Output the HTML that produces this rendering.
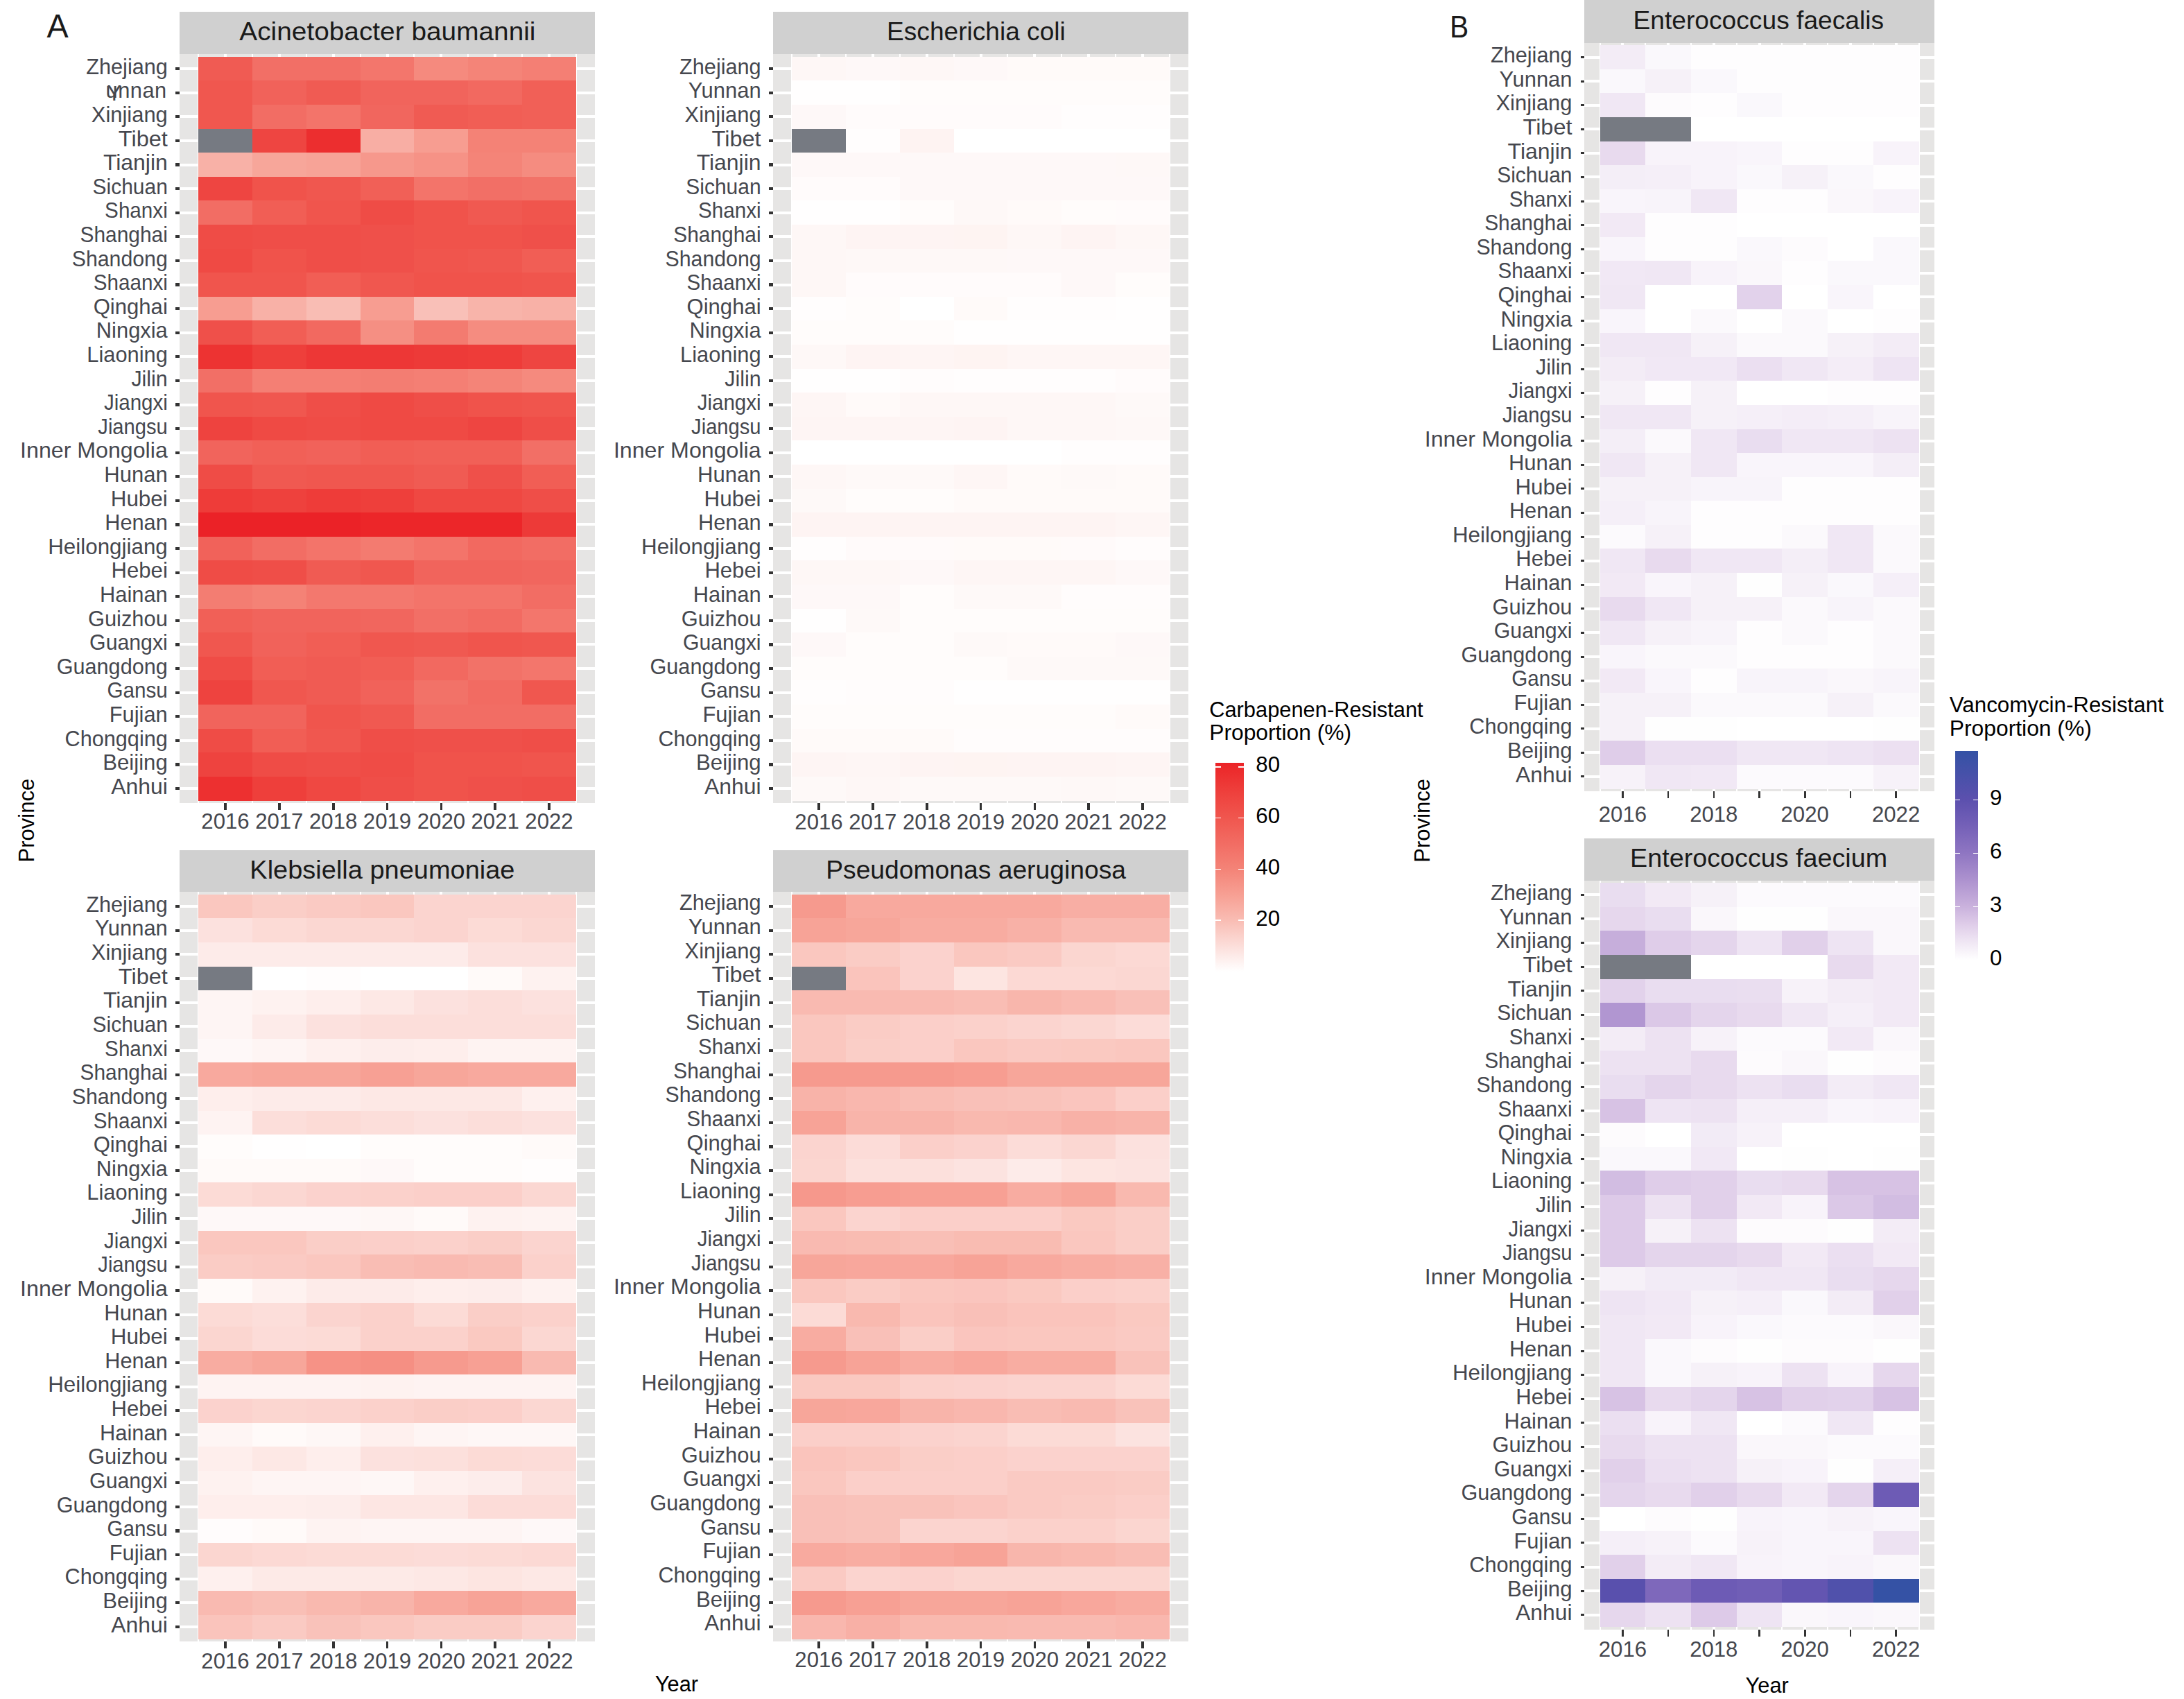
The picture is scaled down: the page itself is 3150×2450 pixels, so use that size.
<!DOCTYPE html>
<html><head><meta charset="utf-8"><title>Heatmaps</title>
<style>html,body{margin:0;padding:0;background:#fff}svg{display:block}text{font-family:'Liberation Sans', Arial, sans-serif}</style></head>
<body><svg width="3150" height="2450" viewBox="0 0 3150 2450" shape-rendering="crispEdges">
<rect width="3150" height="2450" fill="#fff"/>
<rect x="259" y="17" width="599" height="61" fill="#D0D0D0"/>
<text x="558.9" y="58.1" font-size="37.44" text-anchor="middle" fill="#1a1a1a" textLength="427.2" lengthAdjust="spacingAndGlyphs">Acinetobacter baumannii</text>
<rect x="259" y="78" width="599" height="1079.5" fill="#E6E5E4"/>
<rect x="259" y="97.1" width="599" height="4" fill="#fff"/>
<rect x="259" y="131.7" width="599" height="4" fill="#fff"/>
<rect x="259" y="166.3" width="599" height="4" fill="#fff"/>
<rect x="259" y="200.9" width="599" height="4" fill="#fff"/>
<rect x="259" y="235.5" width="599" height="4" fill="#fff"/>
<rect x="259" y="270.1" width="599" height="4" fill="#fff"/>
<rect x="259" y="304.7" width="599" height="4" fill="#fff"/>
<rect x="259" y="339.3" width="599" height="4" fill="#fff"/>
<rect x="259" y="373.9" width="599" height="4" fill="#fff"/>
<rect x="259" y="408.5" width="599" height="4" fill="#fff"/>
<rect x="259" y="443.1" width="599" height="4" fill="#fff"/>
<rect x="259" y="477.7" width="599" height="4" fill="#fff"/>
<rect x="259" y="512.3" width="599" height="4" fill="#fff"/>
<rect x="259" y="546.9" width="599" height="4" fill="#fff"/>
<rect x="259" y="581.5" width="599" height="4" fill="#fff"/>
<rect x="259" y="616.0" width="599" height="4" fill="#fff"/>
<rect x="259" y="650.6" width="599" height="4" fill="#fff"/>
<rect x="259" y="685.2" width="599" height="4" fill="#fff"/>
<rect x="259" y="719.8" width="599" height="4" fill="#fff"/>
<rect x="259" y="754.4" width="599" height="4" fill="#fff"/>
<rect x="259" y="789.0" width="599" height="4" fill="#fff"/>
<rect x="259" y="823.6" width="599" height="4" fill="#fff"/>
<rect x="259" y="858.2" width="599" height="4" fill="#fff"/>
<rect x="259" y="892.8" width="599" height="4" fill="#fff"/>
<rect x="259" y="927.4" width="599" height="4" fill="#fff"/>
<rect x="259" y="962.0" width="599" height="4" fill="#fff"/>
<rect x="259" y="996.6" width="599" height="4" fill="#fff"/>
<rect x="259" y="1031.2" width="599" height="4" fill="#fff"/>
<rect x="259" y="1065.8" width="599" height="4" fill="#fff"/>
<rect x="259" y="1100.4" width="599" height="4" fill="#fff"/>
<rect x="259" y="1135.0" width="599" height="4" fill="#fff"/>
<rect x="323.0" y="78" width="4" height="1079.5" fill="#fff"/>
<rect x="400.8" y="78" width="4" height="1079.5" fill="#fff"/>
<rect x="478.7" y="78" width="4" height="1079.5" fill="#fff"/>
<rect x="556.5" y="78" width="4" height="1079.5" fill="#fff"/>
<rect x="634.4" y="78" width="4" height="1079.5" fill="#fff"/>
<rect x="712.2" y="78" width="4" height="1079.5" fill="#fff"/>
<rect x="790.0" y="78" width="4" height="1079.5" fill="#fff"/>
<rect x="285.0" y="78" width="2" height="1079.5" fill="#fff"/>
<rect x="362.9" y="78" width="2" height="1079.5" fill="#fff"/>
<rect x="440.7" y="78" width="2" height="1079.5" fill="#fff"/>
<rect x="518.6" y="78" width="2" height="1079.5" fill="#fff"/>
<rect x="596.4" y="78" width="2" height="1079.5" fill="#fff"/>
<rect x="674.3" y="78" width="2" height="1079.5" fill="#fff"/>
<rect x="752.1" y="78" width="2" height="1079.5" fill="#fff"/>
<rect x="830.0" y="78" width="2" height="1079.5" fill="#fff"/>
<rect x="286.0" y="81.8" width="78.2" height="34.9" fill="#f05b53"/>
<rect x="363.9" y="81.8" width="78.1" height="34.9" fill="#f26f66"/>
<rect x="441.7" y="81.8" width="78.2" height="34.9" fill="#f26f66"/>
<rect x="519.6" y="81.8" width="78.1" height="34.9" fill="#f3766c"/>
<rect x="597.4" y="81.8" width="78.2" height="34.9" fill="#f58a7e"/>
<rect x="675.3" y="81.8" width="78.1" height="34.9" fill="#f48478"/>
<rect x="753.1" y="81.8" width="78.2" height="34.9" fill="#f47f74"/>
<rect x="286.0" y="116.4" width="78.2" height="34.9" fill="#f0574f"/>
<rect x="363.9" y="116.4" width="78.1" height="34.9" fill="#f1625a"/>
<rect x="441.7" y="116.4" width="78.2" height="34.9" fill="#f05b53"/>
<rect x="519.6" y="116.4" width="78.1" height="34.9" fill="#f1645c"/>
<rect x="597.4" y="116.4" width="78.2" height="34.9" fill="#f1645c"/>
<rect x="675.3" y="116.4" width="78.1" height="34.9" fill="#f26960"/>
<rect x="753.1" y="116.4" width="78.2" height="34.9" fill="#f16057"/>
<rect x="286.0" y="151.0" width="78.2" height="34.9" fill="#f0574f"/>
<rect x="363.9" y="151.0" width="78.1" height="34.9" fill="#f26d64"/>
<rect x="441.7" y="151.0" width="78.2" height="34.9" fill="#f3746a"/>
<rect x="519.6" y="151.0" width="78.1" height="34.9" fill="#f1665e"/>
<rect x="597.4" y="151.0" width="78.2" height="34.9" fill="#f05b53"/>
<rect x="675.3" y="151.0" width="78.1" height="34.9" fill="#f15e55"/>
<rect x="753.1" y="151.0" width="78.2" height="34.9" fill="#f16057"/>
<rect x="286.0" y="185.6" width="78.2" height="34.9" fill="#767A82"/>
<rect x="363.9" y="185.6" width="78.1" height="34.9" fill="#ee4541"/>
<rect x="441.7" y="185.6" width="78.2" height="34.9" fill="#ec2e2f"/>
<rect x="519.6" y="185.6" width="78.1" height="34.9" fill="#f8aea4"/>
<rect x="597.4" y="185.6" width="78.2" height="34.9" fill="#f79d91"/>
<rect x="675.3" y="185.6" width="78.1" height="34.9" fill="#f48276"/>
<rect x="753.1" y="185.6" width="78.2" height="34.9" fill="#f48276"/>
<rect x="286.0" y="220.2" width="78.2" height="34.9" fill="#f8b1a7"/>
<rect x="363.9" y="220.2" width="78.1" height="34.9" fill="#f7a69a"/>
<rect x="441.7" y="220.2" width="78.2" height="34.9" fill="#f7a397"/>
<rect x="519.6" y="220.2" width="78.1" height="34.9" fill="#f6988c"/>
<rect x="597.4" y="220.2" width="78.2" height="34.9" fill="#f69286"/>
<rect x="675.3" y="220.2" width="78.1" height="34.9" fill="#f48478"/>
<rect x="753.1" y="220.2" width="78.2" height="34.9" fill="#f58c80"/>
<rect x="286.0" y="254.8" width="78.2" height="34.9" fill="#ee4541"/>
<rect x="363.9" y="254.8" width="78.1" height="34.9" fill="#f0534b"/>
<rect x="441.7" y="254.8" width="78.2" height="34.9" fill="#f0574f"/>
<rect x="519.6" y="254.8" width="78.1" height="34.9" fill="#f16057"/>
<rect x="597.4" y="254.8" width="78.2" height="34.9" fill="#f3746a"/>
<rect x="675.3" y="254.8" width="78.1" height="34.9" fill="#f26f66"/>
<rect x="753.1" y="254.8" width="78.2" height="34.9" fill="#f27268"/>
<rect x="286.0" y="289.4" width="78.2" height="34.9" fill="#f26d64"/>
<rect x="363.9" y="289.4" width="78.1" height="34.9" fill="#f15e55"/>
<rect x="441.7" y="289.4" width="78.2" height="34.9" fill="#f0554d"/>
<rect x="519.6" y="289.4" width="78.1" height="34.9" fill="#ef4c46"/>
<rect x="597.4" y="289.4" width="78.2" height="34.9" fill="#f0534b"/>
<rect x="675.3" y="289.4" width="78.1" height="34.9" fill="#f05951"/>
<rect x="753.1" y="289.4" width="78.2" height="34.9" fill="#f0554d"/>
<rect x="286.0" y="324.0" width="78.2" height="34.9" fill="#ef4c46"/>
<rect x="363.9" y="324.0" width="78.1" height="34.9" fill="#ef4e48"/>
<rect x="441.7" y="324.0" width="78.2" height="34.9" fill="#ef4e48"/>
<rect x="519.6" y="324.0" width="78.1" height="34.9" fill="#ef504a"/>
<rect x="597.4" y="324.0" width="78.2" height="34.9" fill="#f0534b"/>
<rect x="675.3" y="324.0" width="78.1" height="34.9" fill="#f0534b"/>
<rect x="753.1" y="324.0" width="78.2" height="34.9" fill="#ef504a"/>
<rect x="286.0" y="358.6" width="78.2" height="34.9" fill="#ef4a44"/>
<rect x="363.9" y="358.6" width="78.1" height="34.9" fill="#f0534b"/>
<rect x="441.7" y="358.6" width="78.2" height="34.9" fill="#ef4e48"/>
<rect x="519.6" y="358.6" width="78.1" height="34.9" fill="#ef504a"/>
<rect x="597.4" y="358.6" width="78.2" height="34.9" fill="#f0554d"/>
<rect x="675.3" y="358.6" width="78.1" height="34.9" fill="#f0574f"/>
<rect x="753.1" y="358.6" width="78.2" height="34.9" fill="#f15e55"/>
<rect x="286.0" y="393.2" width="78.2" height="34.9" fill="#f0554d"/>
<rect x="363.9" y="393.2" width="78.1" height="34.9" fill="#f0554d"/>
<rect x="441.7" y="393.2" width="78.2" height="34.9" fill="#f15e55"/>
<rect x="519.6" y="393.2" width="78.1" height="34.9" fill="#f0574f"/>
<rect x="597.4" y="393.2" width="78.2" height="34.9" fill="#f0534b"/>
<rect x="675.3" y="393.2" width="78.1" height="34.9" fill="#f0534b"/>
<rect x="753.1" y="393.2" width="78.2" height="34.9" fill="#f0554d"/>
<rect x="286.0" y="427.8" width="78.2" height="34.9" fill="#f79d91"/>
<rect x="363.9" y="427.8" width="78.1" height="34.9" fill="#f8b1a7"/>
<rect x="441.7" y="427.8" width="78.2" height="34.9" fill="#f9bdb4"/>
<rect x="519.6" y="427.8" width="78.1" height="34.9" fill="#f79d91"/>
<rect x="597.4" y="427.8" width="78.2" height="34.9" fill="#f9c0b8"/>
<rect x="675.3" y="427.8" width="78.1" height="34.9" fill="#f8b4aa"/>
<rect x="753.1" y="427.8" width="78.2" height="34.9" fill="#f8b1a7"/>
<rect x="286.0" y="462.4" width="78.2" height="34.9" fill="#ef504a"/>
<rect x="363.9" y="462.4" width="78.1" height="34.9" fill="#f15e55"/>
<rect x="441.7" y="462.4" width="78.2" height="34.9" fill="#f26960"/>
<rect x="519.6" y="462.4" width="78.1" height="34.9" fill="#f58f83"/>
<rect x="597.4" y="462.4" width="78.2" height="34.9" fill="#f37b70"/>
<rect x="675.3" y="462.4" width="78.1" height="34.9" fill="#f58c80"/>
<rect x="753.1" y="462.4" width="78.2" height="34.9" fill="#f58c80"/>
<rect x="286.0" y="497.0" width="78.2" height="34.9" fill="#ed3332"/>
<rect x="363.9" y="497.0" width="78.1" height="34.9" fill="#ee3f3b"/>
<rect x="441.7" y="497.0" width="78.2" height="34.9" fill="#ed3736"/>
<rect x="519.6" y="497.0" width="78.1" height="34.9" fill="#ed3736"/>
<rect x="597.4" y="497.0" width="78.2" height="34.9" fill="#ed3a38"/>
<rect x="675.3" y="497.0" width="78.1" height="34.9" fill="#ee3c39"/>
<rect x="753.1" y="497.0" width="78.2" height="34.9" fill="#ee4541"/>
<rect x="286.0" y="531.6" width="78.2" height="34.9" fill="#f26f66"/>
<rect x="363.9" y="531.6" width="78.1" height="34.9" fill="#f47f74"/>
<rect x="441.7" y="531.6" width="78.2" height="34.9" fill="#f47f74"/>
<rect x="519.6" y="531.6" width="78.1" height="34.9" fill="#f37d72"/>
<rect x="597.4" y="531.6" width="78.2" height="34.9" fill="#f47f74"/>
<rect x="675.3" y="531.6" width="78.1" height="34.9" fill="#f48478"/>
<rect x="753.1" y="531.6" width="78.2" height="34.9" fill="#f58a7e"/>
<rect x="286.0" y="566.2" width="78.2" height="34.9" fill="#f0554d"/>
<rect x="363.9" y="566.2" width="78.1" height="34.9" fill="#f0574f"/>
<rect x="441.7" y="566.2" width="78.2" height="34.9" fill="#ef4e48"/>
<rect x="519.6" y="566.2" width="78.1" height="34.9" fill="#ef4a44"/>
<rect x="597.4" y="566.2" width="78.2" height="34.9" fill="#ef4e48"/>
<rect x="675.3" y="566.2" width="78.1" height="34.9" fill="#f0534b"/>
<rect x="753.1" y="566.2" width="78.2" height="34.9" fill="#f0554d"/>
<rect x="286.0" y="600.8" width="78.2" height="34.8" fill="#ee433f"/>
<rect x="363.9" y="600.8" width="78.1" height="34.8" fill="#ef4a44"/>
<rect x="441.7" y="600.8" width="78.2" height="34.8" fill="#ef4c46"/>
<rect x="519.6" y="600.8" width="78.1" height="34.8" fill="#ef4a44"/>
<rect x="597.4" y="600.8" width="78.2" height="34.8" fill="#ef4a44"/>
<rect x="675.3" y="600.8" width="78.1" height="34.8" fill="#ee4541"/>
<rect x="753.1" y="600.8" width="78.2" height="34.8" fill="#ef4e48"/>
<rect x="286.0" y="635.3" width="78.2" height="34.9" fill="#f1645c"/>
<rect x="363.9" y="635.3" width="78.1" height="34.9" fill="#f16057"/>
<rect x="441.7" y="635.3" width="78.2" height="34.9" fill="#f1625a"/>
<rect x="519.6" y="635.3" width="78.1" height="34.9" fill="#f15e55"/>
<rect x="597.4" y="635.3" width="78.2" height="34.9" fill="#f16057"/>
<rect x="675.3" y="635.3" width="78.1" height="34.9" fill="#f16057"/>
<rect x="753.1" y="635.3" width="78.2" height="34.9" fill="#f26f66"/>
<rect x="286.0" y="669.9" width="78.2" height="34.9" fill="#ef4c46"/>
<rect x="363.9" y="669.9" width="78.1" height="34.9" fill="#f05951"/>
<rect x="441.7" y="669.9" width="78.2" height="34.9" fill="#f0574f"/>
<rect x="519.6" y="669.9" width="78.1" height="34.9" fill="#f0574f"/>
<rect x="597.4" y="669.9" width="78.2" height="34.9" fill="#f05b53"/>
<rect x="675.3" y="669.9" width="78.1" height="34.9" fill="#ef504a"/>
<rect x="753.1" y="669.9" width="78.2" height="34.9" fill="#f15e55"/>
<rect x="286.0" y="704.5" width="78.2" height="34.9" fill="#ee3c39"/>
<rect x="363.9" y="704.5" width="78.1" height="34.9" fill="#ee413d"/>
<rect x="441.7" y="704.5" width="78.2" height="34.9" fill="#ee3c39"/>
<rect x="519.6" y="704.5" width="78.1" height="34.9" fill="#ee3f3b"/>
<rect x="597.4" y="704.5" width="78.2" height="34.9" fill="#ef4842"/>
<rect x="675.3" y="704.5" width="78.1" height="34.9" fill="#ef4842"/>
<rect x="753.1" y="704.5" width="78.2" height="34.9" fill="#ef4e48"/>
<rect x="286.0" y="739.1" width="78.2" height="34.9" fill="#eb2227"/>
<rect x="363.9" y="739.1" width="78.1" height="34.9" fill="#eb2227"/>
<rect x="441.7" y="739.1" width="78.2" height="34.9" fill="#eb2227"/>
<rect x="519.6" y="739.1" width="78.1" height="34.9" fill="#ec2629"/>
<rect x="597.4" y="739.1" width="78.2" height="34.9" fill="#ec2629"/>
<rect x="675.3" y="739.1" width="78.1" height="34.9" fill="#ec2629"/>
<rect x="753.1" y="739.1" width="78.2" height="34.9" fill="#ed3a38"/>
<rect x="286.0" y="773.7" width="78.2" height="34.9" fill="#f1625a"/>
<rect x="363.9" y="773.7" width="78.1" height="34.9" fill="#f26d64"/>
<rect x="441.7" y="773.7" width="78.2" height="34.9" fill="#f3746a"/>
<rect x="519.6" y="773.7" width="78.1" height="34.9" fill="#f37b70"/>
<rect x="597.4" y="773.7" width="78.2" height="34.9" fill="#f3746a"/>
<rect x="675.3" y="773.7" width="78.1" height="34.9" fill="#f26960"/>
<rect x="753.1" y="773.7" width="78.2" height="34.9" fill="#f26d64"/>
<rect x="286.0" y="808.3" width="78.2" height="34.9" fill="#ef4c46"/>
<rect x="363.9" y="808.3" width="78.1" height="34.9" fill="#ef4e48"/>
<rect x="441.7" y="808.3" width="78.2" height="34.9" fill="#f05b53"/>
<rect x="519.6" y="808.3" width="78.1" height="34.9" fill="#f0574f"/>
<rect x="597.4" y="808.3" width="78.2" height="34.9" fill="#f1645c"/>
<rect x="675.3" y="808.3" width="78.1" height="34.9" fill="#f1645c"/>
<rect x="753.1" y="808.3" width="78.2" height="34.9" fill="#f1665e"/>
<rect x="286.0" y="842.9" width="78.2" height="34.9" fill="#f37d72"/>
<rect x="363.9" y="842.9" width="78.1" height="34.9" fill="#f48276"/>
<rect x="441.7" y="842.9" width="78.2" height="34.9" fill="#f3786e"/>
<rect x="519.6" y="842.9" width="78.1" height="34.9" fill="#f3786e"/>
<rect x="597.4" y="842.9" width="78.2" height="34.9" fill="#f3746a"/>
<rect x="675.3" y="842.9" width="78.1" height="34.9" fill="#f3746a"/>
<rect x="753.1" y="842.9" width="78.2" height="34.9" fill="#f26d64"/>
<rect x="286.0" y="877.5" width="78.2" height="34.9" fill="#f16057"/>
<rect x="363.9" y="877.5" width="78.1" height="34.9" fill="#f1645c"/>
<rect x="441.7" y="877.5" width="78.2" height="34.9" fill="#f1645c"/>
<rect x="519.6" y="877.5" width="78.1" height="34.9" fill="#f1665e"/>
<rect x="597.4" y="877.5" width="78.2" height="34.9" fill="#f26f66"/>
<rect x="675.3" y="877.5" width="78.1" height="34.9" fill="#f26b62"/>
<rect x="753.1" y="877.5" width="78.2" height="34.9" fill="#f3766c"/>
<rect x="286.0" y="912.1" width="78.2" height="34.9" fill="#f0574f"/>
<rect x="363.9" y="912.1" width="78.1" height="34.9" fill="#f1625a"/>
<rect x="441.7" y="912.1" width="78.2" height="34.9" fill="#f15e55"/>
<rect x="519.6" y="912.1" width="78.1" height="34.9" fill="#f0574f"/>
<rect x="597.4" y="912.1" width="78.2" height="34.9" fill="#f05951"/>
<rect x="675.3" y="912.1" width="78.1" height="34.9" fill="#f0554d"/>
<rect x="753.1" y="912.1" width="78.2" height="34.9" fill="#f0574f"/>
<rect x="286.0" y="946.7" width="78.2" height="34.9" fill="#ef4c46"/>
<rect x="363.9" y="946.7" width="78.1" height="34.9" fill="#f15e55"/>
<rect x="441.7" y="946.7" width="78.2" height="34.9" fill="#f05b53"/>
<rect x="519.6" y="946.7" width="78.1" height="34.9" fill="#f15e55"/>
<rect x="597.4" y="946.7" width="78.2" height="34.9" fill="#f26960"/>
<rect x="675.3" y="946.7" width="78.1" height="34.9" fill="#f27268"/>
<rect x="753.1" y="946.7" width="78.2" height="34.9" fill="#f3766c"/>
<rect x="286.0" y="981.3" width="78.2" height="34.9" fill="#ee433f"/>
<rect x="363.9" y="981.3" width="78.1" height="34.9" fill="#f0574f"/>
<rect x="441.7" y="981.3" width="78.2" height="34.9" fill="#f05b53"/>
<rect x="519.6" y="981.3" width="78.1" height="34.9" fill="#f1625a"/>
<rect x="597.4" y="981.3" width="78.2" height="34.9" fill="#f27268"/>
<rect x="675.3" y="981.3" width="78.1" height="34.9" fill="#f26b62"/>
<rect x="753.1" y="981.3" width="78.2" height="34.9" fill="#f0574f"/>
<rect x="286.0" y="1015.9" width="78.2" height="34.9" fill="#f1645c"/>
<rect x="363.9" y="1015.9" width="78.1" height="34.9" fill="#f1645c"/>
<rect x="441.7" y="1015.9" width="78.2" height="34.9" fill="#f0554d"/>
<rect x="519.6" y="1015.9" width="78.1" height="34.9" fill="#f05951"/>
<rect x="597.4" y="1015.9" width="78.2" height="34.9" fill="#f26d64"/>
<rect x="675.3" y="1015.9" width="78.1" height="34.9" fill="#f26d64"/>
<rect x="753.1" y="1015.9" width="78.2" height="34.9" fill="#f26d64"/>
<rect x="286.0" y="1050.5" width="78.2" height="34.9" fill="#ef4c46"/>
<rect x="363.9" y="1050.5" width="78.1" height="34.9" fill="#f15e55"/>
<rect x="441.7" y="1050.5" width="78.2" height="34.9" fill="#f0574f"/>
<rect x="519.6" y="1050.5" width="78.1" height="34.9" fill="#ef4e48"/>
<rect x="597.4" y="1050.5" width="78.2" height="34.9" fill="#ef504a"/>
<rect x="675.3" y="1050.5" width="78.1" height="34.9" fill="#ef504a"/>
<rect x="753.1" y="1050.5" width="78.2" height="34.9" fill="#ef4e48"/>
<rect x="286.0" y="1085.1" width="78.2" height="34.9" fill="#ee433f"/>
<rect x="363.9" y="1085.1" width="78.1" height="34.9" fill="#ef4c46"/>
<rect x="441.7" y="1085.1" width="78.2" height="34.9" fill="#ef4e48"/>
<rect x="519.6" y="1085.1" width="78.1" height="34.9" fill="#ef4c46"/>
<rect x="597.4" y="1085.1" width="78.2" height="34.9" fill="#f0534b"/>
<rect x="675.3" y="1085.1" width="78.1" height="34.9" fill="#f0534b"/>
<rect x="753.1" y="1085.1" width="78.2" height="34.9" fill="#f0554d"/>
<rect x="286.0" y="1119.7" width="78.2" height="34.9" fill="#ed3030"/>
<rect x="363.9" y="1119.7" width="78.1" height="34.9" fill="#ee3f3b"/>
<rect x="441.7" y="1119.7" width="78.2" height="34.9" fill="#ef4842"/>
<rect x="519.6" y="1119.7" width="78.1" height="34.9" fill="#ef4e48"/>
<rect x="597.4" y="1119.7" width="78.2" height="34.9" fill="#f0534b"/>
<rect x="675.3" y="1119.7" width="78.1" height="34.9" fill="#ef504a"/>
<rect x="753.1" y="1119.7" width="78.2" height="34.9" fill="#ef4e48"/>
<rect x="252.7" y="97.0" width="6.3" height="4.1" fill="#333333"/>
<text x="241.8" y="106.8" font-size="30.78" text-anchor="end" fill="#45474e" textLength="117.5" lengthAdjust="spacingAndGlyphs">Zhejiang</text>
<rect x="252.7" y="131.6" width="6.3" height="4.1" fill="#333333"/>
<text x="152.6" y="145.1" font-size="30.78" fill="#45474e" letter-spacing="0.5"><tspan>Y</tspan><tspan dx="-21.2" dy="-3.7">unnan</tspan></text>
<rect x="252.7" y="166.2" width="6.3" height="4.1" fill="#333333"/>
<text x="241.8" y="176.0" font-size="30.78" text-anchor="end" fill="#45474e" textLength="110.0" lengthAdjust="spacingAndGlyphs">Xinjiang</text>
<rect x="252.7" y="200.8" width="6.3" height="4.1" fill="#333333"/>
<text x="241.8" y="210.6" font-size="30.78" text-anchor="end" fill="#45474e" textLength="71.0" lengthAdjust="spacingAndGlyphs">Tibet</text>
<rect x="252.7" y="235.4" width="6.3" height="4.1" fill="#333333"/>
<text x="241.8" y="245.2" font-size="30.78" text-anchor="end" fill="#45474e" textLength="92.9" lengthAdjust="spacingAndGlyphs">Tianjin</text>
<rect x="252.7" y="270.0" width="6.3" height="4.1" fill="#333333"/>
<text x="241.8" y="279.8" font-size="30.78" text-anchor="end" fill="#45474e" textLength="108.3" lengthAdjust="spacingAndGlyphs">Sichuan</text>
<rect x="252.7" y="304.6" width="6.3" height="4.1" fill="#333333"/>
<text x="241.8" y="314.4" font-size="30.78" text-anchor="end" fill="#45474e" textLength="90.7" lengthAdjust="spacingAndGlyphs">Shanxi</text>
<rect x="252.7" y="339.2" width="6.3" height="4.1" fill="#333333"/>
<text x="241.8" y="349.0" font-size="30.78" text-anchor="end" fill="#45474e" textLength="126.3" lengthAdjust="spacingAndGlyphs">Shanghai</text>
<rect x="252.7" y="373.8" width="6.3" height="4.1" fill="#333333"/>
<text x="241.8" y="383.6" font-size="30.78" text-anchor="end" fill="#45474e" textLength="138.1" lengthAdjust="spacingAndGlyphs">Shandong</text>
<rect x="252.7" y="408.4" width="6.3" height="4.1" fill="#333333"/>
<text x="241.8" y="418.2" font-size="30.78" text-anchor="end" fill="#45474e" textLength="107.1" lengthAdjust="spacingAndGlyphs">Shaanxi</text>
<rect x="252.7" y="443.0" width="6.3" height="4.1" fill="#333333"/>
<text x="241.8" y="452.8" font-size="30.78" text-anchor="end" fill="#45474e" textLength="107.1" lengthAdjust="spacingAndGlyphs">Qinghai</text>
<rect x="252.7" y="477.6" width="6.3" height="4.1" fill="#333333"/>
<text x="241.8" y="487.4" font-size="30.78" text-anchor="end" fill="#45474e" textLength="103.0" lengthAdjust="spacingAndGlyphs">Ningxia</text>
<rect x="252.7" y="512.2" width="6.3" height="4.1" fill="#333333"/>
<text x="241.8" y="522.0" font-size="30.78" text-anchor="end" fill="#45474e" textLength="116.5" lengthAdjust="spacingAndGlyphs">Liaoning</text>
<rect x="252.7" y="546.8" width="6.3" height="4.1" fill="#333333"/>
<text x="241.8" y="556.6" font-size="30.78" text-anchor="end" fill="#45474e" textLength="52.4" lengthAdjust="spacingAndGlyphs">Jilin</text>
<rect x="252.7" y="581.4" width="6.3" height="4.1" fill="#333333"/>
<text x="241.8" y="591.2" font-size="30.78" text-anchor="end" fill="#45474e" textLength="91.9" lengthAdjust="spacingAndGlyphs">Jiangxi</text>
<rect x="252.7" y="616.0" width="6.3" height="4.1" fill="#333333"/>
<text x="241.8" y="625.8" font-size="30.78" text-anchor="end" fill="#45474e" textLength="100.5" lengthAdjust="spacingAndGlyphs">Jiangsu</text>
<rect x="252.7" y="650.6" width="6.3" height="4.1" fill="#333333"/>
<text x="241.8" y="660.3" font-size="30.78" text-anchor="end" fill="#45474e" textLength="212.7" lengthAdjust="spacingAndGlyphs">Inner Mongolia</text>
<rect x="252.7" y="685.2" width="6.3" height="4.1" fill="#333333"/>
<text x="241.8" y="694.9" font-size="30.78" text-anchor="end" fill="#45474e" textLength="91.6" lengthAdjust="spacingAndGlyphs">Hunan</text>
<rect x="252.7" y="719.8" width="6.3" height="4.1" fill="#333333"/>
<text x="241.8" y="729.5" font-size="30.78" text-anchor="end" fill="#45474e" textLength="82.1" lengthAdjust="spacingAndGlyphs">Hubei</text>
<rect x="252.7" y="754.4" width="6.3" height="4.1" fill="#333333"/>
<text x="241.8" y="764.1" font-size="30.78" text-anchor="end" fill="#45474e" textLength="90.6" lengthAdjust="spacingAndGlyphs">Henan</text>
<rect x="252.7" y="789.0" width="6.3" height="4.1" fill="#333333"/>
<text x="241.8" y="798.7" font-size="30.78" text-anchor="end" fill="#45474e" textLength="172.6" lengthAdjust="spacingAndGlyphs">Heilongjiang</text>
<rect x="252.7" y="823.6" width="6.3" height="4.1" fill="#333333"/>
<text x="241.8" y="833.3" font-size="30.78" text-anchor="end" fill="#45474e" textLength="81.2" lengthAdjust="spacingAndGlyphs">Hebei</text>
<rect x="252.7" y="858.2" width="6.3" height="4.1" fill="#333333"/>
<text x="241.8" y="867.9" font-size="30.78" text-anchor="end" fill="#45474e" textLength="97.9" lengthAdjust="spacingAndGlyphs">Hainan</text>
<rect x="252.7" y="892.8" width="6.3" height="4.1" fill="#333333"/>
<text x="241.8" y="902.5" font-size="30.78" text-anchor="end" fill="#45474e" textLength="114.9" lengthAdjust="spacingAndGlyphs">Guizhou</text>
<rect x="252.7" y="927.4" width="6.3" height="4.1" fill="#333333"/>
<text x="241.8" y="937.1" font-size="30.78" text-anchor="end" fill="#45474e" textLength="112.7" lengthAdjust="spacingAndGlyphs">Guangxi</text>
<rect x="252.7" y="962.0" width="6.3" height="4.1" fill="#333333"/>
<text x="241.8" y="971.7" font-size="30.78" text-anchor="end" fill="#45474e" textLength="160.1" lengthAdjust="spacingAndGlyphs">Guangdong</text>
<rect x="252.7" y="996.6" width="6.3" height="4.1" fill="#333333"/>
<text x="241.8" y="1006.3" font-size="30.78" text-anchor="end" fill="#45474e" textLength="87.3" lengthAdjust="spacingAndGlyphs">Gansu</text>
<rect x="252.7" y="1031.2" width="6.3" height="4.1" fill="#333333"/>
<text x="241.8" y="1040.9" font-size="30.78" text-anchor="end" fill="#45474e" textLength="84.1" lengthAdjust="spacingAndGlyphs">Fujian</text>
<rect x="252.7" y="1065.8" width="6.3" height="4.1" fill="#333333"/>
<text x="241.8" y="1075.5" font-size="30.78" text-anchor="end" fill="#45474e" textLength="148.2" lengthAdjust="spacingAndGlyphs">Chongqing</text>
<rect x="252.7" y="1100.4" width="6.3" height="4.1" fill="#333333"/>
<text x="241.8" y="1110.1" font-size="30.78" text-anchor="end" fill="#45474e" textLength="93.6" lengthAdjust="spacingAndGlyphs">Beijing</text>
<rect x="252.7" y="1135.0" width="6.3" height="4.1" fill="#333333"/>
<text x="241.8" y="1144.7" font-size="30.78" text-anchor="end" fill="#45474e" textLength="81.5" lengthAdjust="spacingAndGlyphs">Anhui</text>
<rect x="323.1" y="1157.5" width="3.7" height="10" fill="#333333"/>
<text x="325.0" y="1195.2" font-size="30.78" text-anchor="middle" fill="#45474e" textLength="69.3" lengthAdjust="spacingAndGlyphs">2016</text>
<rect x="400.9" y="1157.5" width="3.7" height="10" fill="#333333"/>
<text x="402.8" y="1195.2" font-size="30.78" text-anchor="middle" fill="#45474e" textLength="69.3" lengthAdjust="spacingAndGlyphs">2017</text>
<rect x="478.8" y="1157.5" width="3.7" height="10" fill="#333333"/>
<text x="480.7" y="1195.2" font-size="30.78" text-anchor="middle" fill="#45474e" textLength="69.3" lengthAdjust="spacingAndGlyphs">2018</text>
<rect x="556.6" y="1157.5" width="3.7" height="10" fill="#333333"/>
<text x="558.5" y="1195.2" font-size="30.78" text-anchor="middle" fill="#45474e" textLength="69.3" lengthAdjust="spacingAndGlyphs">2019</text>
<rect x="634.5" y="1157.5" width="3.7" height="10" fill="#333333"/>
<text x="636.4" y="1195.2" font-size="30.78" text-anchor="middle" fill="#45474e" textLength="69.3" lengthAdjust="spacingAndGlyphs">2020</text>
<rect x="712.4" y="1157.5" width="3.7" height="10" fill="#333333"/>
<text x="714.2" y="1195.2" font-size="30.78" text-anchor="middle" fill="#45474e" textLength="69.3" lengthAdjust="spacingAndGlyphs">2021</text>
<rect x="790.2" y="1157.5" width="3.7" height="10" fill="#333333"/>
<text x="792.0" y="1195.2" font-size="30.78" text-anchor="middle" fill="#45474e" textLength="69.3" lengthAdjust="spacingAndGlyphs">2022</text>
<rect x="1115" y="17" width="599" height="61" fill="#D0D0D0"/>
<text x="1407.9" y="58.1" font-size="37.44" text-anchor="middle" fill="#1a1a1a" textLength="257.7" lengthAdjust="spacingAndGlyphs">Escherichia coli</text>
<rect x="1115" y="78" width="599" height="1079.5" fill="#E6E5E4"/>
<rect x="1115" y="97.1" width="599" height="4" fill="#fff"/>
<rect x="1115" y="131.7" width="599" height="4" fill="#fff"/>
<rect x="1115" y="166.3" width="599" height="4" fill="#fff"/>
<rect x="1115" y="200.9" width="599" height="4" fill="#fff"/>
<rect x="1115" y="235.5" width="599" height="4" fill="#fff"/>
<rect x="1115" y="270.1" width="599" height="4" fill="#fff"/>
<rect x="1115" y="304.7" width="599" height="4" fill="#fff"/>
<rect x="1115" y="339.3" width="599" height="4" fill="#fff"/>
<rect x="1115" y="373.9" width="599" height="4" fill="#fff"/>
<rect x="1115" y="408.5" width="599" height="4" fill="#fff"/>
<rect x="1115" y="443.1" width="599" height="4" fill="#fff"/>
<rect x="1115" y="477.7" width="599" height="4" fill="#fff"/>
<rect x="1115" y="512.3" width="599" height="4" fill="#fff"/>
<rect x="1115" y="546.9" width="599" height="4" fill="#fff"/>
<rect x="1115" y="581.5" width="599" height="4" fill="#fff"/>
<rect x="1115" y="616.0" width="599" height="4" fill="#fff"/>
<rect x="1115" y="650.6" width="599" height="4" fill="#fff"/>
<rect x="1115" y="685.2" width="599" height="4" fill="#fff"/>
<rect x="1115" y="719.8" width="599" height="4" fill="#fff"/>
<rect x="1115" y="754.4" width="599" height="4" fill="#fff"/>
<rect x="1115" y="789.0" width="599" height="4" fill="#fff"/>
<rect x="1115" y="823.6" width="599" height="4" fill="#fff"/>
<rect x="1115" y="858.2" width="599" height="4" fill="#fff"/>
<rect x="1115" y="892.8" width="599" height="4" fill="#fff"/>
<rect x="1115" y="927.4" width="599" height="4" fill="#fff"/>
<rect x="1115" y="962.0" width="599" height="4" fill="#fff"/>
<rect x="1115" y="996.6" width="599" height="4" fill="#fff"/>
<rect x="1115" y="1031.2" width="599" height="4" fill="#fff"/>
<rect x="1115" y="1065.8" width="599" height="4" fill="#fff"/>
<rect x="1115" y="1100.4" width="599" height="4" fill="#fff"/>
<rect x="1115" y="1135.0" width="599" height="4" fill="#fff"/>
<rect x="1179.0" y="78" width="4" height="1079.5" fill="#fff"/>
<rect x="1256.8" y="78" width="4" height="1079.5" fill="#fff"/>
<rect x="1334.7" y="78" width="4" height="1079.5" fill="#fff"/>
<rect x="1412.5" y="78" width="4" height="1079.5" fill="#fff"/>
<rect x="1490.4" y="78" width="4" height="1079.5" fill="#fff"/>
<rect x="1568.2" y="78" width="4" height="1079.5" fill="#fff"/>
<rect x="1646.1" y="78" width="4" height="1079.5" fill="#fff"/>
<rect x="1141.0" y="78" width="2" height="1079.5" fill="#fff"/>
<rect x="1218.9" y="78" width="2" height="1079.5" fill="#fff"/>
<rect x="1296.7" y="78" width="2" height="1079.5" fill="#fff"/>
<rect x="1374.6" y="78" width="2" height="1079.5" fill="#fff"/>
<rect x="1452.4" y="78" width="2" height="1079.5" fill="#fff"/>
<rect x="1530.3" y="78" width="2" height="1079.5" fill="#fff"/>
<rect x="1608.1" y="78" width="2" height="1079.5" fill="#fff"/>
<rect x="1686.0" y="78" width="2" height="1079.5" fill="#fff"/>
<rect x="1142.0" y="81.8" width="78.2" height="34.9" fill="#fef7f6"/>
<rect x="1219.9" y="81.8" width="78.1" height="34.9" fill="#fef8f8"/>
<rect x="1297.7" y="81.8" width="78.2" height="34.9" fill="#fef7f6"/>
<rect x="1375.6" y="81.8" width="78.1" height="34.9" fill="#fef8f8"/>
<rect x="1453.4" y="81.8" width="78.2" height="34.9" fill="#fffaf9"/>
<rect x="1531.3" y="81.8" width="78.1" height="34.9" fill="#fffaf9"/>
<rect x="1609.1" y="81.8" width="78.2" height="34.9" fill="#fffaf9"/>
<rect x="1142.0" y="116.4" width="78.2" height="34.9" fill="#fffefe"/>
<rect x="1219.9" y="116.4" width="78.1" height="34.9" fill="#fffefe"/>
<rect x="1297.7" y="116.4" width="78.2" height="34.9" fill="#fffcfb"/>
<rect x="1375.6" y="116.4" width="78.1" height="34.9" fill="#fffcfb"/>
<rect x="1453.4" y="116.4" width="78.2" height="34.9" fill="#fffcfb"/>
<rect x="1531.3" y="116.4" width="78.1" height="34.9" fill="#fffcfb"/>
<rect x="1609.1" y="116.4" width="78.2" height="34.9" fill="#fffcfb"/>
<rect x="1142.0" y="151.0" width="78.2" height="34.9" fill="#fef8f8"/>
<rect x="1219.9" y="151.0" width="78.1" height="34.9" fill="#fffbfb"/>
<rect x="1297.7" y="151.0" width="78.2" height="34.9" fill="#fffbfb"/>
<rect x="1375.6" y="151.0" width="78.1" height="34.9" fill="#fffbfb"/>
<rect x="1453.4" y="151.0" width="78.2" height="34.9" fill="#fffbfb"/>
<rect x="1531.3" y="151.0" width="78.1" height="34.9" fill="#fffdfd"/>
<rect x="1609.1" y="151.0" width="78.2" height="34.9" fill="#fffdfd"/>
<rect x="1142.0" y="185.6" width="78.2" height="34.9" fill="#767A82"/>
<rect x="1219.9" y="185.6" width="78.1" height="34.9" fill="#fffdfd"/>
<rect x="1297.7" y="185.6" width="78.2" height="34.9" fill="#fef3f2"/>
<rect x="1375.6" y="185.6" width="78.1" height="34.9" fill="#FFFFFF"/>
<rect x="1453.4" y="185.6" width="78.2" height="34.9" fill="#FFFFFF"/>
<rect x="1531.3" y="185.6" width="78.1" height="34.9" fill="#FFFFFF"/>
<rect x="1609.1" y="185.6" width="78.2" height="34.9" fill="#FFFFFF"/>
<rect x="1142.0" y="220.2" width="78.2" height="34.9" fill="#fef8f8"/>
<rect x="1219.9" y="220.2" width="78.1" height="34.9" fill="#fef8f8"/>
<rect x="1297.7" y="220.2" width="78.2" height="34.9" fill="#fef8f8"/>
<rect x="1375.6" y="220.2" width="78.1" height="34.9" fill="#fef8f8"/>
<rect x="1453.4" y="220.2" width="78.2" height="34.9" fill="#fef8f8"/>
<rect x="1531.3" y="220.2" width="78.1" height="34.9" fill="#fef8f8"/>
<rect x="1609.1" y="220.2" width="78.2" height="34.9" fill="#fef8f7"/>
<rect x="1142.0" y="254.8" width="78.2" height="34.9" fill="#fffbfb"/>
<rect x="1219.9" y="254.8" width="78.1" height="34.9" fill="#fffbfb"/>
<rect x="1297.7" y="254.8" width="78.2" height="34.9" fill="#fef8f8"/>
<rect x="1375.6" y="254.8" width="78.1" height="34.9" fill="#fef8f8"/>
<rect x="1453.4" y="254.8" width="78.2" height="34.9" fill="#fef8f8"/>
<rect x="1531.3" y="254.8" width="78.1" height="34.9" fill="#fef8f8"/>
<rect x="1609.1" y="254.8" width="78.2" height="34.9" fill="#fef8f8"/>
<rect x="1142.0" y="289.4" width="78.2" height="34.9" fill="#fffefe"/>
<rect x="1219.9" y="289.4" width="78.1" height="34.9" fill="#fffefe"/>
<rect x="1297.7" y="289.4" width="78.2" height="34.9" fill="#fffcfb"/>
<rect x="1375.6" y="289.4" width="78.1" height="34.9" fill="#fef8f7"/>
<rect x="1453.4" y="289.4" width="78.2" height="34.9" fill="#fffaf9"/>
<rect x="1531.3" y="289.4" width="78.1" height="34.9" fill="#fffcfb"/>
<rect x="1609.1" y="289.4" width="78.2" height="34.9" fill="#fffbfb"/>
<rect x="1142.0" y="324.0" width="78.2" height="34.9" fill="#fef7f6"/>
<rect x="1219.9" y="324.0" width="78.1" height="34.9" fill="#fef4f3"/>
<rect x="1297.7" y="324.0" width="78.2" height="34.9" fill="#fef4f3"/>
<rect x="1375.6" y="324.0" width="78.1" height="34.9" fill="#fef4f2"/>
<rect x="1453.4" y="324.0" width="78.2" height="34.9" fill="#fef7f6"/>
<rect x="1531.3" y="324.0" width="78.1" height="34.9" fill="#fef4f3"/>
<rect x="1609.1" y="324.0" width="78.2" height="34.9" fill="#fef7f6"/>
<rect x="1142.0" y="358.6" width="78.2" height="34.9" fill="#fef7f6"/>
<rect x="1219.9" y="358.6" width="78.1" height="34.9" fill="#fef8f7"/>
<rect x="1297.7" y="358.6" width="78.2" height="34.9" fill="#fef8f7"/>
<rect x="1375.6" y="358.6" width="78.1" height="34.9" fill="#fef8f7"/>
<rect x="1453.4" y="358.6" width="78.2" height="34.9" fill="#fef8f8"/>
<rect x="1531.3" y="358.6" width="78.1" height="34.9" fill="#fef8f8"/>
<rect x="1609.1" y="358.6" width="78.2" height="34.9" fill="#fef8f8"/>
<rect x="1142.0" y="393.2" width="78.2" height="34.9" fill="#fef7f6"/>
<rect x="1219.9" y="393.2" width="78.1" height="34.9" fill="#fffbfb"/>
<rect x="1297.7" y="393.2" width="78.2" height="34.9" fill="#fffbfb"/>
<rect x="1375.6" y="393.2" width="78.1" height="34.9" fill="#fffbfb"/>
<rect x="1453.4" y="393.2" width="78.2" height="34.9" fill="#fffbfb"/>
<rect x="1531.3" y="393.2" width="78.1" height="34.9" fill="#fef8f8"/>
<rect x="1609.1" y="393.2" width="78.2" height="34.9" fill="#fffcfb"/>
<rect x="1142.0" y="427.8" width="78.2" height="34.9" fill="#fffdfd"/>
<rect x="1219.9" y="427.8" width="78.1" height="34.9" fill="#fffcfb"/>
<rect x="1297.7" y="427.8" width="78.2" height="34.9" fill="#FFFFFF"/>
<rect x="1375.6" y="427.8" width="78.1" height="34.9" fill="#fffaf9"/>
<rect x="1453.4" y="427.8" width="78.2" height="34.9" fill="#fffdfd"/>
<rect x="1531.3" y="427.8" width="78.1" height="34.9" fill="#fffdfd"/>
<rect x="1609.1" y="427.8" width="78.2" height="34.9" fill="#fffefe"/>
<rect x="1142.0" y="462.4" width="78.2" height="34.9" fill="#fffcfb"/>
<rect x="1219.9" y="462.4" width="78.1" height="34.9" fill="#fffcfb"/>
<rect x="1297.7" y="462.4" width="78.2" height="34.9" fill="#fffcfb"/>
<rect x="1375.6" y="462.4" width="78.1" height="34.9" fill="#fffefe"/>
<rect x="1453.4" y="462.4" width="78.2" height="34.9" fill="#fffefe"/>
<rect x="1531.3" y="462.4" width="78.1" height="34.9" fill="#fffefe"/>
<rect x="1609.1" y="462.4" width="78.2" height="34.9" fill="#fffefe"/>
<rect x="1142.0" y="497.0" width="78.2" height="34.9" fill="#fef8f7"/>
<rect x="1219.9" y="497.0" width="78.1" height="34.9" fill="#fef4f3"/>
<rect x="1297.7" y="497.0" width="78.2" height="34.9" fill="#fef5f4"/>
<rect x="1375.6" y="497.0" width="78.1" height="34.9" fill="#fef4f2"/>
<rect x="1453.4" y="497.0" width="78.2" height="34.9" fill="#fef6f5"/>
<rect x="1531.3" y="497.0" width="78.1" height="34.9" fill="#fef6f5"/>
<rect x="1609.1" y="497.0" width="78.2" height="34.9" fill="#fef6f5"/>
<rect x="1142.0" y="531.6" width="78.2" height="34.9" fill="#fffefe"/>
<rect x="1219.9" y="531.6" width="78.1" height="34.9" fill="#fffefe"/>
<rect x="1297.7" y="531.6" width="78.2" height="34.9" fill="#fffcfc"/>
<rect x="1375.6" y="531.6" width="78.1" height="34.9" fill="#fffdfd"/>
<rect x="1453.4" y="531.6" width="78.2" height="34.9" fill="#fffdfd"/>
<rect x="1531.3" y="531.6" width="78.1" height="34.9" fill="#fffdfd"/>
<rect x="1609.1" y="531.6" width="78.2" height="34.9" fill="#fffbfb"/>
<rect x="1142.0" y="566.2" width="78.2" height="34.9" fill="#fef6f5"/>
<rect x="1219.9" y="566.2" width="78.1" height="34.9" fill="#fffaf9"/>
<rect x="1297.7" y="566.2" width="78.2" height="34.9" fill="#fef7f6"/>
<rect x="1375.6" y="566.2" width="78.1" height="34.9" fill="#fef7f6"/>
<rect x="1453.4" y="566.2" width="78.2" height="34.9" fill="#fef7f6"/>
<rect x="1531.3" y="566.2" width="78.1" height="34.9" fill="#fef7f6"/>
<rect x="1609.1" y="566.2" width="78.2" height="34.9" fill="#fef9f8"/>
<rect x="1142.0" y="600.8" width="78.2" height="34.8" fill="#fef5f4"/>
<rect x="1219.9" y="600.8" width="78.1" height="34.8" fill="#fef5f4"/>
<rect x="1297.7" y="600.8" width="78.2" height="34.8" fill="#fef5f4"/>
<rect x="1375.6" y="600.8" width="78.1" height="34.8" fill="#fef4f3"/>
<rect x="1453.4" y="600.8" width="78.2" height="34.8" fill="#fef7f6"/>
<rect x="1531.3" y="600.8" width="78.1" height="34.8" fill="#fef7f6"/>
<rect x="1609.1" y="600.8" width="78.2" height="34.8" fill="#fef8f7"/>
<rect x="1142.0" y="635.3" width="78.2" height="34.9" fill="#FFFFFF"/>
<rect x="1219.9" y="635.3" width="78.1" height="34.9" fill="#FFFFFF"/>
<rect x="1297.7" y="635.3" width="78.2" height="34.9" fill="#FFFFFF"/>
<rect x="1375.6" y="635.3" width="78.1" height="34.9" fill="#FFFFFF"/>
<rect x="1453.4" y="635.3" width="78.2" height="34.9" fill="#FFFFFF"/>
<rect x="1531.3" y="635.3" width="78.1" height="34.9" fill="#fffdfd"/>
<rect x="1609.1" y="635.3" width="78.2" height="34.9" fill="#fffdfd"/>
<rect x="1142.0" y="669.9" width="78.2" height="34.9" fill="#fef7f6"/>
<rect x="1219.9" y="669.9" width="78.1" height="34.9" fill="#fef9f8"/>
<rect x="1297.7" y="669.9" width="78.2" height="34.9" fill="#fef9f8"/>
<rect x="1375.6" y="669.9" width="78.1" height="34.9" fill="#fef6f5"/>
<rect x="1453.4" y="669.9" width="78.2" height="34.9" fill="#fffaf9"/>
<rect x="1531.3" y="669.9" width="78.1" height="34.9" fill="#fef9f8"/>
<rect x="1609.1" y="669.9" width="78.2" height="34.9" fill="#fffaf9"/>
<rect x="1142.0" y="704.5" width="78.2" height="34.9" fill="#fef9f8"/>
<rect x="1219.9" y="704.5" width="78.1" height="34.9" fill="#fffcfb"/>
<rect x="1297.7" y="704.5" width="78.2" height="34.9" fill="#fffcfb"/>
<rect x="1375.6" y="704.5" width="78.1" height="34.9" fill="#fffaf9"/>
<rect x="1453.4" y="704.5" width="78.2" height="34.9" fill="#fffaf9"/>
<rect x="1531.3" y="704.5" width="78.1" height="34.9" fill="#fffaf9"/>
<rect x="1609.1" y="704.5" width="78.2" height="34.9" fill="#fffaf9"/>
<rect x="1142.0" y="739.1" width="78.2" height="34.9" fill="#fef4f3"/>
<rect x="1219.9" y="739.1" width="78.1" height="34.9" fill="#fef4f3"/>
<rect x="1297.7" y="739.1" width="78.2" height="34.9" fill="#fef4f3"/>
<rect x="1375.6" y="739.1" width="78.1" height="34.9" fill="#fef4f3"/>
<rect x="1453.4" y="739.1" width="78.2" height="34.9" fill="#fef4f3"/>
<rect x="1531.3" y="739.1" width="78.1" height="34.9" fill="#fef4f3"/>
<rect x="1609.1" y="739.1" width="78.2" height="34.9" fill="#fef6f5"/>
<rect x="1142.0" y="773.7" width="78.2" height="34.9" fill="#fffdfd"/>
<rect x="1219.9" y="773.7" width="78.1" height="34.9" fill="#fffafa"/>
<rect x="1297.7" y="773.7" width="78.2" height="34.9" fill="#fffafa"/>
<rect x="1375.6" y="773.7" width="78.1" height="34.9" fill="#fffaf9"/>
<rect x="1453.4" y="773.7" width="78.2" height="34.9" fill="#fffaf9"/>
<rect x="1531.3" y="773.7" width="78.1" height="34.9" fill="#fffafa"/>
<rect x="1609.1" y="773.7" width="78.2" height="34.9" fill="#fffcfc"/>
<rect x="1142.0" y="808.3" width="78.2" height="34.9" fill="#fef7f6"/>
<rect x="1219.9" y="808.3" width="78.1" height="34.9" fill="#fef7f6"/>
<rect x="1297.7" y="808.3" width="78.2" height="34.9" fill="#fef8f8"/>
<rect x="1375.6" y="808.3" width="78.1" height="34.9" fill="#fef6f5"/>
<rect x="1453.4" y="808.3" width="78.2" height="34.9" fill="#fef6f5"/>
<rect x="1531.3" y="808.3" width="78.1" height="34.9" fill="#fef6f5"/>
<rect x="1609.1" y="808.3" width="78.2" height="34.9" fill="#fef8f8"/>
<rect x="1142.0" y="842.9" width="78.2" height="34.9" fill="#fef8f8"/>
<rect x="1219.9" y="842.9" width="78.1" height="34.9" fill="#fef8f8"/>
<rect x="1297.7" y="842.9" width="78.2" height="34.9" fill="#fffcfb"/>
<rect x="1375.6" y="842.9" width="78.1" height="34.9" fill="#fef9f8"/>
<rect x="1453.4" y="842.9" width="78.2" height="34.9" fill="#fef9f8"/>
<rect x="1531.3" y="842.9" width="78.1" height="34.9" fill="#fffcfc"/>
<rect x="1609.1" y="842.9" width="78.2" height="34.9" fill="#fffcfc"/>
<rect x="1142.0" y="877.5" width="78.2" height="34.9" fill="#fffefe"/>
<rect x="1219.9" y="877.5" width="78.1" height="34.9" fill="#fef9f8"/>
<rect x="1297.7" y="877.5" width="78.2" height="34.9" fill="#fffcfb"/>
<rect x="1375.6" y="877.5" width="78.1" height="34.9" fill="#fffcfb"/>
<rect x="1453.4" y="877.5" width="78.2" height="34.9" fill="#fffcfb"/>
<rect x="1531.3" y="877.5" width="78.1" height="34.9" fill="#fffcfb"/>
<rect x="1609.1" y="877.5" width="78.2" height="34.9" fill="#fffcfb"/>
<rect x="1142.0" y="912.1" width="78.2" height="34.9" fill="#fef8f8"/>
<rect x="1219.9" y="912.1" width="78.1" height="34.9" fill="#fffcfb"/>
<rect x="1297.7" y="912.1" width="78.2" height="34.9" fill="#fffcfb"/>
<rect x="1375.6" y="912.1" width="78.1" height="34.9" fill="#fef9f8"/>
<rect x="1453.4" y="912.1" width="78.2" height="34.9" fill="#fffaf9"/>
<rect x="1531.3" y="912.1" width="78.1" height="34.9" fill="#fffaf9"/>
<rect x="1609.1" y="912.1" width="78.2" height="34.9" fill="#fef8f8"/>
<rect x="1142.0" y="946.7" width="78.2" height="34.9" fill="#fffcfb"/>
<rect x="1219.9" y="946.7" width="78.1" height="34.9" fill="#fffcfb"/>
<rect x="1297.7" y="946.7" width="78.2" height="34.9" fill="#fffcfb"/>
<rect x="1375.6" y="946.7" width="78.1" height="34.9" fill="#fffcfb"/>
<rect x="1453.4" y="946.7" width="78.2" height="34.9" fill="#fef9f8"/>
<rect x="1531.3" y="946.7" width="78.1" height="34.9" fill="#fef9f8"/>
<rect x="1609.1" y="946.7" width="78.2" height="34.9" fill="#fef9f8"/>
<rect x="1142.0" y="981.3" width="78.2" height="34.9" fill="#fffdfd"/>
<rect x="1219.9" y="981.3" width="78.1" height="34.9" fill="#fffcfc"/>
<rect x="1297.7" y="981.3" width="78.2" height="34.9" fill="#fffcfc"/>
<rect x="1375.6" y="981.3" width="78.1" height="34.9" fill="#fffefe"/>
<rect x="1453.4" y="981.3" width="78.2" height="34.9" fill="#fffefe"/>
<rect x="1531.3" y="981.3" width="78.1" height="34.9" fill="#fffefe"/>
<rect x="1609.1" y="981.3" width="78.2" height="34.9" fill="#fffefe"/>
<rect x="1142.0" y="1015.9" width="78.2" height="34.9" fill="#fffcfb"/>
<rect x="1219.9" y="1015.9" width="78.1" height="34.9" fill="#fffcfb"/>
<rect x="1297.7" y="1015.9" width="78.2" height="34.9" fill="#fffcfb"/>
<rect x="1375.6" y="1015.9" width="78.1" height="34.9" fill="#fffcfb"/>
<rect x="1453.4" y="1015.9" width="78.2" height="34.9" fill="#fffcfb"/>
<rect x="1531.3" y="1015.9" width="78.1" height="34.9" fill="#fffcfb"/>
<rect x="1609.1" y="1015.9" width="78.2" height="34.9" fill="#fffaf9"/>
<rect x="1142.0" y="1050.5" width="78.2" height="34.9" fill="#fffaf9"/>
<rect x="1219.9" y="1050.5" width="78.1" height="34.9" fill="#fffaf9"/>
<rect x="1297.7" y="1050.5" width="78.2" height="34.9" fill="#fffaf9"/>
<rect x="1375.6" y="1050.5" width="78.1" height="34.9" fill="#fffcfc"/>
<rect x="1453.4" y="1050.5" width="78.2" height="34.9" fill="#fffcfc"/>
<rect x="1531.3" y="1050.5" width="78.1" height="34.9" fill="#fffcfc"/>
<rect x="1609.1" y="1050.5" width="78.2" height="34.9" fill="#fffcfc"/>
<rect x="1142.0" y="1085.1" width="78.2" height="34.9" fill="#fef5f4"/>
<rect x="1219.9" y="1085.1" width="78.1" height="34.9" fill="#fef6f5"/>
<rect x="1297.7" y="1085.1" width="78.2" height="34.9" fill="#fef4f3"/>
<rect x="1375.6" y="1085.1" width="78.1" height="34.9" fill="#fef4f2"/>
<rect x="1453.4" y="1085.1" width="78.2" height="34.9" fill="#fef4f3"/>
<rect x="1531.3" y="1085.1" width="78.1" height="34.9" fill="#fef4f3"/>
<rect x="1609.1" y="1085.1" width="78.2" height="34.9" fill="#fef5f4"/>
<rect x="1142.0" y="1119.7" width="78.2" height="34.9" fill="#fef9f8"/>
<rect x="1219.9" y="1119.7" width="78.1" height="34.9" fill="#fef7f6"/>
<rect x="1297.7" y="1119.7" width="78.2" height="34.9" fill="#fef9f8"/>
<rect x="1375.6" y="1119.7" width="78.1" height="34.9" fill="#fef9f8"/>
<rect x="1453.4" y="1119.7" width="78.2" height="34.9" fill="#fef9f8"/>
<rect x="1531.3" y="1119.7" width="78.1" height="34.9" fill="#fef8f7"/>
<rect x="1609.1" y="1119.7" width="78.2" height="34.9" fill="#fef9f8"/>
<rect x="1108.7" y="97.0" width="6.3" height="4.1" fill="#333333"/>
<text x="1097.6" y="106.8" font-size="30.78" text-anchor="end" fill="#45474e" textLength="117.5" lengthAdjust="spacingAndGlyphs">Zhejiang</text>
<rect x="1108.7" y="131.6" width="6.3" height="4.1" fill="#333333"/>
<text x="1097.6" y="141.4" font-size="30.78" text-anchor="end" fill="#45474e" textLength="104.9" lengthAdjust="spacingAndGlyphs">Yunnan</text>
<rect x="1108.7" y="166.2" width="6.3" height="4.1" fill="#333333"/>
<text x="1097.6" y="176.0" font-size="30.78" text-anchor="end" fill="#45474e" textLength="110.0" lengthAdjust="spacingAndGlyphs">Xinjiang</text>
<rect x="1108.7" y="200.8" width="6.3" height="4.1" fill="#333333"/>
<text x="1097.6" y="210.6" font-size="30.78" text-anchor="end" fill="#45474e" textLength="71.0" lengthAdjust="spacingAndGlyphs">Tibet</text>
<rect x="1108.7" y="235.4" width="6.3" height="4.1" fill="#333333"/>
<text x="1097.6" y="245.2" font-size="30.78" text-anchor="end" fill="#45474e" textLength="92.9" lengthAdjust="spacingAndGlyphs">Tianjin</text>
<rect x="1108.7" y="270.0" width="6.3" height="4.1" fill="#333333"/>
<text x="1097.6" y="279.8" font-size="30.78" text-anchor="end" fill="#45474e" textLength="108.3" lengthAdjust="spacingAndGlyphs">Sichuan</text>
<rect x="1108.7" y="304.6" width="6.3" height="4.1" fill="#333333"/>
<text x="1097.6" y="314.4" font-size="30.78" text-anchor="end" fill="#45474e" textLength="90.7" lengthAdjust="spacingAndGlyphs">Shanxi</text>
<rect x="1108.7" y="339.2" width="6.3" height="4.1" fill="#333333"/>
<text x="1097.6" y="349.0" font-size="30.78" text-anchor="end" fill="#45474e" textLength="126.3" lengthAdjust="spacingAndGlyphs">Shanghai</text>
<rect x="1108.7" y="373.8" width="6.3" height="4.1" fill="#333333"/>
<text x="1097.6" y="383.6" font-size="30.78" text-anchor="end" fill="#45474e" textLength="138.1" lengthAdjust="spacingAndGlyphs">Shandong</text>
<rect x="1108.7" y="408.4" width="6.3" height="4.1" fill="#333333"/>
<text x="1097.6" y="418.2" font-size="30.78" text-anchor="end" fill="#45474e" textLength="107.1" lengthAdjust="spacingAndGlyphs">Shaanxi</text>
<rect x="1108.7" y="443.0" width="6.3" height="4.1" fill="#333333"/>
<text x="1097.6" y="452.8" font-size="30.78" text-anchor="end" fill="#45474e" textLength="107.1" lengthAdjust="spacingAndGlyphs">Qinghai</text>
<rect x="1108.7" y="477.6" width="6.3" height="4.1" fill="#333333"/>
<text x="1097.6" y="487.4" font-size="30.78" text-anchor="end" fill="#45474e" textLength="103.0" lengthAdjust="spacingAndGlyphs">Ningxia</text>
<rect x="1108.7" y="512.2" width="6.3" height="4.1" fill="#333333"/>
<text x="1097.6" y="522.0" font-size="30.78" text-anchor="end" fill="#45474e" textLength="116.5" lengthAdjust="spacingAndGlyphs">Liaoning</text>
<rect x="1108.7" y="546.8" width="6.3" height="4.1" fill="#333333"/>
<text x="1097.6" y="556.6" font-size="30.78" text-anchor="end" fill="#45474e" textLength="52.4" lengthAdjust="spacingAndGlyphs">Jilin</text>
<rect x="1108.7" y="581.4" width="6.3" height="4.1" fill="#333333"/>
<text x="1097.6" y="591.2" font-size="30.78" text-anchor="end" fill="#45474e" textLength="91.9" lengthAdjust="spacingAndGlyphs">Jiangxi</text>
<rect x="1108.7" y="616.0" width="6.3" height="4.1" fill="#333333"/>
<text x="1097.6" y="625.8" font-size="30.78" text-anchor="end" fill="#45474e" textLength="100.5" lengthAdjust="spacingAndGlyphs">Jiangsu</text>
<rect x="1108.7" y="650.6" width="6.3" height="4.1" fill="#333333"/>
<text x="1097.6" y="660.3" font-size="30.78" text-anchor="end" fill="#45474e" textLength="212.7" lengthAdjust="spacingAndGlyphs">Inner Mongolia</text>
<rect x="1108.7" y="685.2" width="6.3" height="4.1" fill="#333333"/>
<text x="1097.6" y="694.9" font-size="30.78" text-anchor="end" fill="#45474e" textLength="91.6" lengthAdjust="spacingAndGlyphs">Hunan</text>
<rect x="1108.7" y="719.8" width="6.3" height="4.1" fill="#333333"/>
<text x="1097.6" y="729.5" font-size="30.78" text-anchor="end" fill="#45474e" textLength="82.1" lengthAdjust="spacingAndGlyphs">Hubei</text>
<rect x="1108.7" y="754.4" width="6.3" height="4.1" fill="#333333"/>
<text x="1097.6" y="764.1" font-size="30.78" text-anchor="end" fill="#45474e" textLength="90.6" lengthAdjust="spacingAndGlyphs">Henan</text>
<rect x="1108.7" y="789.0" width="6.3" height="4.1" fill="#333333"/>
<text x="1097.6" y="798.7" font-size="30.78" text-anchor="end" fill="#45474e" textLength="172.6" lengthAdjust="spacingAndGlyphs">Heilongjiang</text>
<rect x="1108.7" y="823.6" width="6.3" height="4.1" fill="#333333"/>
<text x="1097.6" y="833.3" font-size="30.78" text-anchor="end" fill="#45474e" textLength="81.2" lengthAdjust="spacingAndGlyphs">Hebei</text>
<rect x="1108.7" y="858.2" width="6.3" height="4.1" fill="#333333"/>
<text x="1097.6" y="867.9" font-size="30.78" text-anchor="end" fill="#45474e" textLength="97.9" lengthAdjust="spacingAndGlyphs">Hainan</text>
<rect x="1108.7" y="892.8" width="6.3" height="4.1" fill="#333333"/>
<text x="1097.6" y="902.5" font-size="30.78" text-anchor="end" fill="#45474e" textLength="114.9" lengthAdjust="spacingAndGlyphs">Guizhou</text>
<rect x="1108.7" y="927.4" width="6.3" height="4.1" fill="#333333"/>
<text x="1097.6" y="937.1" font-size="30.78" text-anchor="end" fill="#45474e" textLength="112.7" lengthAdjust="spacingAndGlyphs">Guangxi</text>
<rect x="1108.7" y="962.0" width="6.3" height="4.1" fill="#333333"/>
<text x="1097.6" y="971.7" font-size="30.78" text-anchor="end" fill="#45474e" textLength="160.1" lengthAdjust="spacingAndGlyphs">Guangdong</text>
<rect x="1108.7" y="996.6" width="6.3" height="4.1" fill="#333333"/>
<text x="1097.6" y="1006.3" font-size="30.78" text-anchor="end" fill="#45474e" textLength="87.3" lengthAdjust="spacingAndGlyphs">Gansu</text>
<rect x="1108.7" y="1031.2" width="6.3" height="4.1" fill="#333333"/>
<text x="1097.6" y="1040.9" font-size="30.78" text-anchor="end" fill="#45474e" textLength="84.1" lengthAdjust="spacingAndGlyphs">Fujian</text>
<rect x="1108.7" y="1065.8" width="6.3" height="4.1" fill="#333333"/>
<text x="1097.6" y="1075.5" font-size="30.78" text-anchor="end" fill="#45474e" textLength="148.2" lengthAdjust="spacingAndGlyphs">Chongqing</text>
<rect x="1108.7" y="1100.4" width="6.3" height="4.1" fill="#333333"/>
<text x="1097.6" y="1110.1" font-size="30.78" text-anchor="end" fill="#45474e" textLength="93.6" lengthAdjust="spacingAndGlyphs">Beijing</text>
<rect x="1108.7" y="1135.0" width="6.3" height="4.1" fill="#333333"/>
<text x="1097.6" y="1144.7" font-size="30.78" text-anchor="end" fill="#45474e" textLength="81.5" lengthAdjust="spacingAndGlyphs">Anhui</text>
<rect x="1179.1" y="1157.5" width="3.7" height="10" fill="#333333"/>
<text x="1181.0" y="1195.8" font-size="30.78" text-anchor="middle" fill="#45474e" textLength="69.3" lengthAdjust="spacingAndGlyphs">2016</text>
<rect x="1257.0" y="1157.5" width="3.7" height="10" fill="#333333"/>
<text x="1258.8" y="1195.8" font-size="30.78" text-anchor="middle" fill="#45474e" textLength="69.3" lengthAdjust="spacingAndGlyphs">2017</text>
<rect x="1334.8" y="1157.5" width="3.7" height="10" fill="#333333"/>
<text x="1336.7" y="1195.8" font-size="30.78" text-anchor="middle" fill="#45474e" textLength="69.3" lengthAdjust="spacingAndGlyphs">2018</text>
<rect x="1412.7" y="1157.5" width="3.7" height="10" fill="#333333"/>
<text x="1414.5" y="1195.8" font-size="30.78" text-anchor="middle" fill="#45474e" textLength="69.3" lengthAdjust="spacingAndGlyphs">2019</text>
<rect x="1490.5" y="1157.5" width="3.7" height="10" fill="#333333"/>
<text x="1492.4" y="1195.8" font-size="30.78" text-anchor="middle" fill="#45474e" textLength="69.3" lengthAdjust="spacingAndGlyphs">2020</text>
<rect x="1568.4" y="1157.5" width="3.7" height="10" fill="#333333"/>
<text x="1570.2" y="1195.8" font-size="30.78" text-anchor="middle" fill="#45474e" textLength="69.3" lengthAdjust="spacingAndGlyphs">2021</text>
<rect x="1646.2" y="1157.5" width="3.7" height="10" fill="#333333"/>
<text x="1648.1" y="1195.8" font-size="30.78" text-anchor="middle" fill="#45474e" textLength="69.3" lengthAdjust="spacingAndGlyphs">2022</text>
<rect x="259" y="1226" width="599" height="60" fill="#D0D0D0"/>
<text x="551.4" y="1266.6" font-size="37.44" text-anchor="middle" fill="#1a1a1a" textLength="382.1" lengthAdjust="spacingAndGlyphs">Klebsiella pneumoniae</text>
<rect x="259" y="1286" width="599" height="1080.5" fill="#E6E5E4"/>
<rect x="259" y="1305.1" width="599" height="4" fill="#fff"/>
<rect x="259" y="1339.7" width="599" height="4" fill="#fff"/>
<rect x="259" y="1374.4" width="599" height="4" fill="#fff"/>
<rect x="259" y="1409.0" width="599" height="4" fill="#fff"/>
<rect x="259" y="1443.6" width="599" height="4" fill="#fff"/>
<rect x="259" y="1478.3" width="599" height="4" fill="#fff"/>
<rect x="259" y="1512.9" width="599" height="4" fill="#fff"/>
<rect x="259" y="1547.5" width="599" height="4" fill="#fff"/>
<rect x="259" y="1582.1" width="599" height="4" fill="#fff"/>
<rect x="259" y="1616.8" width="599" height="4" fill="#fff"/>
<rect x="259" y="1651.4" width="599" height="4" fill="#fff"/>
<rect x="259" y="1686.0" width="599" height="4" fill="#fff"/>
<rect x="259" y="1720.7" width="599" height="4" fill="#fff"/>
<rect x="259" y="1755.3" width="599" height="4" fill="#fff"/>
<rect x="259" y="1789.9" width="599" height="4" fill="#fff"/>
<rect x="259" y="1824.5" width="599" height="4" fill="#fff"/>
<rect x="259" y="1859.2" width="599" height="4" fill="#fff"/>
<rect x="259" y="1893.8" width="599" height="4" fill="#fff"/>
<rect x="259" y="1928.4" width="599" height="4" fill="#fff"/>
<rect x="259" y="1963.1" width="599" height="4" fill="#fff"/>
<rect x="259" y="1997.7" width="599" height="4" fill="#fff"/>
<rect x="259" y="2032.3" width="599" height="4" fill="#fff"/>
<rect x="259" y="2067.0" width="599" height="4" fill="#fff"/>
<rect x="259" y="2101.6" width="599" height="4" fill="#fff"/>
<rect x="259" y="2136.2" width="599" height="4" fill="#fff"/>
<rect x="259" y="2170.8" width="599" height="4" fill="#fff"/>
<rect x="259" y="2205.5" width="599" height="4" fill="#fff"/>
<rect x="259" y="2240.1" width="599" height="4" fill="#fff"/>
<rect x="259" y="2274.7" width="599" height="4" fill="#fff"/>
<rect x="259" y="2309.4" width="599" height="4" fill="#fff"/>
<rect x="259" y="2344.0" width="599" height="4" fill="#fff"/>
<rect x="323.0" y="1286" width="4" height="1080.5" fill="#fff"/>
<rect x="400.8" y="1286" width="4" height="1080.5" fill="#fff"/>
<rect x="478.7" y="1286" width="4" height="1080.5" fill="#fff"/>
<rect x="556.5" y="1286" width="4" height="1080.5" fill="#fff"/>
<rect x="634.4" y="1286" width="4" height="1080.5" fill="#fff"/>
<rect x="712.2" y="1286" width="4" height="1080.5" fill="#fff"/>
<rect x="790.0" y="1286" width="4" height="1080.5" fill="#fff"/>
<rect x="285.0" y="1286" width="2" height="1080.5" fill="#fff"/>
<rect x="362.9" y="1286" width="2" height="1080.5" fill="#fff"/>
<rect x="440.7" y="1286" width="2" height="1080.5" fill="#fff"/>
<rect x="518.6" y="1286" width="2" height="1080.5" fill="#fff"/>
<rect x="596.4" y="1286" width="2" height="1080.5" fill="#fff"/>
<rect x="674.3" y="1286" width="2" height="1080.5" fill="#fff"/>
<rect x="752.1" y="1286" width="2" height="1080.5" fill="#fff"/>
<rect x="830.0" y="1286" width="2" height="1080.5" fill="#fff"/>
<rect x="286.0" y="1289.8" width="78.2" height="34.9" fill="#fac7bf"/>
<rect x="363.9" y="1289.8" width="78.1" height="34.9" fill="#facec7"/>
<rect x="441.7" y="1289.8" width="78.2" height="34.9" fill="#facac3"/>
<rect x="519.6" y="1289.8" width="78.1" height="34.9" fill="#fac7bf"/>
<rect x="597.4" y="1289.8" width="78.2" height="34.9" fill="#fbd4cf"/>
<rect x="675.3" y="1289.8" width="78.1" height="34.9" fill="#fbd4cf"/>
<rect x="753.1" y="1289.8" width="78.2" height="34.9" fill="#fbd4cf"/>
<rect x="286.0" y="1324.4" width="78.2" height="35.0" fill="#fce1de"/>
<rect x="363.9" y="1324.4" width="78.1" height="35.0" fill="#fcdbd6"/>
<rect x="441.7" y="1324.4" width="78.2" height="35.0" fill="#fbd7d2"/>
<rect x="519.6" y="1324.4" width="78.1" height="35.0" fill="#fbd7d2"/>
<rect x="597.4" y="1324.4" width="78.2" height="35.0" fill="#fbd4cf"/>
<rect x="675.3" y="1324.4" width="78.1" height="35.0" fill="#fcdbd6"/>
<rect x="753.1" y="1324.4" width="78.2" height="35.0" fill="#fbd7d2"/>
<rect x="286.0" y="1359.1" width="78.2" height="34.9" fill="#fdebe9"/>
<rect x="363.9" y="1359.1" width="78.1" height="34.9" fill="#fdebe9"/>
<rect x="441.7" y="1359.1" width="78.2" height="34.9" fill="#fdebe9"/>
<rect x="519.6" y="1359.1" width="78.1" height="34.9" fill="#fdebe9"/>
<rect x="597.4" y="1359.1" width="78.2" height="34.9" fill="#fdebe9"/>
<rect x="675.3" y="1359.1" width="78.1" height="34.9" fill="#fce1de"/>
<rect x="753.1" y="1359.1" width="78.2" height="34.9" fill="#fce1de"/>
<rect x="286.0" y="1393.7" width="78.2" height="34.9" fill="#767A82"/>
<rect x="363.9" y="1393.7" width="78.1" height="34.9" fill="#FFFFFF"/>
<rect x="441.7" y="1393.7" width="78.2" height="34.9" fill="#fffdfd"/>
<rect x="519.6" y="1393.7" width="78.1" height="34.9" fill="#FFFFFF"/>
<rect x="597.4" y="1393.7" width="78.2" height="34.9" fill="#FFFFFF"/>
<rect x="675.3" y="1393.7" width="78.1" height="34.9" fill="#fffaf9"/>
<rect x="753.1" y="1393.7" width="78.2" height="34.9" fill="#fef2f0"/>
<rect x="286.0" y="1428.3" width="78.2" height="34.9" fill="#fef5f4"/>
<rect x="363.9" y="1428.3" width="78.1" height="34.9" fill="#fef2f0"/>
<rect x="441.7" y="1428.3" width="78.2" height="34.9" fill="#feeeec"/>
<rect x="519.6" y="1428.3" width="78.1" height="34.9" fill="#fde8e5"/>
<rect x="597.4" y="1428.3" width="78.2" height="34.9" fill="#fce1de"/>
<rect x="675.3" y="1428.3" width="78.1" height="34.9" fill="#fcdeda"/>
<rect x="753.1" y="1428.3" width="78.2" height="34.9" fill="#fce1de"/>
<rect x="286.0" y="1462.9" width="78.2" height="35.0" fill="#fef5f4"/>
<rect x="363.9" y="1462.9" width="78.1" height="35.0" fill="#fdebe9"/>
<rect x="441.7" y="1462.9" width="78.2" height="35.0" fill="#fce1de"/>
<rect x="519.6" y="1462.9" width="78.1" height="35.0" fill="#fcdeda"/>
<rect x="597.4" y="1462.9" width="78.2" height="35.0" fill="#fcdeda"/>
<rect x="675.3" y="1462.9" width="78.1" height="35.0" fill="#fcdeda"/>
<rect x="753.1" y="1462.9" width="78.2" height="35.0" fill="#fcdeda"/>
<rect x="286.0" y="1497.6" width="78.2" height="34.9" fill="#fef8f8"/>
<rect x="363.9" y="1497.6" width="78.1" height="34.9" fill="#fef5f4"/>
<rect x="441.7" y="1497.6" width="78.2" height="34.9" fill="#fef0ee"/>
<rect x="519.6" y="1497.6" width="78.1" height="34.9" fill="#fdedeb"/>
<rect x="597.4" y="1497.6" width="78.2" height="34.9" fill="#feeeec"/>
<rect x="675.3" y="1497.6" width="78.1" height="34.9" fill="#fef3f2"/>
<rect x="753.1" y="1497.6" width="78.2" height="34.9" fill="#fef3f2"/>
<rect x="286.0" y="1532.2" width="78.2" height="34.9" fill="#f8a99e"/>
<rect x="363.9" y="1532.2" width="78.1" height="34.9" fill="#f7a69a"/>
<rect x="441.7" y="1532.2" width="78.2" height="34.9" fill="#f7a69a"/>
<rect x="519.6" y="1532.2" width="78.1" height="34.9" fill="#f7a094"/>
<rect x="597.4" y="1532.2" width="78.2" height="34.9" fill="#f7a69a"/>
<rect x="675.3" y="1532.2" width="78.1" height="34.9" fill="#f8a99e"/>
<rect x="753.1" y="1532.2" width="78.2" height="34.9" fill="#f8a99e"/>
<rect x="286.0" y="1566.8" width="78.2" height="35.0" fill="#feeeec"/>
<rect x="363.9" y="1566.8" width="78.1" height="35.0" fill="#fdebe9"/>
<rect x="441.7" y="1566.8" width="78.2" height="35.0" fill="#fdebe9"/>
<rect x="519.6" y="1566.8" width="78.1" height="35.0" fill="#fde8e5"/>
<rect x="597.4" y="1566.8" width="78.2" height="35.0" fill="#fde8e5"/>
<rect x="675.3" y="1566.8" width="78.1" height="35.0" fill="#fde8e5"/>
<rect x="753.1" y="1566.8" width="78.2" height="35.0" fill="#fef0ee"/>
<rect x="286.0" y="1601.5" width="78.2" height="34.9" fill="#fef3f2"/>
<rect x="363.9" y="1601.5" width="78.1" height="34.9" fill="#fcdeda"/>
<rect x="441.7" y="1601.5" width="78.2" height="34.9" fill="#fcdbd6"/>
<rect x="519.6" y="1601.5" width="78.1" height="34.9" fill="#fcdeda"/>
<rect x="597.4" y="1601.5" width="78.2" height="34.9" fill="#fce1de"/>
<rect x="675.3" y="1601.5" width="78.1" height="34.9" fill="#fcdeda"/>
<rect x="753.1" y="1601.5" width="78.2" height="34.9" fill="#fce1de"/>
<rect x="286.0" y="1636.1" width="78.2" height="34.9" fill="#fffcfb"/>
<rect x="363.9" y="1636.1" width="78.1" height="34.9" fill="#fffefe"/>
<rect x="441.7" y="1636.1" width="78.2" height="34.9" fill="#FFFFFF"/>
<rect x="519.6" y="1636.1" width="78.1" height="34.9" fill="#fffcfb"/>
<rect x="597.4" y="1636.1" width="78.2" height="34.9" fill="#fffcfb"/>
<rect x="675.3" y="1636.1" width="78.1" height="34.9" fill="#fffcfb"/>
<rect x="753.1" y="1636.1" width="78.2" height="34.9" fill="#fffaf9"/>
<rect x="286.0" y="1670.7" width="78.2" height="34.9" fill="#fffaf9"/>
<rect x="363.9" y="1670.7" width="78.1" height="34.9" fill="#fffaf9"/>
<rect x="441.7" y="1670.7" width="78.2" height="34.9" fill="#fffaf9"/>
<rect x="519.6" y="1670.7" width="78.1" height="34.9" fill="#fef8f8"/>
<rect x="597.4" y="1670.7" width="78.2" height="34.9" fill="#fffcfb"/>
<rect x="675.3" y="1670.7" width="78.1" height="34.9" fill="#fffcfb"/>
<rect x="753.1" y="1670.7" width="78.2" height="34.9" fill="#fffdfd"/>
<rect x="286.0" y="1705.3" width="78.2" height="35.0" fill="#fcdbd6"/>
<rect x="363.9" y="1705.3" width="78.1" height="35.0" fill="#fbd7d2"/>
<rect x="441.7" y="1705.3" width="78.2" height="35.0" fill="#fbd2cd"/>
<rect x="519.6" y="1705.3" width="78.1" height="35.0" fill="#fbd1cb"/>
<rect x="597.4" y="1705.3" width="78.2" height="35.0" fill="#fbcfc9"/>
<rect x="675.3" y="1705.3" width="78.1" height="35.0" fill="#fbcfc9"/>
<rect x="753.1" y="1705.3" width="78.2" height="35.0" fill="#fbd7d2"/>
<rect x="286.0" y="1740.0" width="78.2" height="34.9" fill="#fef8f8"/>
<rect x="363.9" y="1740.0" width="78.1" height="34.9" fill="#fef8f8"/>
<rect x="441.7" y="1740.0" width="78.2" height="34.9" fill="#fef8f8"/>
<rect x="519.6" y="1740.0" width="78.1" height="34.9" fill="#fef7f6"/>
<rect x="597.4" y="1740.0" width="78.2" height="34.9" fill="#fffaf9"/>
<rect x="675.3" y="1740.0" width="78.1" height="34.9" fill="#fef2f0"/>
<rect x="753.1" y="1740.0" width="78.2" height="34.9" fill="#fef3f2"/>
<rect x="286.0" y="1774.6" width="78.2" height="34.9" fill="#fac7bf"/>
<rect x="363.9" y="1774.6" width="78.1" height="34.9" fill="#fac7bf"/>
<rect x="441.7" y="1774.6" width="78.2" height="34.9" fill="#facec7"/>
<rect x="519.6" y="1774.6" width="78.1" height="34.9" fill="#fbcfc9"/>
<rect x="597.4" y="1774.6" width="78.2" height="34.9" fill="#fbd1cb"/>
<rect x="675.3" y="1774.6" width="78.1" height="34.9" fill="#facec7"/>
<rect x="753.1" y="1774.6" width="78.2" height="34.9" fill="#fbd4cf"/>
<rect x="286.0" y="1809.2" width="78.2" height="35.0" fill="#faccc5"/>
<rect x="363.9" y="1809.2" width="78.1" height="35.0" fill="#facac3"/>
<rect x="441.7" y="1809.2" width="78.2" height="35.0" fill="#fac7bf"/>
<rect x="519.6" y="1809.2" width="78.1" height="35.0" fill="#f9bdb4"/>
<rect x="597.4" y="1809.2" width="78.2" height="35.0" fill="#f9bab1"/>
<rect x="675.3" y="1809.2" width="78.1" height="35.0" fill="#f9bdb4"/>
<rect x="753.1" y="1809.2" width="78.2" height="35.0" fill="#fbd1cb"/>
<rect x="286.0" y="1843.9" width="78.2" height="34.9" fill="#fffaf9"/>
<rect x="363.9" y="1843.9" width="78.1" height="34.9" fill="#fef2f0"/>
<rect x="441.7" y="1843.9" width="78.2" height="34.9" fill="#fdebe9"/>
<rect x="519.6" y="1843.9" width="78.1" height="34.9" fill="#fdebe9"/>
<rect x="597.4" y="1843.9" width="78.2" height="34.9" fill="#feeeec"/>
<rect x="675.3" y="1843.9" width="78.1" height="34.9" fill="#fdedeb"/>
<rect x="753.1" y="1843.9" width="78.2" height="34.9" fill="#fef2f0"/>
<rect x="286.0" y="1878.5" width="78.2" height="34.9" fill="#fcdbd6"/>
<rect x="363.9" y="1878.5" width="78.1" height="34.9" fill="#fcdeda"/>
<rect x="441.7" y="1878.5" width="78.2" height="34.9" fill="#fbd4cf"/>
<rect x="519.6" y="1878.5" width="78.1" height="34.9" fill="#fbd1cb"/>
<rect x="597.4" y="1878.5" width="78.2" height="34.9" fill="#fcdbd6"/>
<rect x="675.3" y="1878.5" width="78.1" height="34.9" fill="#facec7"/>
<rect x="753.1" y="1878.5" width="78.2" height="34.9" fill="#fbd1cb"/>
<rect x="286.0" y="1913.1" width="78.2" height="35.0" fill="#fbd6d0"/>
<rect x="363.9" y="1913.1" width="78.1" height="35.0" fill="#fcdcd8"/>
<rect x="441.7" y="1913.1" width="78.2" height="35.0" fill="#fcdbd6"/>
<rect x="519.6" y="1913.1" width="78.1" height="35.0" fill="#fbd1cb"/>
<rect x="597.4" y="1913.1" width="78.2" height="35.0" fill="#fbd1cb"/>
<rect x="675.3" y="1913.1" width="78.1" height="35.0" fill="#fac9c1"/>
<rect x="753.1" y="1913.1" width="78.2" height="35.0" fill="#fbd7d2"/>
<rect x="286.0" y="1947.8" width="78.2" height="34.9" fill="#f8aca1"/>
<rect x="363.9" y="1947.8" width="78.1" height="34.9" fill="#f7a69a"/>
<rect x="441.7" y="1947.8" width="78.2" height="34.9" fill="#f69286"/>
<rect x="519.6" y="1947.8" width="78.1" height="34.9" fill="#f58f83"/>
<rect x="597.4" y="1947.8" width="78.2" height="34.9" fill="#f69a8e"/>
<rect x="675.3" y="1947.8" width="78.1" height="34.9" fill="#f7a094"/>
<rect x="753.1" y="1947.8" width="78.2" height="34.9" fill="#f9bab1"/>
<rect x="286.0" y="1982.4" width="78.2" height="34.9" fill="#fef3f2"/>
<rect x="363.9" y="1982.4" width="78.1" height="34.9" fill="#fef3f2"/>
<rect x="441.7" y="1982.4" width="78.2" height="34.9" fill="#fef3f2"/>
<rect x="519.6" y="1982.4" width="78.1" height="34.9" fill="#fef2f0"/>
<rect x="597.4" y="1982.4" width="78.2" height="34.9" fill="#fef3f2"/>
<rect x="675.3" y="1982.4" width="78.1" height="34.9" fill="#fef3f2"/>
<rect x="753.1" y="1982.4" width="78.2" height="34.9" fill="#fef3f2"/>
<rect x="286.0" y="2017.0" width="78.2" height="34.9" fill="#fbd2cd"/>
<rect x="363.9" y="2017.0" width="78.1" height="34.9" fill="#fbd6d0"/>
<rect x="441.7" y="2017.0" width="78.2" height="34.9" fill="#fbd4cf"/>
<rect x="519.6" y="2017.0" width="78.1" height="34.9" fill="#fbd1cb"/>
<rect x="597.4" y="2017.0" width="78.2" height="34.9" fill="#facec7"/>
<rect x="675.3" y="2017.0" width="78.1" height="34.9" fill="#fbcfc9"/>
<rect x="753.1" y="2017.0" width="78.2" height="34.9" fill="#fbd7d2"/>
<rect x="286.0" y="2051.6" width="78.2" height="35.0" fill="#fef5f4"/>
<rect x="363.9" y="2051.6" width="78.1" height="35.0" fill="#fffaf9"/>
<rect x="441.7" y="2051.6" width="78.2" height="35.0" fill="#fef7f6"/>
<rect x="519.6" y="2051.6" width="78.1" height="35.0" fill="#fef0ee"/>
<rect x="597.4" y="2051.6" width="78.2" height="35.0" fill="#fef5f4"/>
<rect x="675.3" y="2051.6" width="78.1" height="35.0" fill="#fef7f6"/>
<rect x="753.1" y="2051.6" width="78.2" height="35.0" fill="#fef7f6"/>
<rect x="286.0" y="2086.3" width="78.2" height="34.9" fill="#feeeec"/>
<rect x="363.9" y="2086.3" width="78.1" height="34.9" fill="#fde8e5"/>
<rect x="441.7" y="2086.3" width="78.2" height="34.9" fill="#feeeec"/>
<rect x="519.6" y="2086.3" width="78.1" height="34.9" fill="#fce1de"/>
<rect x="597.4" y="2086.3" width="78.2" height="34.9" fill="#fce0dc"/>
<rect x="675.3" y="2086.3" width="78.1" height="34.9" fill="#fcdbd6"/>
<rect x="753.1" y="2086.3" width="78.2" height="34.9" fill="#fcdcd8"/>
<rect x="286.0" y="2120.9" width="78.2" height="34.9" fill="#fef2f0"/>
<rect x="363.9" y="2120.9" width="78.1" height="34.9" fill="#fef5f4"/>
<rect x="441.7" y="2120.9" width="78.2" height="34.9" fill="#fef5f4"/>
<rect x="519.6" y="2120.9" width="78.1" height="34.9" fill="#fef7f6"/>
<rect x="597.4" y="2120.9" width="78.2" height="34.9" fill="#fef0ee"/>
<rect x="675.3" y="2120.9" width="78.1" height="34.9" fill="#fdedeb"/>
<rect x="753.1" y="2120.9" width="78.2" height="34.9" fill="#fce3e0"/>
<rect x="286.0" y="2155.5" width="78.2" height="35.0" fill="#feeeec"/>
<rect x="363.9" y="2155.5" width="78.1" height="35.0" fill="#feeeec"/>
<rect x="441.7" y="2155.5" width="78.2" height="35.0" fill="#fdedeb"/>
<rect x="519.6" y="2155.5" width="78.1" height="35.0" fill="#fde6e3"/>
<rect x="597.4" y="2155.5" width="78.2" height="35.0" fill="#fde6e3"/>
<rect x="675.3" y="2155.5" width="78.1" height="35.0" fill="#fcdcd8"/>
<rect x="753.1" y="2155.5" width="78.2" height="35.0" fill="#fcdcd8"/>
<rect x="286.0" y="2190.2" width="78.2" height="34.9" fill="#fffcfc"/>
<rect x="363.9" y="2190.2" width="78.1" height="34.9" fill="#fffaf9"/>
<rect x="441.7" y="2190.2" width="78.2" height="34.9" fill="#fef3f2"/>
<rect x="519.6" y="2190.2" width="78.1" height="34.9" fill="#fef5f4"/>
<rect x="597.4" y="2190.2" width="78.2" height="34.9" fill="#fef5f4"/>
<rect x="675.3" y="2190.2" width="78.1" height="34.9" fill="#fef5f4"/>
<rect x="753.1" y="2190.2" width="78.2" height="34.9" fill="#fef8f8"/>
<rect x="286.0" y="2224.8" width="78.2" height="34.9" fill="#fbd6d0"/>
<rect x="363.9" y="2224.8" width="78.1" height="34.9" fill="#fcd9d4"/>
<rect x="441.7" y="2224.8" width="78.2" height="34.9" fill="#fcdbd6"/>
<rect x="519.6" y="2224.8" width="78.1" height="34.9" fill="#fcdbd6"/>
<rect x="597.4" y="2224.8" width="78.2" height="34.9" fill="#fcdcd8"/>
<rect x="675.3" y="2224.8" width="78.1" height="34.9" fill="#fcdbd6"/>
<rect x="753.1" y="2224.8" width="78.2" height="34.9" fill="#fcd9d4"/>
<rect x="286.0" y="2259.4" width="78.2" height="34.9" fill="#fef0ee"/>
<rect x="363.9" y="2259.4" width="78.1" height="34.9" fill="#fdeae7"/>
<rect x="441.7" y="2259.4" width="78.2" height="34.9" fill="#fdeae7"/>
<rect x="519.6" y="2259.4" width="78.1" height="34.9" fill="#fdeae7"/>
<rect x="597.4" y="2259.4" width="78.2" height="34.9" fill="#fde8e5"/>
<rect x="675.3" y="2259.4" width="78.1" height="34.9" fill="#fde5e1"/>
<rect x="753.1" y="2259.4" width="78.2" height="34.9" fill="#fde8e5"/>
<rect x="286.0" y="2294.0" width="78.2" height="35.0" fill="#f9bab1"/>
<rect x="363.9" y="2294.0" width="78.1" height="35.0" fill="#f9bfb6"/>
<rect x="441.7" y="2294.0" width="78.2" height="35.0" fill="#f9b9af"/>
<rect x="519.6" y="2294.0" width="78.1" height="35.0" fill="#f8b4aa"/>
<rect x="597.4" y="2294.0" width="78.2" height="35.0" fill="#f8a99e"/>
<rect x="675.3" y="2294.0" width="78.1" height="35.0" fill="#f7a397"/>
<rect x="753.1" y="2294.0" width="78.2" height="35.0" fill="#f8a99e"/>
<rect x="286.0" y="2328.7" width="78.2" height="34.9" fill="#fac4bc"/>
<rect x="363.9" y="2328.7" width="78.1" height="34.9" fill="#facac3"/>
<rect x="441.7" y="2328.7" width="78.2" height="34.9" fill="#f9c2ba"/>
<rect x="519.6" y="2328.7" width="78.1" height="34.9" fill="#fac7bf"/>
<rect x="597.4" y="2328.7" width="78.2" height="34.9" fill="#faccc5"/>
<rect x="675.3" y="2328.7" width="78.1" height="34.9" fill="#faccc5"/>
<rect x="753.1" y="2328.7" width="78.2" height="34.9" fill="#fbd4cf"/>
<rect x="252.7" y="1305.1" width="6.3" height="4.1" fill="#333333"/>
<text x="241.8" y="1314.8" font-size="30.78" text-anchor="end" fill="#45474e" textLength="117.5" lengthAdjust="spacingAndGlyphs">Zhejiang</text>
<rect x="252.7" y="1339.7" width="6.3" height="4.1" fill="#333333"/>
<text x="241.8" y="1349.4" font-size="30.78" text-anchor="end" fill="#45474e" textLength="104.9" lengthAdjust="spacingAndGlyphs">Yunnan</text>
<rect x="252.7" y="1374.3" width="6.3" height="4.1" fill="#333333"/>
<text x="241.8" y="1384.1" font-size="30.78" text-anchor="end" fill="#45474e" textLength="110.0" lengthAdjust="spacingAndGlyphs">Xinjiang</text>
<rect x="252.7" y="1409.0" width="6.3" height="4.1" fill="#333333"/>
<text x="241.8" y="1418.7" font-size="30.78" text-anchor="end" fill="#45474e" textLength="71.0" lengthAdjust="spacingAndGlyphs">Tibet</text>
<rect x="252.7" y="1443.6" width="6.3" height="4.1" fill="#333333"/>
<text x="241.8" y="1453.3" font-size="30.78" text-anchor="end" fill="#45474e" textLength="92.9" lengthAdjust="spacingAndGlyphs">Tianjin</text>
<rect x="252.7" y="1478.2" width="6.3" height="4.1" fill="#333333"/>
<text x="241.8" y="1488.0" font-size="30.78" text-anchor="end" fill="#45474e" textLength="108.3" lengthAdjust="spacingAndGlyphs">Sichuan</text>
<rect x="252.7" y="1512.8" width="6.3" height="4.1" fill="#333333"/>
<text x="241.8" y="1522.6" font-size="30.78" text-anchor="end" fill="#45474e" textLength="90.7" lengthAdjust="spacingAndGlyphs">Shanxi</text>
<rect x="252.7" y="1547.5" width="6.3" height="4.1" fill="#333333"/>
<text x="241.8" y="1557.2" font-size="30.78" text-anchor="end" fill="#45474e" textLength="126.3" lengthAdjust="spacingAndGlyphs">Shanghai</text>
<rect x="252.7" y="1582.1" width="6.3" height="4.1" fill="#333333"/>
<text x="241.8" y="1591.8" font-size="30.78" text-anchor="end" fill="#45474e" textLength="138.1" lengthAdjust="spacingAndGlyphs">Shandong</text>
<rect x="252.7" y="1616.7" width="6.3" height="4.1" fill="#333333"/>
<text x="241.8" y="1626.5" font-size="30.78" text-anchor="end" fill="#45474e" textLength="107.1" lengthAdjust="spacingAndGlyphs">Shaanxi</text>
<rect x="252.7" y="1651.4" width="6.3" height="4.1" fill="#333333"/>
<text x="241.8" y="1661.1" font-size="30.78" text-anchor="end" fill="#45474e" textLength="107.1" lengthAdjust="spacingAndGlyphs">Qinghai</text>
<rect x="252.7" y="1686.0" width="6.3" height="4.1" fill="#333333"/>
<text x="241.8" y="1695.7" font-size="30.78" text-anchor="end" fill="#45474e" textLength="103.0" lengthAdjust="spacingAndGlyphs">Ningxia</text>
<rect x="252.7" y="1720.6" width="6.3" height="4.1" fill="#333333"/>
<text x="241.8" y="1730.4" font-size="30.78" text-anchor="end" fill="#45474e" textLength="116.5" lengthAdjust="spacingAndGlyphs">Liaoning</text>
<rect x="252.7" y="1755.2" width="6.3" height="4.1" fill="#333333"/>
<text x="241.8" y="1765.0" font-size="30.78" text-anchor="end" fill="#45474e" textLength="52.4" lengthAdjust="spacingAndGlyphs">Jilin</text>
<rect x="252.7" y="1789.9" width="6.3" height="4.1" fill="#333333"/>
<text x="241.8" y="1799.6" font-size="30.78" text-anchor="end" fill="#45474e" textLength="91.9" lengthAdjust="spacingAndGlyphs">Jiangxi</text>
<rect x="252.7" y="1824.5" width="6.3" height="4.1" fill="#333333"/>
<text x="241.8" y="1834.2" font-size="30.78" text-anchor="end" fill="#45474e" textLength="100.5" lengthAdjust="spacingAndGlyphs">Jiangsu</text>
<rect x="252.7" y="1859.1" width="6.3" height="4.1" fill="#333333"/>
<text x="241.8" y="1868.9" font-size="30.78" text-anchor="end" fill="#45474e" textLength="212.7" lengthAdjust="spacingAndGlyphs">Inner Mongolia</text>
<rect x="252.7" y="1893.8" width="6.3" height="4.1" fill="#333333"/>
<text x="241.8" y="1903.5" font-size="30.78" text-anchor="end" fill="#45474e" textLength="91.6" lengthAdjust="spacingAndGlyphs">Hunan</text>
<rect x="252.7" y="1928.4" width="6.3" height="4.1" fill="#333333"/>
<text x="241.8" y="1938.1" font-size="30.78" text-anchor="end" fill="#45474e" textLength="82.1" lengthAdjust="spacingAndGlyphs">Hubei</text>
<rect x="252.7" y="1963.0" width="6.3" height="4.1" fill="#333333"/>
<text x="241.8" y="1972.8" font-size="30.78" text-anchor="end" fill="#45474e" textLength="90.6" lengthAdjust="spacingAndGlyphs">Henan</text>
<rect x="252.7" y="1997.6" width="6.3" height="4.1" fill="#333333"/>
<text x="241.8" y="2007.4" font-size="30.78" text-anchor="end" fill="#45474e" textLength="172.6" lengthAdjust="spacingAndGlyphs">Heilongjiang</text>
<rect x="252.7" y="2032.3" width="6.3" height="4.1" fill="#333333"/>
<text x="241.8" y="2042.0" font-size="30.78" text-anchor="end" fill="#45474e" textLength="81.2" lengthAdjust="spacingAndGlyphs">Hebei</text>
<rect x="252.7" y="2066.9" width="6.3" height="4.1" fill="#333333"/>
<text x="241.8" y="2076.7" font-size="30.78" text-anchor="end" fill="#45474e" textLength="97.9" lengthAdjust="spacingAndGlyphs">Hainan</text>
<rect x="252.7" y="2101.5" width="6.3" height="4.1" fill="#333333"/>
<text x="241.8" y="2111.3" font-size="30.78" text-anchor="end" fill="#45474e" textLength="114.9" lengthAdjust="spacingAndGlyphs">Guizhou</text>
<rect x="252.7" y="2136.2" width="6.3" height="4.1" fill="#333333"/>
<text x="241.8" y="2145.9" font-size="30.78" text-anchor="end" fill="#45474e" textLength="112.7" lengthAdjust="spacingAndGlyphs">Guangxi</text>
<rect x="252.7" y="2170.8" width="6.3" height="4.1" fill="#333333"/>
<text x="241.8" y="2180.5" font-size="30.78" text-anchor="end" fill="#45474e" textLength="160.1" lengthAdjust="spacingAndGlyphs">Guangdong</text>
<rect x="252.7" y="2205.4" width="6.3" height="4.1" fill="#333333"/>
<text x="241.8" y="2215.2" font-size="30.78" text-anchor="end" fill="#45474e" textLength="87.3" lengthAdjust="spacingAndGlyphs">Gansu</text>
<rect x="252.7" y="2240.0" width="6.3" height="4.1" fill="#333333"/>
<text x="241.8" y="2249.8" font-size="30.78" text-anchor="end" fill="#45474e" textLength="84.1" lengthAdjust="spacingAndGlyphs">Fujian</text>
<rect x="252.7" y="2274.7" width="6.3" height="4.1" fill="#333333"/>
<text x="241.8" y="2284.4" font-size="30.78" text-anchor="end" fill="#45474e" textLength="148.2" lengthAdjust="spacingAndGlyphs">Chongqing</text>
<rect x="252.7" y="2309.3" width="6.3" height="4.1" fill="#333333"/>
<text x="241.8" y="2319.1" font-size="30.78" text-anchor="end" fill="#45474e" textLength="93.6" lengthAdjust="spacingAndGlyphs">Beijing</text>
<rect x="252.7" y="2343.9" width="6.3" height="4.1" fill="#333333"/>
<text x="241.8" y="2353.7" font-size="30.78" text-anchor="end" fill="#45474e" textLength="81.5" lengthAdjust="spacingAndGlyphs">Anhui</text>
<rect x="323.1" y="2366.5" width="3.7" height="10" fill="#333333"/>
<text x="325.0" y="2405.5" font-size="30.78" text-anchor="middle" fill="#45474e" textLength="69.3" lengthAdjust="spacingAndGlyphs">2016</text>
<rect x="400.9" y="2366.5" width="3.7" height="10" fill="#333333"/>
<text x="402.8" y="2405.5" font-size="30.78" text-anchor="middle" fill="#45474e" textLength="69.3" lengthAdjust="spacingAndGlyphs">2017</text>
<rect x="478.8" y="2366.5" width="3.7" height="10" fill="#333333"/>
<text x="480.7" y="2405.5" font-size="30.78" text-anchor="middle" fill="#45474e" textLength="69.3" lengthAdjust="spacingAndGlyphs">2018</text>
<rect x="556.6" y="2366.5" width="3.7" height="10" fill="#333333"/>
<text x="558.5" y="2405.5" font-size="30.78" text-anchor="middle" fill="#45474e" textLength="69.3" lengthAdjust="spacingAndGlyphs">2019</text>
<rect x="634.5" y="2366.5" width="3.7" height="10" fill="#333333"/>
<text x="636.4" y="2405.5" font-size="30.78" text-anchor="middle" fill="#45474e" textLength="69.3" lengthAdjust="spacingAndGlyphs">2020</text>
<rect x="712.4" y="2366.5" width="3.7" height="10" fill="#333333"/>
<text x="714.2" y="2405.5" font-size="30.78" text-anchor="middle" fill="#45474e" textLength="69.3" lengthAdjust="spacingAndGlyphs">2021</text>
<rect x="790.2" y="2366.5" width="3.7" height="10" fill="#333333"/>
<text x="792.0" y="2405.5" font-size="30.78" text-anchor="middle" fill="#45474e" textLength="69.3" lengthAdjust="spacingAndGlyphs">2022</text>
<rect x="1115" y="1226" width="599" height="60" fill="#D0D0D0"/>
<text x="1407.6" y="1266.6" font-size="37.44" text-anchor="middle" fill="#1a1a1a" textLength="432.8" lengthAdjust="spacingAndGlyphs">Pseudomonas aeruginosa</text>
<rect x="1115" y="1286" width="599" height="1080.5" fill="#E6E5E4"/>
<rect x="1115" y="1305.1" width="599" height="4" fill="#fff"/>
<rect x="1115" y="1339.7" width="599" height="4" fill="#fff"/>
<rect x="1115" y="1374.4" width="599" height="4" fill="#fff"/>
<rect x="1115" y="1409.0" width="599" height="4" fill="#fff"/>
<rect x="1115" y="1443.6" width="599" height="4" fill="#fff"/>
<rect x="1115" y="1478.3" width="599" height="4" fill="#fff"/>
<rect x="1115" y="1512.9" width="599" height="4" fill="#fff"/>
<rect x="1115" y="1547.5" width="599" height="4" fill="#fff"/>
<rect x="1115" y="1582.1" width="599" height="4" fill="#fff"/>
<rect x="1115" y="1616.8" width="599" height="4" fill="#fff"/>
<rect x="1115" y="1651.4" width="599" height="4" fill="#fff"/>
<rect x="1115" y="1686.0" width="599" height="4" fill="#fff"/>
<rect x="1115" y="1720.7" width="599" height="4" fill="#fff"/>
<rect x="1115" y="1755.3" width="599" height="4" fill="#fff"/>
<rect x="1115" y="1789.9" width="599" height="4" fill="#fff"/>
<rect x="1115" y="1824.5" width="599" height="4" fill="#fff"/>
<rect x="1115" y="1859.2" width="599" height="4" fill="#fff"/>
<rect x="1115" y="1893.8" width="599" height="4" fill="#fff"/>
<rect x="1115" y="1928.4" width="599" height="4" fill="#fff"/>
<rect x="1115" y="1963.1" width="599" height="4" fill="#fff"/>
<rect x="1115" y="1997.7" width="599" height="4" fill="#fff"/>
<rect x="1115" y="2032.3" width="599" height="4" fill="#fff"/>
<rect x="1115" y="2067.0" width="599" height="4" fill="#fff"/>
<rect x="1115" y="2101.6" width="599" height="4" fill="#fff"/>
<rect x="1115" y="2136.2" width="599" height="4" fill="#fff"/>
<rect x="1115" y="2170.8" width="599" height="4" fill="#fff"/>
<rect x="1115" y="2205.5" width="599" height="4" fill="#fff"/>
<rect x="1115" y="2240.1" width="599" height="4" fill="#fff"/>
<rect x="1115" y="2274.7" width="599" height="4" fill="#fff"/>
<rect x="1115" y="2309.4" width="599" height="4" fill="#fff"/>
<rect x="1115" y="2344.0" width="599" height="4" fill="#fff"/>
<rect x="1179.0" y="1286" width="4" height="1080.5" fill="#fff"/>
<rect x="1256.8" y="1286" width="4" height="1080.5" fill="#fff"/>
<rect x="1334.7" y="1286" width="4" height="1080.5" fill="#fff"/>
<rect x="1412.5" y="1286" width="4" height="1080.5" fill="#fff"/>
<rect x="1490.4" y="1286" width="4" height="1080.5" fill="#fff"/>
<rect x="1568.2" y="1286" width="4" height="1080.5" fill="#fff"/>
<rect x="1646.1" y="1286" width="4" height="1080.5" fill="#fff"/>
<rect x="1141.0" y="1286" width="2" height="1080.5" fill="#fff"/>
<rect x="1218.9" y="1286" width="2" height="1080.5" fill="#fff"/>
<rect x="1296.7" y="1286" width="2" height="1080.5" fill="#fff"/>
<rect x="1374.6" y="1286" width="2" height="1080.5" fill="#fff"/>
<rect x="1452.4" y="1286" width="2" height="1080.5" fill="#fff"/>
<rect x="1530.3" y="1286" width="2" height="1080.5" fill="#fff"/>
<rect x="1608.1" y="1286" width="2" height="1080.5" fill="#fff"/>
<rect x="1686.0" y="1286" width="2" height="1080.5" fill="#fff"/>
<rect x="1142.0" y="1289.8" width="78.2" height="34.9" fill="#f69a8e"/>
<rect x="1219.9" y="1289.8" width="78.1" height="34.9" fill="#f8a99e"/>
<rect x="1297.7" y="1289.8" width="78.2" height="34.9" fill="#f8a99e"/>
<rect x="1375.6" y="1289.8" width="78.1" height="34.9" fill="#f8a99e"/>
<rect x="1453.4" y="1289.8" width="78.2" height="34.9" fill="#f8a99e"/>
<rect x="1531.3" y="1289.8" width="78.1" height="34.9" fill="#f8aea4"/>
<rect x="1609.1" y="1289.8" width="78.2" height="34.9" fill="#f8aea4"/>
<rect x="1142.0" y="1324.4" width="78.2" height="35.0" fill="#f7a397"/>
<rect x="1219.9" y="1324.4" width="78.1" height="35.0" fill="#f7a69a"/>
<rect x="1297.7" y="1324.4" width="78.2" height="35.0" fill="#f8aca1"/>
<rect x="1375.6" y="1324.4" width="78.1" height="35.0" fill="#f8aca1"/>
<rect x="1453.4" y="1324.4" width="78.2" height="35.0" fill="#f8b1a7"/>
<rect x="1531.3" y="1324.4" width="78.1" height="35.0" fill="#f9bab1"/>
<rect x="1609.1" y="1324.4" width="78.2" height="35.0" fill="#f9bab1"/>
<rect x="1142.0" y="1359.1" width="78.2" height="34.9" fill="#fac7bf"/>
<rect x="1219.9" y="1359.1" width="78.1" height="34.9" fill="#faccc5"/>
<rect x="1297.7" y="1359.1" width="78.2" height="34.9" fill="#fbd2cd"/>
<rect x="1375.6" y="1359.1" width="78.1" height="34.9" fill="#fac7bf"/>
<rect x="1453.4" y="1359.1" width="78.2" height="34.9" fill="#facac3"/>
<rect x="1531.3" y="1359.1" width="78.1" height="34.9" fill="#fbd6d0"/>
<rect x="1609.1" y="1359.1" width="78.2" height="34.9" fill="#fcd9d4"/>
<rect x="1142.0" y="1393.7" width="78.2" height="34.9" fill="#767A82"/>
<rect x="1219.9" y="1393.7" width="78.1" height="34.9" fill="#fac4bc"/>
<rect x="1297.7" y="1393.7" width="78.2" height="34.9" fill="#fbd2cd"/>
<rect x="1375.6" y="1393.7" width="78.1" height="34.9" fill="#fde5e1"/>
<rect x="1453.4" y="1393.7" width="78.2" height="34.9" fill="#fcd9d4"/>
<rect x="1531.3" y="1393.7" width="78.1" height="34.9" fill="#fcd9d4"/>
<rect x="1609.1" y="1393.7" width="78.2" height="34.9" fill="#fbd7d2"/>
<rect x="1142.0" y="1428.3" width="78.2" height="34.9" fill="#f9bab1"/>
<rect x="1219.9" y="1428.3" width="78.1" height="34.9" fill="#f9bab1"/>
<rect x="1297.7" y="1428.3" width="78.2" height="34.9" fill="#f9bab1"/>
<rect x="1375.6" y="1428.3" width="78.1" height="34.9" fill="#f9bdb4"/>
<rect x="1453.4" y="1428.3" width="78.2" height="34.9" fill="#f8b6ac"/>
<rect x="1531.3" y="1428.3" width="78.1" height="34.9" fill="#f9bab1"/>
<rect x="1609.1" y="1428.3" width="78.2" height="34.9" fill="#f9c0b8"/>
<rect x="1142.0" y="1462.9" width="78.2" height="35.0" fill="#fac7bf"/>
<rect x="1219.9" y="1462.9" width="78.1" height="35.0" fill="#faccc5"/>
<rect x="1297.7" y="1462.9" width="78.2" height="35.0" fill="#fbcfc9"/>
<rect x="1375.6" y="1462.9" width="78.1" height="35.0" fill="#fbd1cb"/>
<rect x="1453.4" y="1462.9" width="78.2" height="35.0" fill="#fbd4cf"/>
<rect x="1531.3" y="1462.9" width="78.1" height="35.0" fill="#fbd7d2"/>
<rect x="1609.1" y="1462.9" width="78.2" height="35.0" fill="#fcdcd8"/>
<rect x="1142.0" y="1497.6" width="78.2" height="34.9" fill="#fac7bf"/>
<rect x="1219.9" y="1497.6" width="78.1" height="34.9" fill="#facec7"/>
<rect x="1297.7" y="1497.6" width="78.2" height="34.9" fill="#fbcfc9"/>
<rect x="1375.6" y="1497.6" width="78.1" height="34.9" fill="#fac7bf"/>
<rect x="1453.4" y="1497.6" width="78.2" height="34.9" fill="#facac3"/>
<rect x="1531.3" y="1497.6" width="78.1" height="34.9" fill="#fac9c1"/>
<rect x="1609.1" y="1497.6" width="78.2" height="34.9" fill="#fac7bf"/>
<rect x="1142.0" y="1532.2" width="78.2" height="34.9" fill="#f69a8e"/>
<rect x="1219.9" y="1532.2" width="78.1" height="34.9" fill="#f69a8e"/>
<rect x="1297.7" y="1532.2" width="78.2" height="34.9" fill="#f69a8e"/>
<rect x="1375.6" y="1532.2" width="78.1" height="34.9" fill="#f79d91"/>
<rect x="1453.4" y="1532.2" width="78.2" height="34.9" fill="#f7a69a"/>
<rect x="1531.3" y="1532.2" width="78.1" height="34.9" fill="#f7a69a"/>
<rect x="1609.1" y="1532.2" width="78.2" height="34.9" fill="#f7a69a"/>
<rect x="1142.0" y="1566.8" width="78.2" height="35.0" fill="#f8b3a9"/>
<rect x="1219.9" y="1566.8" width="78.1" height="35.0" fill="#f9b7ae"/>
<rect x="1297.7" y="1566.8" width="78.2" height="35.0" fill="#f9bdb4"/>
<rect x="1375.6" y="1566.8" width="78.1" height="35.0" fill="#f9c0b8"/>
<rect x="1453.4" y="1566.8" width="78.2" height="35.0" fill="#f9c2ba"/>
<rect x="1531.3" y="1566.8" width="78.1" height="35.0" fill="#fac5be"/>
<rect x="1609.1" y="1566.8" width="78.2" height="35.0" fill="#fbcfc9"/>
<rect x="1142.0" y="1601.5" width="78.2" height="34.9" fill="#f7a397"/>
<rect x="1219.9" y="1601.5" width="78.1" height="34.9" fill="#f8b4aa"/>
<rect x="1297.7" y="1601.5" width="78.2" height="34.9" fill="#f8b4aa"/>
<rect x="1375.6" y="1601.5" width="78.1" height="34.9" fill="#f9b9af"/>
<rect x="1453.4" y="1601.5" width="78.2" height="34.9" fill="#f9b7ae"/>
<rect x="1531.3" y="1601.5" width="78.1" height="34.9" fill="#f8b1a7"/>
<rect x="1609.1" y="1601.5" width="78.2" height="34.9" fill="#f8b4aa"/>
<rect x="1142.0" y="1636.1" width="78.2" height="34.9" fill="#fbd4cf"/>
<rect x="1219.9" y="1636.1" width="78.1" height="34.9" fill="#fcdcd8"/>
<rect x="1297.7" y="1636.1" width="78.2" height="34.9" fill="#fbcfc9"/>
<rect x="1375.6" y="1636.1" width="78.1" height="34.9" fill="#fbd2cd"/>
<rect x="1453.4" y="1636.1" width="78.2" height="34.9" fill="#fcdcd8"/>
<rect x="1531.3" y="1636.1" width="78.1" height="34.9" fill="#fbd7d2"/>
<rect x="1609.1" y="1636.1" width="78.2" height="34.9" fill="#fce1de"/>
<rect x="1142.0" y="1670.7" width="78.2" height="34.9" fill="#fbd6d0"/>
<rect x="1219.9" y="1670.7" width="78.1" height="34.9" fill="#fce0dc"/>
<rect x="1297.7" y="1670.7" width="78.2" height="34.9" fill="#fce0dc"/>
<rect x="1375.6" y="1670.7" width="78.1" height="34.9" fill="#fce3e0"/>
<rect x="1453.4" y="1670.7" width="78.2" height="34.9" fill="#fdebe9"/>
<rect x="1531.3" y="1670.7" width="78.1" height="34.9" fill="#fde5e1"/>
<rect x="1609.1" y="1670.7" width="78.2" height="34.9" fill="#fce3e0"/>
<rect x="1142.0" y="1705.3" width="78.2" height="35.0" fill="#f6988c"/>
<rect x="1219.9" y="1705.3" width="78.1" height="35.0" fill="#f79d91"/>
<rect x="1297.7" y="1705.3" width="78.2" height="35.0" fill="#f7a094"/>
<rect x="1375.6" y="1705.3" width="78.1" height="35.0" fill="#f7a094"/>
<rect x="1453.4" y="1705.3" width="78.2" height="35.0" fill="#f8aca1"/>
<rect x="1531.3" y="1705.3" width="78.1" height="35.0" fill="#f7a69a"/>
<rect x="1609.1" y="1705.3" width="78.2" height="35.0" fill="#f9b9af"/>
<rect x="1142.0" y="1740.0" width="78.2" height="34.9" fill="#fac7bf"/>
<rect x="1219.9" y="1740.0" width="78.1" height="34.9" fill="#fbd4cf"/>
<rect x="1297.7" y="1740.0" width="78.2" height="34.9" fill="#fbcfc9"/>
<rect x="1375.6" y="1740.0" width="78.1" height="34.9" fill="#fbcfc9"/>
<rect x="1453.4" y="1740.0" width="78.2" height="34.9" fill="#fbcfc9"/>
<rect x="1531.3" y="1740.0" width="78.1" height="34.9" fill="#fac9c1"/>
<rect x="1609.1" y="1740.0" width="78.2" height="34.9" fill="#facec7"/>
<rect x="1142.0" y="1774.6" width="78.2" height="34.9" fill="#f9bab1"/>
<rect x="1219.9" y="1774.6" width="78.1" height="34.9" fill="#f9bcb2"/>
<rect x="1297.7" y="1774.6" width="78.2" height="34.9" fill="#f9bfb6"/>
<rect x="1375.6" y="1774.6" width="78.1" height="34.9" fill="#f9bcb2"/>
<rect x="1453.4" y="1774.6" width="78.2" height="34.9" fill="#f9bcb2"/>
<rect x="1531.3" y="1774.6" width="78.1" height="34.9" fill="#fac7bf"/>
<rect x="1609.1" y="1774.6" width="78.2" height="34.9" fill="#facec7"/>
<rect x="1142.0" y="1809.2" width="78.2" height="35.0" fill="#f7a69a"/>
<rect x="1219.9" y="1809.2" width="78.1" height="35.0" fill="#f8a79c"/>
<rect x="1297.7" y="1809.2" width="78.2" height="35.0" fill="#f8a79c"/>
<rect x="1375.6" y="1809.2" width="78.1" height="35.0" fill="#f7a397"/>
<rect x="1453.4" y="1809.2" width="78.2" height="35.0" fill="#f8a99e"/>
<rect x="1531.3" y="1809.2" width="78.1" height="35.0" fill="#f8ada2"/>
<rect x="1609.1" y="1809.2" width="78.2" height="35.0" fill="#f8b0a6"/>
<rect x="1142.0" y="1843.9" width="78.2" height="34.9" fill="#fac7bf"/>
<rect x="1219.9" y="1843.9" width="78.1" height="34.9" fill="#faccc5"/>
<rect x="1297.7" y="1843.9" width="78.2" height="34.9" fill="#fac7bf"/>
<rect x="1375.6" y="1843.9" width="78.1" height="34.9" fill="#fac5be"/>
<rect x="1453.4" y="1843.9" width="78.2" height="34.9" fill="#fac9c1"/>
<rect x="1531.3" y="1843.9" width="78.1" height="34.9" fill="#fbcfc9"/>
<rect x="1609.1" y="1843.9" width="78.2" height="34.9" fill="#fbd1cb"/>
<rect x="1142.0" y="1878.5" width="78.2" height="34.9" fill="#fcdbd6"/>
<rect x="1219.9" y="1878.5" width="78.1" height="34.9" fill="#f9b9af"/>
<rect x="1297.7" y="1878.5" width="78.2" height="34.9" fill="#fac4bc"/>
<rect x="1375.6" y="1878.5" width="78.1" height="34.9" fill="#f9c0b8"/>
<rect x="1453.4" y="1878.5" width="78.2" height="34.9" fill="#fac4bc"/>
<rect x="1531.3" y="1878.5" width="78.1" height="34.9" fill="#fac4bc"/>
<rect x="1609.1" y="1878.5" width="78.2" height="34.9" fill="#fac9c1"/>
<rect x="1142.0" y="1913.1" width="78.2" height="35.0" fill="#f8aca1"/>
<rect x="1219.9" y="1913.1" width="78.1" height="35.0" fill="#f9c0b8"/>
<rect x="1297.7" y="1913.1" width="78.2" height="35.0" fill="#facec7"/>
<rect x="1375.6" y="1913.1" width="78.1" height="35.0" fill="#fac5be"/>
<rect x="1453.4" y="1913.1" width="78.2" height="35.0" fill="#fac7bf"/>
<rect x="1531.3" y="1913.1" width="78.1" height="35.0" fill="#fac7bf"/>
<rect x="1609.1" y="1913.1" width="78.2" height="35.0" fill="#facac3"/>
<rect x="1142.0" y="1947.8" width="78.2" height="34.9" fill="#f69a8e"/>
<rect x="1219.9" y="1947.8" width="78.1" height="34.9" fill="#f7a397"/>
<rect x="1297.7" y="1947.8" width="78.2" height="34.9" fill="#f8aca1"/>
<rect x="1375.6" y="1947.8" width="78.1" height="34.9" fill="#f8a79c"/>
<rect x="1453.4" y="1947.8" width="78.2" height="34.9" fill="#f8ada2"/>
<rect x="1531.3" y="1947.8" width="78.1" height="34.9" fill="#f8ada2"/>
<rect x="1609.1" y="1947.8" width="78.2" height="34.9" fill="#f9c2ba"/>
<rect x="1142.0" y="1982.4" width="78.2" height="34.9" fill="#fac9c1"/>
<rect x="1219.9" y="1982.4" width="78.1" height="34.9" fill="#fac9c1"/>
<rect x="1297.7" y="1982.4" width="78.2" height="34.9" fill="#fbd1cb"/>
<rect x="1375.6" y="1982.4" width="78.1" height="34.9" fill="#fbd2cd"/>
<rect x="1453.4" y="1982.4" width="78.2" height="34.9" fill="#fbd4cf"/>
<rect x="1531.3" y="1982.4" width="78.1" height="34.9" fill="#fbd4cf"/>
<rect x="1609.1" y="1982.4" width="78.2" height="34.9" fill="#fcdbd6"/>
<rect x="1142.0" y="2017.0" width="78.2" height="34.9" fill="#f7a69a"/>
<rect x="1219.9" y="2017.0" width="78.1" height="34.9" fill="#f8a79c"/>
<rect x="1297.7" y="2017.0" width="78.2" height="34.9" fill="#f8b4aa"/>
<rect x="1375.6" y="2017.0" width="78.1" height="34.9" fill="#f9b7ae"/>
<rect x="1453.4" y="2017.0" width="78.2" height="34.9" fill="#f9bdb4"/>
<rect x="1531.3" y="2017.0" width="78.1" height="34.9" fill="#f9bab1"/>
<rect x="1609.1" y="2017.0" width="78.2" height="34.9" fill="#f9c2ba"/>
<rect x="1142.0" y="2051.6" width="78.2" height="35.0" fill="#fbcfc9"/>
<rect x="1219.9" y="2051.6" width="78.1" height="35.0" fill="#fbcfc9"/>
<rect x="1297.7" y="2051.6" width="78.2" height="35.0" fill="#fbd2cd"/>
<rect x="1375.6" y="2051.6" width="78.1" height="35.0" fill="#fbd4cf"/>
<rect x="1453.4" y="2051.6" width="78.2" height="35.0" fill="#fcdbd6"/>
<rect x="1531.3" y="2051.6" width="78.1" height="35.0" fill="#fcdbd6"/>
<rect x="1609.1" y="2051.6" width="78.2" height="35.0" fill="#fce3e0"/>
<rect x="1142.0" y="2086.3" width="78.2" height="34.9" fill="#fac4bc"/>
<rect x="1219.9" y="2086.3" width="78.1" height="34.9" fill="#fac7bf"/>
<rect x="1297.7" y="2086.3" width="78.2" height="34.9" fill="#facec7"/>
<rect x="1375.6" y="2086.3" width="78.1" height="34.9" fill="#fbcfc9"/>
<rect x="1453.4" y="2086.3" width="78.2" height="34.9" fill="#fbd2cd"/>
<rect x="1531.3" y="2086.3" width="78.1" height="34.9" fill="#fbd2cd"/>
<rect x="1609.1" y="2086.3" width="78.2" height="34.9" fill="#fbd2cd"/>
<rect x="1142.0" y="2120.9" width="78.2" height="34.9" fill="#fac7bf"/>
<rect x="1219.9" y="2120.9" width="78.1" height="34.9" fill="#fbcfc9"/>
<rect x="1297.7" y="2120.9" width="78.2" height="34.9" fill="#fbcfc9"/>
<rect x="1375.6" y="2120.9" width="78.1" height="34.9" fill="#fbcfc9"/>
<rect x="1453.4" y="2120.9" width="78.2" height="34.9" fill="#facac3"/>
<rect x="1531.3" y="2120.9" width="78.1" height="34.9" fill="#facac3"/>
<rect x="1609.1" y="2120.9" width="78.2" height="34.9" fill="#faccc5"/>
<rect x="1142.0" y="2155.5" width="78.2" height="35.0" fill="#f9c0b8"/>
<rect x="1219.9" y="2155.5" width="78.1" height="35.0" fill="#f9c2ba"/>
<rect x="1297.7" y="2155.5" width="78.2" height="35.0" fill="#f9c2ba"/>
<rect x="1375.6" y="2155.5" width="78.1" height="35.0" fill="#fac5be"/>
<rect x="1453.4" y="2155.5" width="78.2" height="35.0" fill="#facac3"/>
<rect x="1531.3" y="2155.5" width="78.1" height="35.0" fill="#faccc5"/>
<rect x="1609.1" y="2155.5" width="78.2" height="35.0" fill="#fbcfc9"/>
<rect x="1142.0" y="2190.2" width="78.2" height="34.9" fill="#f9c0b8"/>
<rect x="1219.9" y="2190.2" width="78.1" height="34.9" fill="#f9c2ba"/>
<rect x="1297.7" y="2190.2" width="78.2" height="34.9" fill="#fbd4cf"/>
<rect x="1375.6" y="2190.2" width="78.1" height="34.9" fill="#fbd4cf"/>
<rect x="1453.4" y="2190.2" width="78.2" height="34.9" fill="#fbd1cb"/>
<rect x="1531.3" y="2190.2" width="78.1" height="34.9" fill="#fbd1cb"/>
<rect x="1609.1" y="2190.2" width="78.2" height="34.9" fill="#fbd6d0"/>
<rect x="1142.0" y="2224.8" width="78.2" height="34.9" fill="#f8aa9f"/>
<rect x="1219.9" y="2224.8" width="78.1" height="34.9" fill="#f8ada2"/>
<rect x="1297.7" y="2224.8" width="78.2" height="34.9" fill="#f8a79c"/>
<rect x="1375.6" y="2224.8" width="78.1" height="34.9" fill="#f7a397"/>
<rect x="1453.4" y="2224.8" width="78.2" height="34.9" fill="#f8b6ac"/>
<rect x="1531.3" y="2224.8" width="78.1" height="34.9" fill="#f9b9af"/>
<rect x="1609.1" y="2224.8" width="78.2" height="34.9" fill="#f9bdb4"/>
<rect x="1142.0" y="2259.4" width="78.2" height="34.9" fill="#facac3"/>
<rect x="1219.9" y="2259.4" width="78.1" height="34.9" fill="#fbd4cf"/>
<rect x="1297.7" y="2259.4" width="78.2" height="34.9" fill="#fbd2cd"/>
<rect x="1375.6" y="2259.4" width="78.1" height="34.9" fill="#fbd6d0"/>
<rect x="1453.4" y="2259.4" width="78.2" height="34.9" fill="#fbd6d0"/>
<rect x="1531.3" y="2259.4" width="78.1" height="34.9" fill="#fbd6d0"/>
<rect x="1609.1" y="2259.4" width="78.2" height="34.9" fill="#fbd6d0"/>
<rect x="1142.0" y="2294.0" width="78.2" height="35.0" fill="#f69a8e"/>
<rect x="1219.9" y="2294.0" width="78.1" height="35.0" fill="#f7a094"/>
<rect x="1297.7" y="2294.0" width="78.2" height="35.0" fill="#f7a69a"/>
<rect x="1375.6" y="2294.0" width="78.1" height="35.0" fill="#f7a69a"/>
<rect x="1453.4" y="2294.0" width="78.2" height="35.0" fill="#f7a397"/>
<rect x="1531.3" y="2294.0" width="78.1" height="35.0" fill="#f8a79c"/>
<rect x="1609.1" y="2294.0" width="78.2" height="35.0" fill="#f8aca1"/>
<rect x="1142.0" y="2328.7" width="78.2" height="34.9" fill="#f9b7ae"/>
<rect x="1219.9" y="2328.7" width="78.1" height="34.9" fill="#f8b0a6"/>
<rect x="1297.7" y="2328.7" width="78.2" height="34.9" fill="#f9b9af"/>
<rect x="1375.6" y="2328.7" width="78.1" height="34.9" fill="#f9b9af"/>
<rect x="1453.4" y="2328.7" width="78.2" height="34.9" fill="#f9bab1"/>
<rect x="1531.3" y="2328.7" width="78.1" height="34.9" fill="#f9bab1"/>
<rect x="1609.1" y="2328.7" width="78.2" height="34.9" fill="#f9b7ae"/>
<rect x="1108.7" y="1305.1" width="6.3" height="4.1" fill="#333333"/>
<text x="1097.6" y="1312.2" font-size="30.78" text-anchor="end" fill="#45474e" textLength="117.5" lengthAdjust="spacingAndGlyphs">Zhejiang</text>
<rect x="1108.7" y="1339.7" width="6.3" height="4.1" fill="#333333"/>
<text x="1097.6" y="1346.8" font-size="30.78" text-anchor="end" fill="#45474e" textLength="104.9" lengthAdjust="spacingAndGlyphs">Yunnan</text>
<rect x="1108.7" y="1374.3" width="6.3" height="4.1" fill="#333333"/>
<text x="1097.6" y="1381.5" font-size="30.78" text-anchor="end" fill="#45474e" textLength="110.0" lengthAdjust="spacingAndGlyphs">Xinjiang</text>
<rect x="1108.7" y="1409.0" width="6.3" height="4.1" fill="#333333"/>
<text x="1097.6" y="1416.1" font-size="30.78" text-anchor="end" fill="#45474e" textLength="71.0" lengthAdjust="spacingAndGlyphs">Tibet</text>
<rect x="1108.7" y="1443.6" width="6.3" height="4.1" fill="#333333"/>
<text x="1097.6" y="1450.7" font-size="30.78" text-anchor="end" fill="#45474e" textLength="92.9" lengthAdjust="spacingAndGlyphs">Tianjin</text>
<rect x="1108.7" y="1478.2" width="6.3" height="4.1" fill="#333333"/>
<text x="1097.6" y="1485.4" font-size="30.78" text-anchor="end" fill="#45474e" textLength="108.3" lengthAdjust="spacingAndGlyphs">Sichuan</text>
<rect x="1108.7" y="1512.8" width="6.3" height="4.1" fill="#333333"/>
<text x="1097.6" y="1520.0" font-size="30.78" text-anchor="end" fill="#45474e" textLength="90.7" lengthAdjust="spacingAndGlyphs">Shanxi</text>
<rect x="1108.7" y="1547.5" width="6.3" height="4.1" fill="#333333"/>
<text x="1097.6" y="1554.6" font-size="30.78" text-anchor="end" fill="#45474e" textLength="126.3" lengthAdjust="spacingAndGlyphs">Shanghai</text>
<rect x="1108.7" y="1582.1" width="6.3" height="4.1" fill="#333333"/>
<text x="1097.6" y="1589.2" font-size="30.78" text-anchor="end" fill="#45474e" textLength="138.1" lengthAdjust="spacingAndGlyphs">Shandong</text>
<rect x="1108.7" y="1616.7" width="6.3" height="4.1" fill="#333333"/>
<text x="1097.6" y="1623.9" font-size="30.78" text-anchor="end" fill="#45474e" textLength="107.1" lengthAdjust="spacingAndGlyphs">Shaanxi</text>
<rect x="1108.7" y="1651.4" width="6.3" height="4.1" fill="#333333"/>
<text x="1097.6" y="1658.5" font-size="30.78" text-anchor="end" fill="#45474e" textLength="107.1" lengthAdjust="spacingAndGlyphs">Qinghai</text>
<rect x="1108.7" y="1686.0" width="6.3" height="4.1" fill="#333333"/>
<text x="1097.6" y="1693.1" font-size="30.78" text-anchor="end" fill="#45474e" textLength="103.0" lengthAdjust="spacingAndGlyphs">Ningxia</text>
<rect x="1108.7" y="1720.6" width="6.3" height="4.1" fill="#333333"/>
<text x="1097.6" y="1727.8" font-size="30.78" text-anchor="end" fill="#45474e" textLength="116.5" lengthAdjust="spacingAndGlyphs">Liaoning</text>
<rect x="1108.7" y="1755.2" width="6.3" height="4.1" fill="#333333"/>
<text x="1097.6" y="1762.4" font-size="30.78" text-anchor="end" fill="#45474e" textLength="52.4" lengthAdjust="spacingAndGlyphs">Jilin</text>
<rect x="1108.7" y="1789.9" width="6.3" height="4.1" fill="#333333"/>
<text x="1097.6" y="1797.0" font-size="30.78" text-anchor="end" fill="#45474e" textLength="91.9" lengthAdjust="spacingAndGlyphs">Jiangxi</text>
<rect x="1108.7" y="1824.5" width="6.3" height="4.1" fill="#333333"/>
<text x="1097.6" y="1831.6" font-size="30.78" text-anchor="end" fill="#45474e" textLength="100.5" lengthAdjust="spacingAndGlyphs">Jiangsu</text>
<rect x="1108.7" y="1859.1" width="6.3" height="4.1" fill="#333333"/>
<text x="1097.6" y="1866.3" font-size="30.78" text-anchor="end" fill="#45474e" textLength="212.7" lengthAdjust="spacingAndGlyphs">Inner Mongolia</text>
<rect x="1108.7" y="1893.8" width="6.3" height="4.1" fill="#333333"/>
<text x="1097.6" y="1900.9" font-size="30.78" text-anchor="end" fill="#45474e" textLength="91.6" lengthAdjust="spacingAndGlyphs">Hunan</text>
<rect x="1108.7" y="1928.4" width="6.3" height="4.1" fill="#333333"/>
<text x="1097.6" y="1935.5" font-size="30.78" text-anchor="end" fill="#45474e" textLength="82.1" lengthAdjust="spacingAndGlyphs">Hubei</text>
<rect x="1108.7" y="1963.0" width="6.3" height="4.1" fill="#333333"/>
<text x="1097.6" y="1970.2" font-size="30.78" text-anchor="end" fill="#45474e" textLength="90.6" lengthAdjust="spacingAndGlyphs">Henan</text>
<rect x="1108.7" y="1997.6" width="6.3" height="4.1" fill="#333333"/>
<text x="1097.6" y="2004.8" font-size="30.78" text-anchor="end" fill="#45474e" textLength="172.6" lengthAdjust="spacingAndGlyphs">Heilongjiang</text>
<rect x="1108.7" y="2032.3" width="6.3" height="4.1" fill="#333333"/>
<text x="1097.6" y="2039.4" font-size="30.78" text-anchor="end" fill="#45474e" textLength="81.2" lengthAdjust="spacingAndGlyphs">Hebei</text>
<rect x="1108.7" y="2066.9" width="6.3" height="4.1" fill="#333333"/>
<text x="1097.6" y="2074.1" font-size="30.78" text-anchor="end" fill="#45474e" textLength="97.9" lengthAdjust="spacingAndGlyphs">Hainan</text>
<rect x="1108.7" y="2101.5" width="6.3" height="4.1" fill="#333333"/>
<text x="1097.6" y="2108.7" font-size="30.78" text-anchor="end" fill="#45474e" textLength="114.9" lengthAdjust="spacingAndGlyphs">Guizhou</text>
<rect x="1108.7" y="2136.2" width="6.3" height="4.1" fill="#333333"/>
<text x="1097.6" y="2143.3" font-size="30.78" text-anchor="end" fill="#45474e" textLength="112.7" lengthAdjust="spacingAndGlyphs">Guangxi</text>
<rect x="1108.7" y="2170.8" width="6.3" height="4.1" fill="#333333"/>
<text x="1097.6" y="2177.9" font-size="30.78" text-anchor="end" fill="#45474e" textLength="160.1" lengthAdjust="spacingAndGlyphs">Guangdong</text>
<rect x="1108.7" y="2205.4" width="6.3" height="4.1" fill="#333333"/>
<text x="1097.6" y="2212.6" font-size="30.78" text-anchor="end" fill="#45474e" textLength="87.3" lengthAdjust="spacingAndGlyphs">Gansu</text>
<rect x="1108.7" y="2240.0" width="6.3" height="4.1" fill="#333333"/>
<text x="1097.6" y="2247.2" font-size="30.78" text-anchor="end" fill="#45474e" textLength="84.1" lengthAdjust="spacingAndGlyphs">Fujian</text>
<rect x="1108.7" y="2274.7" width="6.3" height="4.1" fill="#333333"/>
<text x="1097.6" y="2281.8" font-size="30.78" text-anchor="end" fill="#45474e" textLength="148.2" lengthAdjust="spacingAndGlyphs">Chongqing</text>
<rect x="1108.7" y="2309.3" width="6.3" height="4.1" fill="#333333"/>
<text x="1097.6" y="2316.5" font-size="30.78" text-anchor="end" fill="#45474e" textLength="93.6" lengthAdjust="spacingAndGlyphs">Beijing</text>
<rect x="1108.7" y="2343.9" width="6.3" height="4.1" fill="#333333"/>
<text x="1097.6" y="2351.1" font-size="30.78" text-anchor="end" fill="#45474e" textLength="81.5" lengthAdjust="spacingAndGlyphs">Anhui</text>
<rect x="1179.1" y="2366.5" width="3.7" height="10" fill="#333333"/>
<text x="1181.0" y="2404.0" font-size="30.78" text-anchor="middle" fill="#45474e" textLength="69.3" lengthAdjust="spacingAndGlyphs">2016</text>
<rect x="1257.0" y="2366.5" width="3.7" height="10" fill="#333333"/>
<text x="1258.8" y="2404.0" font-size="30.78" text-anchor="middle" fill="#45474e" textLength="69.3" lengthAdjust="spacingAndGlyphs">2017</text>
<rect x="1334.8" y="2366.5" width="3.7" height="10" fill="#333333"/>
<text x="1336.7" y="2404.0" font-size="30.78" text-anchor="middle" fill="#45474e" textLength="69.3" lengthAdjust="spacingAndGlyphs">2018</text>
<rect x="1412.7" y="2366.5" width="3.7" height="10" fill="#333333"/>
<text x="1414.5" y="2404.0" font-size="30.78" text-anchor="middle" fill="#45474e" textLength="69.3" lengthAdjust="spacingAndGlyphs">2019</text>
<rect x="1490.5" y="2366.5" width="3.7" height="10" fill="#333333"/>
<text x="1492.4" y="2404.0" font-size="30.78" text-anchor="middle" fill="#45474e" textLength="69.3" lengthAdjust="spacingAndGlyphs">2020</text>
<rect x="1568.4" y="2366.5" width="3.7" height="10" fill="#333333"/>
<text x="1570.2" y="2404.0" font-size="30.78" text-anchor="middle" fill="#45474e" textLength="69.3" lengthAdjust="spacingAndGlyphs">2021</text>
<rect x="1646.2" y="2366.5" width="3.7" height="10" fill="#333333"/>
<text x="1648.1" y="2404.0" font-size="30.78" text-anchor="middle" fill="#45474e" textLength="69.3" lengthAdjust="spacingAndGlyphs">2022</text>
<rect x="2285" y="0" width="505" height="62" fill="#D0D0D0"/>
<text x="2536.3" y="42.0" font-size="37.44" text-anchor="middle" fill="#1a1a1a" textLength="361.7" lengthAdjust="spacingAndGlyphs">Enterococcus faecalis</text>
<rect x="2285" y="62" width="505" height="1079" fill="#E6E5E4"/>
<rect x="2285" y="80.5" width="505" height="4" fill="#fff"/>
<rect x="2285" y="115.1" width="505" height="4" fill="#fff"/>
<rect x="2285" y="149.7" width="505" height="4" fill="#fff"/>
<rect x="2285" y="184.2" width="505" height="4" fill="#fff"/>
<rect x="2285" y="218.8" width="505" height="4" fill="#fff"/>
<rect x="2285" y="253.4" width="505" height="4" fill="#fff"/>
<rect x="2285" y="288.0" width="505" height="4" fill="#fff"/>
<rect x="2285" y="322.6" width="505" height="4" fill="#fff"/>
<rect x="2285" y="357.1" width="505" height="4" fill="#fff"/>
<rect x="2285" y="391.7" width="505" height="4" fill="#fff"/>
<rect x="2285" y="426.3" width="505" height="4" fill="#fff"/>
<rect x="2285" y="460.9" width="505" height="4" fill="#fff"/>
<rect x="2285" y="495.5" width="505" height="4" fill="#fff"/>
<rect x="2285" y="530.0" width="505" height="4" fill="#fff"/>
<rect x="2285" y="564.6" width="505" height="4" fill="#fff"/>
<rect x="2285" y="599.2" width="505" height="4" fill="#fff"/>
<rect x="2285" y="633.8" width="505" height="4" fill="#fff"/>
<rect x="2285" y="668.4" width="505" height="4" fill="#fff"/>
<rect x="2285" y="702.9" width="505" height="4" fill="#fff"/>
<rect x="2285" y="737.5" width="505" height="4" fill="#fff"/>
<rect x="2285" y="772.1" width="505" height="4" fill="#fff"/>
<rect x="2285" y="806.7" width="505" height="4" fill="#fff"/>
<rect x="2285" y="841.3" width="505" height="4" fill="#fff"/>
<rect x="2285" y="875.8" width="505" height="4" fill="#fff"/>
<rect x="2285" y="910.4" width="505" height="4" fill="#fff"/>
<rect x="2285" y="945.0" width="505" height="4" fill="#fff"/>
<rect x="2285" y="979.6" width="505" height="4" fill="#fff"/>
<rect x="2285" y="1014.2" width="505" height="4" fill="#fff"/>
<rect x="2285" y="1048.7" width="505" height="4" fill="#fff"/>
<rect x="2285" y="1083.3" width="505" height="4" fill="#fff"/>
<rect x="2285" y="1117.9" width="505" height="4" fill="#fff"/>
<rect x="2338.4" y="62" width="4" height="1079" fill="#fff"/>
<rect x="2404.1" y="62" width="4" height="1079" fill="#fff"/>
<rect x="2469.8" y="62" width="4" height="1079" fill="#fff"/>
<rect x="2535.5" y="62" width="4" height="1079" fill="#fff"/>
<rect x="2601.2" y="62" width="4" height="1079" fill="#fff"/>
<rect x="2666.9" y="62" width="4" height="1079" fill="#fff"/>
<rect x="2732.6" y="62" width="4" height="1079" fill="#fff"/>
<rect x="2306.6" y="62" width="2" height="1079" fill="#fff"/>
<rect x="2372.2" y="62" width="2" height="1079" fill="#fff"/>
<rect x="2438.0" y="62" width="2" height="1079" fill="#fff"/>
<rect x="2503.7" y="62" width="2" height="1079" fill="#fff"/>
<rect x="2569.4" y="62" width="2" height="1079" fill="#fff"/>
<rect x="2635.1" y="62" width="2" height="1079" fill="#fff"/>
<rect x="2700.8" y="62" width="2" height="1079" fill="#fff"/>
<rect x="2766.5" y="62" width="2" height="1079" fill="#fff"/>
<rect x="2307.6" y="65.2" width="65.9" height="34.9" fill="#f3ecf6"/>
<rect x="2373.2" y="65.2" width="66.1" height="34.9" fill="#faf8fc"/>
<rect x="2439.0" y="65.2" width="66.0" height="34.9" fill="#fefdfe"/>
<rect x="2504.7" y="65.2" width="66.0" height="34.9" fill="#fefdfe"/>
<rect x="2570.4" y="65.2" width="66.0" height="34.9" fill="#fefdfe"/>
<rect x="2636.1" y="65.2" width="66.0" height="34.9" fill="#fefdfe"/>
<rect x="2701.8" y="65.2" width="66.0" height="34.9" fill="#fefdfe"/>
<rect x="2307.6" y="99.8" width="65.9" height="34.9" fill="#faf8fc"/>
<rect x="2373.2" y="99.8" width="66.1" height="34.9" fill="#f6f1f8"/>
<rect x="2439.0" y="99.8" width="66.0" height="34.9" fill="#faf8fc"/>
<rect x="2504.7" y="99.8" width="66.0" height="34.9" fill="#fefdfe"/>
<rect x="2570.4" y="99.8" width="66.0" height="34.9" fill="#fefdfe"/>
<rect x="2636.1" y="99.8" width="66.0" height="34.9" fill="#fefdfe"/>
<rect x="2701.8" y="99.8" width="66.0" height="34.9" fill="#fefdfe"/>
<rect x="2307.6" y="134.4" width="65.9" height="34.8" fill="#f0e7f4"/>
<rect x="2373.2" y="134.4" width="66.1" height="34.8" fill="#fdfbfd"/>
<rect x="2439.0" y="134.4" width="66.0" height="34.8" fill="#fefdfe"/>
<rect x="2504.7" y="134.4" width="66.0" height="34.8" fill="#faf8fc"/>
<rect x="2570.4" y="134.4" width="66.0" height="34.8" fill="#fefdfe"/>
<rect x="2636.1" y="134.4" width="66.0" height="34.8" fill="#fefdfe"/>
<rect x="2701.8" y="134.4" width="66.0" height="34.8" fill="#fefdfe"/>
<rect x="2307.6" y="168.9" width="65.9" height="34.9" fill="#767A82"/>
<rect x="2373.2" y="168.9" width="66.1" height="34.9" fill="#767A82"/>
<rect x="2439.0" y="168.9" width="66.0" height="34.9" fill="#FFFFFF"/>
<rect x="2504.7" y="168.9" width="66.0" height="34.9" fill="#FFFFFF"/>
<rect x="2570.4" y="168.9" width="66.0" height="34.9" fill="#FFFFFF"/>
<rect x="2636.1" y="168.9" width="66.0" height="34.9" fill="#FFFFFF"/>
<rect x="2701.8" y="168.9" width="66.0" height="34.9" fill="#FFFFFF"/>
<rect x="2307.6" y="203.5" width="65.9" height="34.9" fill="#e8daee"/>
<rect x="2373.2" y="203.5" width="66.1" height="34.9" fill="#f8f3fa"/>
<rect x="2439.0" y="203.5" width="66.0" height="34.9" fill="#f8f3fa"/>
<rect x="2504.7" y="203.5" width="66.0" height="34.9" fill="#f9f5fb"/>
<rect x="2570.4" y="203.5" width="66.0" height="34.9" fill="#fefdfe"/>
<rect x="2636.1" y="203.5" width="66.0" height="34.9" fill="#fefdfe"/>
<rect x="2701.8" y="203.5" width="66.0" height="34.9" fill="#f8f3fa"/>
<rect x="2307.6" y="238.1" width="65.9" height="34.9" fill="#f4eef7"/>
<rect x="2373.2" y="238.1" width="66.1" height="34.9" fill="#f5eff8"/>
<rect x="2439.0" y="238.1" width="66.0" height="34.9" fill="#f8f3fa"/>
<rect x="2504.7" y="238.1" width="66.0" height="34.9" fill="#faf8fc"/>
<rect x="2570.4" y="238.1" width="66.0" height="34.9" fill="#f6f1f8"/>
<rect x="2636.1" y="238.1" width="66.0" height="34.9" fill="#faf8fc"/>
<rect x="2701.8" y="238.1" width="66.0" height="34.9" fill="#fefdfe"/>
<rect x="2307.6" y="272.7" width="65.9" height="34.9" fill="#f9f5fb"/>
<rect x="2373.2" y="272.7" width="66.1" height="34.9" fill="#f8f4fa"/>
<rect x="2439.0" y="272.7" width="66.0" height="34.9" fill="#f0e7f4"/>
<rect x="2504.7" y="272.7" width="66.0" height="34.9" fill="#fefdfe"/>
<rect x="2570.4" y="272.7" width="66.0" height="34.9" fill="#fefdfe"/>
<rect x="2636.1" y="272.7" width="66.0" height="34.9" fill="#faf7fb"/>
<rect x="2701.8" y="272.7" width="66.0" height="34.9" fill="#f8f3fa"/>
<rect x="2307.6" y="307.3" width="65.9" height="34.8" fill="#f2e9f5"/>
<rect x="2373.2" y="307.3" width="66.1" height="34.8" fill="#fefdfe"/>
<rect x="2439.0" y="307.3" width="66.0" height="34.8" fill="#fefdfe"/>
<rect x="2504.7" y="307.3" width="66.0" height="34.8" fill="#FFFFFF"/>
<rect x="2570.4" y="307.3" width="66.0" height="34.8" fill="#FFFFFF"/>
<rect x="2636.1" y="307.3" width="66.0" height="34.8" fill="#FFFFFF"/>
<rect x="2701.8" y="307.3" width="66.0" height="34.8" fill="#FFFFFF"/>
<rect x="2307.6" y="341.8" width="65.9" height="34.9" fill="#f9f5fb"/>
<rect x="2373.2" y="341.8" width="66.1" height="34.9" fill="#fefdfe"/>
<rect x="2439.0" y="341.8" width="66.0" height="34.9" fill="#fefdfe"/>
<rect x="2504.7" y="341.8" width="66.0" height="34.9" fill="#faf8fc"/>
<rect x="2570.4" y="341.8" width="66.0" height="34.9" fill="#fdfbfd"/>
<rect x="2636.1" y="341.8" width="66.0" height="34.9" fill="#FFFFFF"/>
<rect x="2701.8" y="341.8" width="66.0" height="34.9" fill="#faf8fc"/>
<rect x="2307.6" y="376.4" width="65.9" height="34.9" fill="#f1e8f5"/>
<rect x="2373.2" y="376.4" width="66.1" height="34.9" fill="#f0e7f4"/>
<rect x="2439.0" y="376.4" width="66.0" height="34.9" fill="#f8f3fa"/>
<rect x="2504.7" y="376.4" width="66.0" height="34.9" fill="#faf7fb"/>
<rect x="2570.4" y="376.4" width="66.0" height="34.9" fill="#fefdfe"/>
<rect x="2636.1" y="376.4" width="66.0" height="34.9" fill="#faf8fc"/>
<rect x="2701.8" y="376.4" width="66.0" height="34.9" fill="#faf8fc"/>
<rect x="2307.6" y="411.0" width="65.9" height="34.9" fill="#f0e7f4"/>
<rect x="2373.2" y="411.0" width="66.1" height="34.9" fill="#FFFFFF"/>
<rect x="2439.0" y="411.0" width="66.0" height="34.9" fill="#FFFFFF"/>
<rect x="2504.7" y="411.0" width="66.0" height="34.9" fill="#e2d2eb"/>
<rect x="2570.4" y="411.0" width="66.0" height="34.9" fill="#FFFFFF"/>
<rect x="2636.1" y="411.0" width="66.0" height="34.9" fill="#f9f5fb"/>
<rect x="2701.8" y="411.0" width="66.0" height="34.9" fill="#FFFFFF"/>
<rect x="2307.6" y="445.6" width="65.9" height="34.9" fill="#f9f5fb"/>
<rect x="2373.2" y="445.6" width="66.1" height="34.9" fill="#FFFFFF"/>
<rect x="2439.0" y="445.6" width="66.0" height="34.9" fill="#fbf9fc"/>
<rect x="2504.7" y="445.6" width="66.0" height="34.9" fill="#FFFFFF"/>
<rect x="2570.4" y="445.6" width="66.0" height="34.9" fill="#fbf9fc"/>
<rect x="2636.1" y="445.6" width="66.0" height="34.9" fill="#FFFFFF"/>
<rect x="2701.8" y="445.6" width="66.0" height="34.9" fill="#fefdfe"/>
<rect x="2307.6" y="480.2" width="65.9" height="34.8" fill="#f0e7f4"/>
<rect x="2373.2" y="480.2" width="66.1" height="34.8" fill="#f0e7f4"/>
<rect x="2439.0" y="480.2" width="66.0" height="34.8" fill="#f6f1f8"/>
<rect x="2504.7" y="480.2" width="66.0" height="34.8" fill="#fbf9fc"/>
<rect x="2570.4" y="480.2" width="66.0" height="34.8" fill="#fbf9fc"/>
<rect x="2636.1" y="480.2" width="66.0" height="34.8" fill="#f6f1f8"/>
<rect x="2701.8" y="480.2" width="66.0" height="34.8" fill="#f3ecf6"/>
<rect x="2307.6" y="514.7" width="65.9" height="34.9" fill="#f3ecf6"/>
<rect x="2373.2" y="514.7" width="66.1" height="34.9" fill="#f1e8f5"/>
<rect x="2439.0" y="514.7" width="66.0" height="34.9" fill="#f1e8f5"/>
<rect x="2504.7" y="514.7" width="66.0" height="34.9" fill="#ebdff1"/>
<rect x="2570.4" y="514.7" width="66.0" height="34.9" fill="#f0e7f4"/>
<rect x="2636.1" y="514.7" width="66.0" height="34.9" fill="#f4edf7"/>
<rect x="2701.8" y="514.7" width="66.0" height="34.9" fill="#eee4f3"/>
<rect x="2307.6" y="549.3" width="65.9" height="34.9" fill="#f6f1f8"/>
<rect x="2373.2" y="549.3" width="66.1" height="34.9" fill="#fefdfe"/>
<rect x="2439.0" y="549.3" width="66.0" height="34.9" fill="#f6f1f8"/>
<rect x="2504.7" y="549.3" width="66.0" height="34.9" fill="#FFFFFF"/>
<rect x="2570.4" y="549.3" width="66.0" height="34.9" fill="#FFFFFF"/>
<rect x="2636.1" y="549.3" width="66.0" height="34.9" fill="#fefdfe"/>
<rect x="2701.8" y="549.3" width="66.0" height="34.9" fill="#fefdfe"/>
<rect x="2307.6" y="583.9" width="65.9" height="34.9" fill="#f0e7f4"/>
<rect x="2373.2" y="583.9" width="66.1" height="34.9" fill="#f0e7f4"/>
<rect x="2439.0" y="583.9" width="66.0" height="34.9" fill="#f6f1f8"/>
<rect x="2504.7" y="583.9" width="66.0" height="34.9" fill="#f5eff8"/>
<rect x="2570.4" y="583.9" width="66.0" height="34.9" fill="#f4edf7"/>
<rect x="2636.1" y="583.9" width="66.0" height="34.9" fill="#f5eff8"/>
<rect x="2701.8" y="583.9" width="66.0" height="34.9" fill="#f8f4fa"/>
<rect x="2307.6" y="618.5" width="65.9" height="34.9" fill="#f4eef7"/>
<rect x="2373.2" y="618.5" width="66.1" height="34.9" fill="#fbf9fc"/>
<rect x="2439.0" y="618.5" width="66.0" height="34.9" fill="#f0e7f4"/>
<rect x="2504.7" y="618.5" width="66.0" height="34.9" fill="#e9ddf0"/>
<rect x="2570.4" y="618.5" width="66.0" height="34.9" fill="#f0e7f4"/>
<rect x="2636.1" y="618.5" width="66.0" height="34.9" fill="#f0e7f4"/>
<rect x="2701.8" y="618.5" width="66.0" height="34.9" fill="#ede2f2"/>
<rect x="2307.6" y="653.1" width="65.9" height="34.9" fill="#f0e7f4"/>
<rect x="2373.2" y="653.1" width="66.1" height="34.9" fill="#f6f1f8"/>
<rect x="2439.0" y="653.1" width="66.0" height="34.9" fill="#f0e7f4"/>
<rect x="2504.7" y="653.1" width="66.0" height="34.9" fill="#f9f5fb"/>
<rect x="2570.4" y="653.1" width="66.0" height="34.9" fill="#f9f5fb"/>
<rect x="2636.1" y="653.1" width="66.0" height="34.9" fill="#f9f5fb"/>
<rect x="2701.8" y="653.1" width="66.0" height="34.9" fill="#f4eef7"/>
<rect x="2307.6" y="687.7" width="65.9" height="34.8" fill="#f6f1f8"/>
<rect x="2373.2" y="687.7" width="66.1" height="34.8" fill="#f6f1f8"/>
<rect x="2439.0" y="687.7" width="66.0" height="34.8" fill="#f8f4fa"/>
<rect x="2504.7" y="687.7" width="66.0" height="34.8" fill="#f8f4fa"/>
<rect x="2570.4" y="687.7" width="66.0" height="34.8" fill="#fefdfe"/>
<rect x="2636.1" y="687.7" width="66.0" height="34.8" fill="#fefdfe"/>
<rect x="2701.8" y="687.7" width="66.0" height="34.8" fill="#fefdfe"/>
<rect x="2307.6" y="722.2" width="65.9" height="34.9" fill="#f5eff8"/>
<rect x="2373.2" y="722.2" width="66.1" height="34.9" fill="#f8f4fa"/>
<rect x="2439.0" y="722.2" width="66.0" height="34.9" fill="#fefdfe"/>
<rect x="2504.7" y="722.2" width="66.0" height="34.9" fill="#fefdfe"/>
<rect x="2570.4" y="722.2" width="66.0" height="34.9" fill="#fefdfe"/>
<rect x="2636.1" y="722.2" width="66.0" height="34.9" fill="#fefdfe"/>
<rect x="2701.8" y="722.2" width="66.0" height="34.9" fill="#fefdfe"/>
<rect x="2307.6" y="756.8" width="65.9" height="34.9" fill="#fcfafd"/>
<rect x="2373.2" y="756.8" width="66.1" height="34.9" fill="#f6f1f8"/>
<rect x="2439.0" y="756.8" width="66.0" height="34.9" fill="#fefdfe"/>
<rect x="2504.7" y="756.8" width="66.0" height="34.9" fill="#fefdfe"/>
<rect x="2570.4" y="756.8" width="66.0" height="34.9" fill="#fbf9fc"/>
<rect x="2636.1" y="756.8" width="66.0" height="34.9" fill="#f0e7f4"/>
<rect x="2701.8" y="756.8" width="66.0" height="34.9" fill="#fbf9fc"/>
<rect x="2307.6" y="791.4" width="65.9" height="34.9" fill="#f0e7f4"/>
<rect x="2373.2" y="791.4" width="66.1" height="34.9" fill="#e8daee"/>
<rect x="2439.0" y="791.4" width="66.0" height="34.9" fill="#f0e7f4"/>
<rect x="2504.7" y="791.4" width="66.0" height="34.9" fill="#f0e7f4"/>
<rect x="2570.4" y="791.4" width="66.0" height="34.9" fill="#f4eef7"/>
<rect x="2636.1" y="791.4" width="66.0" height="34.9" fill="#f0e7f4"/>
<rect x="2701.8" y="791.4" width="66.0" height="34.9" fill="#fbf9fc"/>
<rect x="2307.6" y="826.0" width="65.9" height="34.9" fill="#f2e9f5"/>
<rect x="2373.2" y="826.0" width="66.1" height="34.9" fill="#f9f5fb"/>
<rect x="2439.0" y="826.0" width="66.0" height="34.9" fill="#f6f1f8"/>
<rect x="2504.7" y="826.0" width="66.0" height="34.9" fill="#fefefe"/>
<rect x="2570.4" y="826.0" width="66.0" height="34.9" fill="#f6f1f8"/>
<rect x="2636.1" y="826.0" width="66.0" height="34.9" fill="#faf8fc"/>
<rect x="2701.8" y="826.0" width="66.0" height="34.9" fill="#f5eff8"/>
<rect x="2307.6" y="860.6" width="65.9" height="34.8" fill="#e8daee"/>
<rect x="2373.2" y="860.6" width="66.1" height="34.8" fill="#f0e7f4"/>
<rect x="2439.0" y="860.6" width="66.0" height="34.8" fill="#f6f1f8"/>
<rect x="2504.7" y="860.6" width="66.0" height="34.8" fill="#f6f1f8"/>
<rect x="2570.4" y="860.6" width="66.0" height="34.8" fill="#fbf9fc"/>
<rect x="2636.1" y="860.6" width="66.0" height="34.8" fill="#f8f4fa"/>
<rect x="2701.8" y="860.6" width="66.0" height="34.8" fill="#fbf9fc"/>
<rect x="2307.6" y="895.1" width="65.9" height="34.9" fill="#f0e7f4"/>
<rect x="2373.2" y="895.1" width="66.1" height="34.9" fill="#f6f1f8"/>
<rect x="2439.0" y="895.1" width="66.0" height="34.9" fill="#f8f4fa"/>
<rect x="2504.7" y="895.1" width="66.0" height="34.9" fill="#fefdfe"/>
<rect x="2570.4" y="895.1" width="66.0" height="34.9" fill="#fbf9fc"/>
<rect x="2636.1" y="895.1" width="66.0" height="34.9" fill="#fefdfe"/>
<rect x="2701.8" y="895.1" width="66.0" height="34.9" fill="#fbf9fc"/>
<rect x="2307.6" y="929.7" width="65.9" height="34.9" fill="#f9f5fb"/>
<rect x="2373.2" y="929.7" width="66.1" height="34.9" fill="#fbf9fc"/>
<rect x="2439.0" y="929.7" width="66.0" height="34.9" fill="#fbf9fc"/>
<rect x="2504.7" y="929.7" width="66.0" height="34.9" fill="#fefdfe"/>
<rect x="2570.4" y="929.7" width="66.0" height="34.9" fill="#fefdfe"/>
<rect x="2636.1" y="929.7" width="66.0" height="34.9" fill="#fefdfe"/>
<rect x="2701.8" y="929.7" width="66.0" height="34.9" fill="#fbf9fc"/>
<rect x="2307.6" y="964.3" width="65.9" height="34.9" fill="#f2e9f5"/>
<rect x="2373.2" y="964.3" width="66.1" height="34.9" fill="#f9f5fb"/>
<rect x="2439.0" y="964.3" width="66.0" height="34.9" fill="#fefdfe"/>
<rect x="2504.7" y="964.3" width="66.0" height="34.9" fill="#f8f4fa"/>
<rect x="2570.4" y="964.3" width="66.0" height="34.9" fill="#f8f4fa"/>
<rect x="2636.1" y="964.3" width="66.0" height="34.9" fill="#faf7fb"/>
<rect x="2701.8" y="964.3" width="66.0" height="34.9" fill="#f8f4fa"/>
<rect x="2307.6" y="998.9" width="65.9" height="34.9" fill="#f6f1f8"/>
<rect x="2373.2" y="998.9" width="66.1" height="34.9" fill="#f6f1f8"/>
<rect x="2439.0" y="998.9" width="66.0" height="34.9" fill="#fbf9fc"/>
<rect x="2504.7" y="998.9" width="66.0" height="34.9" fill="#fbf9fc"/>
<rect x="2570.4" y="998.9" width="66.0" height="34.9" fill="#fbf9fc"/>
<rect x="2636.1" y="998.9" width="66.0" height="34.9" fill="#f6f1f8"/>
<rect x="2701.8" y="998.9" width="66.0" height="34.9" fill="#fbf9fc"/>
<rect x="2307.6" y="1033.5" width="65.9" height="34.8" fill="#f6f1f8"/>
<rect x="2373.2" y="1033.5" width="66.1" height="34.8" fill="#fefefe"/>
<rect x="2439.0" y="1033.5" width="66.0" height="34.8" fill="#fefefe"/>
<rect x="2504.7" y="1033.5" width="66.0" height="34.8" fill="#FFFFFF"/>
<rect x="2570.4" y="1033.5" width="66.0" height="34.8" fill="#FFFFFF"/>
<rect x="2636.1" y="1033.5" width="66.0" height="34.8" fill="#FFFFFF"/>
<rect x="2701.8" y="1033.5" width="66.0" height="34.8" fill="#fefefe"/>
<rect x="2307.6" y="1068.0" width="65.9" height="34.9" fill="#dfcde9"/>
<rect x="2373.2" y="1068.0" width="66.1" height="34.9" fill="#ebdff1"/>
<rect x="2439.0" y="1068.0" width="66.0" height="34.9" fill="#ebdff1"/>
<rect x="2504.7" y="1068.0" width="66.0" height="34.9" fill="#f0e7f4"/>
<rect x="2570.4" y="1068.0" width="66.0" height="34.9" fill="#f0e7f4"/>
<rect x="2636.1" y="1068.0" width="66.0" height="34.9" fill="#eee4f3"/>
<rect x="2701.8" y="1068.0" width="66.0" height="34.9" fill="#ece0f1"/>
<rect x="2307.6" y="1102.6" width="65.9" height="34.9" fill="#f7f2f9"/>
<rect x="2373.2" y="1102.6" width="66.1" height="34.9" fill="#f0e7f4"/>
<rect x="2439.0" y="1102.6" width="66.0" height="34.9" fill="#f1e8f5"/>
<rect x="2504.7" y="1102.6" width="66.0" height="34.9" fill="#fcfafd"/>
<rect x="2570.4" y="1102.6" width="66.0" height="34.9" fill="#fcfafd"/>
<rect x="2636.1" y="1102.6" width="66.0" height="34.9" fill="#fcfafd"/>
<rect x="2701.8" y="1102.6" width="66.0" height="34.9" fill="#f7f2f9"/>
<rect x="2279.9" y="81.0" width="5.1" height="3" fill="#333333"/>
<text x="2267.5" y="90.2" font-size="30.78" text-anchor="end" fill="#45474e" textLength="117.5" lengthAdjust="spacingAndGlyphs">Zhejiang</text>
<rect x="2279.9" y="115.6" width="5.1" height="3" fill="#333333"/>
<text x="2267.5" y="124.8" font-size="30.78" text-anchor="end" fill="#45474e" textLength="104.9" lengthAdjust="spacingAndGlyphs">Yunnan</text>
<rect x="2279.9" y="150.2" width="5.1" height="3" fill="#333333"/>
<text x="2267.5" y="159.4" font-size="30.78" text-anchor="end" fill="#45474e" textLength="110.0" lengthAdjust="spacingAndGlyphs">Xinjiang</text>
<rect x="2279.9" y="184.7" width="5.1" height="3" fill="#333333"/>
<text x="2267.5" y="193.9" font-size="30.78" text-anchor="end" fill="#45474e" textLength="71.0" lengthAdjust="spacingAndGlyphs">Tibet</text>
<rect x="2279.9" y="219.3" width="5.1" height="3" fill="#333333"/>
<text x="2267.5" y="228.5" font-size="30.78" text-anchor="end" fill="#45474e" textLength="92.9" lengthAdjust="spacingAndGlyphs">Tianjin</text>
<rect x="2279.9" y="253.9" width="5.1" height="3" fill="#333333"/>
<text x="2267.5" y="263.1" font-size="30.78" text-anchor="end" fill="#45474e" textLength="108.3" lengthAdjust="spacingAndGlyphs">Sichuan</text>
<rect x="2279.9" y="288.5" width="5.1" height="3" fill="#333333"/>
<text x="2267.5" y="297.7" font-size="30.78" text-anchor="end" fill="#45474e" textLength="90.7" lengthAdjust="spacingAndGlyphs">Shanxi</text>
<rect x="2279.9" y="323.1" width="5.1" height="3" fill="#333333"/>
<text x="2267.5" y="332.3" font-size="30.78" text-anchor="end" fill="#45474e" textLength="126.3" lengthAdjust="spacingAndGlyphs">Shanghai</text>
<rect x="2279.9" y="357.6" width="5.1" height="3" fill="#333333"/>
<text x="2267.5" y="366.8" font-size="30.78" text-anchor="end" fill="#45474e" textLength="138.1" lengthAdjust="spacingAndGlyphs">Shandong</text>
<rect x="2279.9" y="392.2" width="5.1" height="3" fill="#333333"/>
<text x="2267.5" y="401.4" font-size="30.78" text-anchor="end" fill="#45474e" textLength="107.1" lengthAdjust="spacingAndGlyphs">Shaanxi</text>
<rect x="2279.9" y="426.8" width="5.1" height="3" fill="#333333"/>
<text x="2267.5" y="436.0" font-size="30.78" text-anchor="end" fill="#45474e" textLength="107.1" lengthAdjust="spacingAndGlyphs">Qinghai</text>
<rect x="2279.9" y="461.4" width="5.1" height="3" fill="#333333"/>
<text x="2267.5" y="470.6" font-size="30.78" text-anchor="end" fill="#45474e" textLength="103.0" lengthAdjust="spacingAndGlyphs">Ningxia</text>
<rect x="2279.9" y="496.0" width="5.1" height="3" fill="#333333"/>
<text x="2267.5" y="505.2" font-size="30.78" text-anchor="end" fill="#45474e" textLength="116.5" lengthAdjust="spacingAndGlyphs">Liaoning</text>
<rect x="2279.9" y="530.5" width="5.1" height="3" fill="#333333"/>
<text x="2267.5" y="539.7" font-size="30.78" text-anchor="end" fill="#45474e" textLength="52.4" lengthAdjust="spacingAndGlyphs">Jilin</text>
<rect x="2279.9" y="565.1" width="5.1" height="3" fill="#333333"/>
<text x="2267.5" y="574.3" font-size="30.78" text-anchor="end" fill="#45474e" textLength="91.9" lengthAdjust="spacingAndGlyphs">Jiangxi</text>
<rect x="2279.9" y="599.7" width="5.1" height="3" fill="#333333"/>
<text x="2267.5" y="608.9" font-size="30.78" text-anchor="end" fill="#45474e" textLength="100.5" lengthAdjust="spacingAndGlyphs">Jiangsu</text>
<rect x="2279.9" y="634.3" width="5.1" height="3" fill="#333333"/>
<text x="2267.5" y="643.5" font-size="30.78" text-anchor="end" fill="#45474e" textLength="212.7" lengthAdjust="spacingAndGlyphs">Inner Mongolia</text>
<rect x="2279.9" y="668.9" width="5.1" height="3" fill="#333333"/>
<text x="2267.5" y="678.1" font-size="30.78" text-anchor="end" fill="#45474e" textLength="91.6" lengthAdjust="spacingAndGlyphs">Hunan</text>
<rect x="2279.9" y="703.4" width="5.1" height="3" fill="#333333"/>
<text x="2267.5" y="712.6" font-size="30.78" text-anchor="end" fill="#45474e" textLength="82.1" lengthAdjust="spacingAndGlyphs">Hubei</text>
<rect x="2279.9" y="738.0" width="5.1" height="3" fill="#333333"/>
<text x="2267.5" y="747.2" font-size="30.78" text-anchor="end" fill="#45474e" textLength="90.6" lengthAdjust="spacingAndGlyphs">Henan</text>
<rect x="2279.9" y="772.6" width="5.1" height="3" fill="#333333"/>
<text x="2267.5" y="781.8" font-size="30.78" text-anchor="end" fill="#45474e" textLength="172.6" lengthAdjust="spacingAndGlyphs">Heilongjiang</text>
<rect x="2279.9" y="807.2" width="5.1" height="3" fill="#333333"/>
<text x="2267.5" y="816.4" font-size="30.78" text-anchor="end" fill="#45474e" textLength="81.2" lengthAdjust="spacingAndGlyphs">Hebei</text>
<rect x="2279.9" y="841.8" width="5.1" height="3" fill="#333333"/>
<text x="2267.5" y="851.0" font-size="30.78" text-anchor="end" fill="#45474e" textLength="97.9" lengthAdjust="spacingAndGlyphs">Hainan</text>
<rect x="2279.9" y="876.3" width="5.1" height="3" fill="#333333"/>
<text x="2267.5" y="885.5" font-size="30.78" text-anchor="end" fill="#45474e" textLength="114.9" lengthAdjust="spacingAndGlyphs">Guizhou</text>
<rect x="2279.9" y="910.9" width="5.1" height="3" fill="#333333"/>
<text x="2267.5" y="920.1" font-size="30.78" text-anchor="end" fill="#45474e" textLength="112.7" lengthAdjust="spacingAndGlyphs">Guangxi</text>
<rect x="2279.9" y="945.5" width="5.1" height="3" fill="#333333"/>
<text x="2267.5" y="954.7" font-size="30.78" text-anchor="end" fill="#45474e" textLength="160.1" lengthAdjust="spacingAndGlyphs">Guangdong</text>
<rect x="2279.9" y="980.1" width="5.1" height="3" fill="#333333"/>
<text x="2267.5" y="989.3" font-size="30.78" text-anchor="end" fill="#45474e" textLength="87.3" lengthAdjust="spacingAndGlyphs">Gansu</text>
<rect x="2279.9" y="1014.7" width="5.1" height="3" fill="#333333"/>
<text x="2267.5" y="1023.9" font-size="30.78" text-anchor="end" fill="#45474e" textLength="84.1" lengthAdjust="spacingAndGlyphs">Fujian</text>
<rect x="2279.9" y="1049.2" width="5.1" height="3" fill="#333333"/>
<text x="2267.5" y="1058.4" font-size="30.78" text-anchor="end" fill="#45474e" textLength="148.2" lengthAdjust="spacingAndGlyphs">Chongqing</text>
<rect x="2279.9" y="1083.8" width="5.1" height="3" fill="#333333"/>
<text x="2267.5" y="1093.0" font-size="30.78" text-anchor="end" fill="#45474e" textLength="93.6" lengthAdjust="spacingAndGlyphs">Beijing</text>
<rect x="2279.9" y="1118.4" width="5.1" height="3" fill="#333333"/>
<text x="2267.5" y="1127.6" font-size="30.78" text-anchor="end" fill="#45474e" textLength="81.5" lengthAdjust="spacingAndGlyphs">Anhui</text>
<rect x="2339.1" y="1141" width="2.6" height="10" fill="#333333"/>
<text x="2340.4" y="1185.2" font-size="30.78" text-anchor="middle" fill="#45474e" textLength="69.3" lengthAdjust="spacingAndGlyphs">2016</text>
<rect x="2404.8" y="1141" width="2.6" height="10" fill="#333333"/>
<rect x="2470.5" y="1141" width="2.6" height="10" fill="#333333"/>
<text x="2471.8" y="1185.2" font-size="30.78" text-anchor="middle" fill="#45474e" textLength="69.3" lengthAdjust="spacingAndGlyphs">2018</text>
<rect x="2536.2" y="1141" width="2.6" height="10" fill="#333333"/>
<rect x="2601.9" y="1141" width="2.6" height="10" fill="#333333"/>
<text x="2603.2" y="1185.2" font-size="30.78" text-anchor="middle" fill="#45474e" textLength="69.3" lengthAdjust="spacingAndGlyphs">2020</text>
<rect x="2667.6" y="1141" width="2.6" height="10" fill="#333333"/>
<rect x="2733.3" y="1141" width="2.6" height="10" fill="#333333"/>
<text x="2734.6" y="1185.2" font-size="30.78" text-anchor="middle" fill="#45474e" textLength="69.3" lengthAdjust="spacingAndGlyphs">2022</text>
<rect x="2285" y="1208.7" width="505" height="60.899999999999864" fill="#D0D0D0"/>
<text x="2536.6" y="1249.8" font-size="37.44" text-anchor="middle" fill="#1a1a1a" textLength="371.0" lengthAdjust="spacingAndGlyphs">Enterococcus faecium</text>
<rect x="2285" y="1269.6" width="505" height="1080" fill="#E6E5E4"/>
<rect x="2285" y="1288.3" width="505" height="4" fill="#fff"/>
<rect x="2285" y="1322.9" width="505" height="4" fill="#fff"/>
<rect x="2285" y="1357.5" width="505" height="4" fill="#fff"/>
<rect x="2285" y="1392.1" width="505" height="4" fill="#fff"/>
<rect x="2285" y="1426.8" width="505" height="4" fill="#fff"/>
<rect x="2285" y="1461.4" width="505" height="4" fill="#fff"/>
<rect x="2285" y="1496.0" width="505" height="4" fill="#fff"/>
<rect x="2285" y="1530.6" width="505" height="4" fill="#fff"/>
<rect x="2285" y="1565.2" width="505" height="4" fill="#fff"/>
<rect x="2285" y="1599.8" width="505" height="4" fill="#fff"/>
<rect x="2285" y="1634.4" width="505" height="4" fill="#fff"/>
<rect x="2285" y="1669.0" width="505" height="4" fill="#fff"/>
<rect x="2285" y="1703.7" width="505" height="4" fill="#fff"/>
<rect x="2285" y="1738.3" width="505" height="4" fill="#fff"/>
<rect x="2285" y="1772.9" width="505" height="4" fill="#fff"/>
<rect x="2285" y="1807.5" width="505" height="4" fill="#fff"/>
<rect x="2285" y="1842.1" width="505" height="4" fill="#fff"/>
<rect x="2285" y="1876.7" width="505" height="4" fill="#fff"/>
<rect x="2285" y="1911.3" width="505" height="4" fill="#fff"/>
<rect x="2285" y="1946.0" width="505" height="4" fill="#fff"/>
<rect x="2285" y="1980.6" width="505" height="4" fill="#fff"/>
<rect x="2285" y="2015.2" width="505" height="4" fill="#fff"/>
<rect x="2285" y="2049.8" width="505" height="4" fill="#fff"/>
<rect x="2285" y="2084.4" width="505" height="4" fill="#fff"/>
<rect x="2285" y="2119.0" width="505" height="4" fill="#fff"/>
<rect x="2285" y="2153.6" width="505" height="4" fill="#fff"/>
<rect x="2285" y="2188.2" width="505" height="4" fill="#fff"/>
<rect x="2285" y="2222.9" width="505" height="4" fill="#fff"/>
<rect x="2285" y="2257.5" width="505" height="4" fill="#fff"/>
<rect x="2285" y="2292.1" width="505" height="4" fill="#fff"/>
<rect x="2285" y="2326.7" width="505" height="4" fill="#fff"/>
<rect x="2338.4" y="1269.6" width="4" height="1080" fill="#fff"/>
<rect x="2404.1" y="1269.6" width="4" height="1080" fill="#fff"/>
<rect x="2469.8" y="1269.6" width="4" height="1080" fill="#fff"/>
<rect x="2535.5" y="1269.6" width="4" height="1080" fill="#fff"/>
<rect x="2601.2" y="1269.6" width="4" height="1080" fill="#fff"/>
<rect x="2666.9" y="1269.6" width="4" height="1080" fill="#fff"/>
<rect x="2732.6" y="1269.6" width="4" height="1080" fill="#fff"/>
<rect x="2306.6" y="1269.6" width="2" height="1080" fill="#fff"/>
<rect x="2372.2" y="1269.6" width="2" height="1080" fill="#fff"/>
<rect x="2438.0" y="1269.6" width="2" height="1080" fill="#fff"/>
<rect x="2503.7" y="1269.6" width="2" height="1080" fill="#fff"/>
<rect x="2569.4" y="1269.6" width="2" height="1080" fill="#fff"/>
<rect x="2635.1" y="1269.6" width="2" height="1080" fill="#fff"/>
<rect x="2700.8" y="1269.6" width="2" height="1080" fill="#fff"/>
<rect x="2766.5" y="1269.6" width="2" height="1080" fill="#fff"/>
<rect x="2307.6" y="1273.0" width="65.9" height="34.9" fill="#e9ddf0"/>
<rect x="2373.2" y="1273.0" width="66.1" height="34.9" fill="#f2e9f5"/>
<rect x="2439.0" y="1273.0" width="66.0" height="34.9" fill="#f6f1f8"/>
<rect x="2504.7" y="1273.0" width="66.0" height="34.9" fill="#fcfafd"/>
<rect x="2570.4" y="1273.0" width="66.0" height="34.9" fill="#fcfafd"/>
<rect x="2636.1" y="1273.0" width="66.0" height="34.9" fill="#fcfafd"/>
<rect x="2701.8" y="1273.0" width="66.0" height="34.9" fill="#fcfafd"/>
<rect x="2307.6" y="1307.6" width="65.9" height="34.9" fill="#e6d7ed"/>
<rect x="2373.2" y="1307.6" width="66.1" height="34.9" fill="#e9ddf0"/>
<rect x="2439.0" y="1307.6" width="66.0" height="34.9" fill="#faf7fb"/>
<rect x="2504.7" y="1307.6" width="66.0" height="34.9" fill="#fefefe"/>
<rect x="2570.4" y="1307.6" width="66.0" height="34.9" fill="#fefefe"/>
<rect x="2636.1" y="1307.6" width="66.0" height="34.9" fill="#faf7fb"/>
<rect x="2701.8" y="1307.6" width="66.0" height="34.9" fill="#faf7fb"/>
<rect x="2307.6" y="1342.2" width="65.9" height="34.9" fill="#c6aedb"/>
<rect x="2373.2" y="1342.2" width="66.1" height="34.9" fill="#dfcde9"/>
<rect x="2439.0" y="1342.2" width="66.0" height="34.9" fill="#e4d5ec"/>
<rect x="2504.7" y="1342.2" width="66.0" height="34.9" fill="#eee4f3"/>
<rect x="2570.4" y="1342.2" width="66.0" height="34.9" fill="#e1d0ea"/>
<rect x="2636.1" y="1342.2" width="66.0" height="34.9" fill="#eee4f3"/>
<rect x="2701.8" y="1342.2" width="66.0" height="34.9" fill="#faf7fb"/>
<rect x="2307.6" y="1376.8" width="65.9" height="35.0" fill="#767A82"/>
<rect x="2373.2" y="1376.8" width="66.1" height="35.0" fill="#767A82"/>
<rect x="2439.0" y="1376.8" width="66.0" height="35.0" fill="#FFFFFF"/>
<rect x="2504.7" y="1376.8" width="66.0" height="35.0" fill="#FFFFFF"/>
<rect x="2570.4" y="1376.8" width="66.0" height="35.0" fill="#FFFFFF"/>
<rect x="2636.1" y="1376.8" width="66.0" height="35.0" fill="#e8daee"/>
<rect x="2701.8" y="1376.8" width="66.0" height="35.0" fill="#f2e9f5"/>
<rect x="2307.6" y="1411.5" width="65.9" height="34.9" fill="#e2d2eb"/>
<rect x="2373.2" y="1411.5" width="66.1" height="34.9" fill="#e9ddf0"/>
<rect x="2439.0" y="1411.5" width="66.0" height="34.9" fill="#e9ddf0"/>
<rect x="2504.7" y="1411.5" width="66.0" height="34.9" fill="#eadef0"/>
<rect x="2570.4" y="1411.5" width="66.0" height="34.9" fill="#f7f2f9"/>
<rect x="2636.1" y="1411.5" width="66.0" height="34.9" fill="#f3ecf6"/>
<rect x="2701.8" y="1411.5" width="66.0" height="34.9" fill="#f2e9f5"/>
<rect x="2307.6" y="1446.1" width="65.9" height="34.9" fill="#b196d1"/>
<rect x="2373.2" y="1446.1" width="66.1" height="34.9" fill="#dbc8e7"/>
<rect x="2439.0" y="1446.1" width="66.0" height="34.9" fill="#e4d5ec"/>
<rect x="2504.7" y="1446.1" width="66.0" height="34.9" fill="#e8daee"/>
<rect x="2570.4" y="1446.1" width="66.0" height="34.9" fill="#f0e7f4"/>
<rect x="2636.1" y="1446.1" width="66.0" height="34.9" fill="#f5eff8"/>
<rect x="2701.8" y="1446.1" width="66.0" height="34.9" fill="#f2e9f5"/>
<rect x="2307.6" y="1480.7" width="65.9" height="34.9" fill="#f3ecf6"/>
<rect x="2373.2" y="1480.7" width="66.1" height="34.9" fill="#ede2f2"/>
<rect x="2439.0" y="1480.7" width="66.0" height="34.9" fill="#f7f2f9"/>
<rect x="2504.7" y="1480.7" width="66.0" height="34.9" fill="#fcfafd"/>
<rect x="2570.4" y="1480.7" width="66.0" height="34.9" fill="#fcfafd"/>
<rect x="2636.1" y="1480.7" width="66.0" height="34.9" fill="#f2e9f5"/>
<rect x="2701.8" y="1480.7" width="66.0" height="34.9" fill="#faf7fb"/>
<rect x="2307.6" y="1515.3" width="65.9" height="34.9" fill="#ede2f2"/>
<rect x="2373.2" y="1515.3" width="66.1" height="34.9" fill="#ede2f2"/>
<rect x="2439.0" y="1515.3" width="66.0" height="34.9" fill="#e8daee"/>
<rect x="2504.7" y="1515.3" width="66.0" height="34.9" fill="#fdfbfd"/>
<rect x="2570.4" y="1515.3" width="66.0" height="34.9" fill="#faf7fb"/>
<rect x="2636.1" y="1515.3" width="66.0" height="34.9" fill="#fefefe"/>
<rect x="2701.8" y="1515.3" width="66.0" height="34.9" fill="#fdfbfd"/>
<rect x="2307.6" y="1549.9" width="65.9" height="34.9" fill="#e9ddf0"/>
<rect x="2373.2" y="1549.9" width="66.1" height="34.9" fill="#e4d5ec"/>
<rect x="2439.0" y="1549.9" width="66.0" height="34.9" fill="#e8daee"/>
<rect x="2504.7" y="1549.9" width="66.0" height="34.9" fill="#ede2f2"/>
<rect x="2570.4" y="1549.9" width="66.0" height="34.9" fill="#e9ddf0"/>
<rect x="2636.1" y="1549.9" width="66.0" height="34.9" fill="#f3ecf6"/>
<rect x="2701.8" y="1549.9" width="66.0" height="34.9" fill="#f0e7f4"/>
<rect x="2307.6" y="1584.5" width="65.9" height="34.9" fill="#d7c2e4"/>
<rect x="2373.2" y="1584.5" width="66.1" height="34.9" fill="#eee4f3"/>
<rect x="2439.0" y="1584.5" width="66.0" height="34.9" fill="#ede2f2"/>
<rect x="2504.7" y="1584.5" width="66.0" height="34.9" fill="#f5eff8"/>
<rect x="2570.4" y="1584.5" width="66.0" height="34.9" fill="#f5eff8"/>
<rect x="2636.1" y="1584.5" width="66.0" height="34.9" fill="#f9f5fb"/>
<rect x="2701.8" y="1584.5" width="66.0" height="34.9" fill="#f8f3fa"/>
<rect x="2307.6" y="1619.1" width="65.9" height="34.9" fill="#fdfbfd"/>
<rect x="2373.2" y="1619.1" width="66.1" height="34.9" fill="#FFFFFF"/>
<rect x="2439.0" y="1619.1" width="66.0" height="34.9" fill="#f2ebf6"/>
<rect x="2504.7" y="1619.1" width="66.0" height="34.9" fill="#f7f2f9"/>
<rect x="2570.4" y="1619.1" width="66.0" height="34.9" fill="#FFFFFF"/>
<rect x="2636.1" y="1619.1" width="66.0" height="34.9" fill="#FFFFFF"/>
<rect x="2701.8" y="1619.1" width="66.0" height="34.9" fill="#FFFFFF"/>
<rect x="2307.6" y="1653.7" width="65.9" height="35.0" fill="#faf8fc"/>
<rect x="2373.2" y="1653.7" width="66.1" height="35.0" fill="#faf8fc"/>
<rect x="2439.0" y="1653.7" width="66.0" height="35.0" fill="#f1e8f5"/>
<rect x="2504.7" y="1653.7" width="66.0" height="35.0" fill="#FFFFFF"/>
<rect x="2570.4" y="1653.7" width="66.0" height="35.0" fill="#fefefe"/>
<rect x="2636.1" y="1653.7" width="66.0" height="35.0" fill="#FFFFFF"/>
<rect x="2701.8" y="1653.7" width="66.0" height="35.0" fill="#fefefe"/>
<rect x="2307.6" y="1688.4" width="65.9" height="34.9" fill="#d2bde2"/>
<rect x="2373.2" y="1688.4" width="66.1" height="34.9" fill="#dfcde9"/>
<rect x="2439.0" y="1688.4" width="66.0" height="34.9" fill="#e1d0ea"/>
<rect x="2504.7" y="1688.4" width="66.0" height="34.9" fill="#e9ddf0"/>
<rect x="2570.4" y="1688.4" width="66.0" height="34.9" fill="#e8daee"/>
<rect x="2636.1" y="1688.4" width="66.0" height="34.9" fill="#d7c2e4"/>
<rect x="2701.8" y="1688.4" width="66.0" height="34.9" fill="#d7c2e4"/>
<rect x="2307.6" y="1723.0" width="65.9" height="34.9" fill="#ddcae8"/>
<rect x="2373.2" y="1723.0" width="66.1" height="34.9" fill="#ede2f2"/>
<rect x="2439.0" y="1723.0" width="66.0" height="34.9" fill="#e1d0ea"/>
<rect x="2504.7" y="1723.0" width="66.0" height="34.9" fill="#f2e9f5"/>
<rect x="2570.4" y="1723.0" width="66.0" height="34.9" fill="#f8f3fa"/>
<rect x="2636.1" y="1723.0" width="66.0" height="34.9" fill="#dbc8e7"/>
<rect x="2701.8" y="1723.0" width="66.0" height="34.9" fill="#d2bde2"/>
<rect x="2307.6" y="1757.6" width="65.9" height="34.9" fill="#ddcae8"/>
<rect x="2373.2" y="1757.6" width="66.1" height="34.9" fill="#f6f1f8"/>
<rect x="2439.0" y="1757.6" width="66.0" height="34.9" fill="#ede2f2"/>
<rect x="2504.7" y="1757.6" width="66.0" height="34.9" fill="#fdfbfd"/>
<rect x="2570.4" y="1757.6" width="66.0" height="34.9" fill="#fdfbfd"/>
<rect x="2636.1" y="1757.6" width="66.0" height="34.9" fill="#fefefe"/>
<rect x="2701.8" y="1757.6" width="66.0" height="34.9" fill="#f3ecf6"/>
<rect x="2307.6" y="1792.2" width="65.9" height="34.9" fill="#ddcae8"/>
<rect x="2373.2" y="1792.2" width="66.1" height="34.9" fill="#e4d5ec"/>
<rect x="2439.0" y="1792.2" width="66.0" height="34.9" fill="#e4d5ec"/>
<rect x="2504.7" y="1792.2" width="66.0" height="34.9" fill="#e8daee"/>
<rect x="2570.4" y="1792.2" width="66.0" height="34.9" fill="#f2e9f5"/>
<rect x="2636.1" y="1792.2" width="66.0" height="34.9" fill="#ebdff1"/>
<rect x="2701.8" y="1792.2" width="66.0" height="34.9" fill="#f2e9f5"/>
<rect x="2307.6" y="1826.8" width="65.9" height="34.9" fill="#f6f1f8"/>
<rect x="2373.2" y="1826.8" width="66.1" height="34.9" fill="#f2ebf6"/>
<rect x="2439.0" y="1826.8" width="66.0" height="34.9" fill="#f2ebf6"/>
<rect x="2504.7" y="1826.8" width="66.0" height="34.9" fill="#f0e7f4"/>
<rect x="2570.4" y="1826.8" width="66.0" height="34.9" fill="#f0e7f4"/>
<rect x="2636.1" y="1826.8" width="66.0" height="34.9" fill="#e9ddf0"/>
<rect x="2701.8" y="1826.8" width="66.0" height="34.9" fill="#e6d7ed"/>
<rect x="2307.6" y="1861.4" width="65.9" height="34.9" fill="#eee4f3"/>
<rect x="2373.2" y="1861.4" width="66.1" height="34.9" fill="#f1e8f5"/>
<rect x="2439.0" y="1861.4" width="66.0" height="34.9" fill="#f6f1f8"/>
<rect x="2504.7" y="1861.4" width="66.0" height="34.9" fill="#f5eff8"/>
<rect x="2570.4" y="1861.4" width="66.0" height="34.9" fill="#faf8fc"/>
<rect x="2636.1" y="1861.4" width="66.0" height="34.9" fill="#f3ecf6"/>
<rect x="2701.8" y="1861.4" width="66.0" height="34.9" fill="#e1d0ea"/>
<rect x="2307.6" y="1896.0" width="65.9" height="34.9" fill="#f0e7f4"/>
<rect x="2373.2" y="1896.0" width="66.1" height="34.9" fill="#f2e9f5"/>
<rect x="2439.0" y="1896.0" width="66.0" height="34.9" fill="#f8f3fa"/>
<rect x="2504.7" y="1896.0" width="66.0" height="34.9" fill="#faf8fc"/>
<rect x="2570.4" y="1896.0" width="66.0" height="34.9" fill="#fcfafd"/>
<rect x="2636.1" y="1896.0" width="66.0" height="34.9" fill="#fcfafd"/>
<rect x="2701.8" y="1896.0" width="66.0" height="34.9" fill="#faf7fb"/>
<rect x="2307.6" y="1930.6" width="65.9" height="35.0" fill="#f0e7f4"/>
<rect x="2373.2" y="1930.6" width="66.1" height="35.0" fill="#faf8fc"/>
<rect x="2439.0" y="1930.6" width="66.0" height="35.0" fill="#fdfbfd"/>
<rect x="2504.7" y="1930.6" width="66.0" height="35.0" fill="#fefefe"/>
<rect x="2570.4" y="1930.6" width="66.0" height="35.0" fill="#fdfbfd"/>
<rect x="2636.1" y="1930.6" width="66.0" height="35.0" fill="#fdfbfd"/>
<rect x="2701.8" y="1930.6" width="66.0" height="35.0" fill="#fefefe"/>
<rect x="2307.6" y="1965.3" width="65.9" height="34.9" fill="#f0e7f4"/>
<rect x="2373.2" y="1965.3" width="66.1" height="34.9" fill="#faf8fc"/>
<rect x="2439.0" y="1965.3" width="66.0" height="34.9" fill="#f6f1f8"/>
<rect x="2504.7" y="1965.3" width="66.0" height="34.9" fill="#f8f3fa"/>
<rect x="2570.4" y="1965.3" width="66.0" height="34.9" fill="#ede2f2"/>
<rect x="2636.1" y="1965.3" width="66.0" height="34.9" fill="#f8f3fa"/>
<rect x="2701.8" y="1965.3" width="66.0" height="34.9" fill="#e6d7ed"/>
<rect x="2307.6" y="1999.9" width="65.9" height="34.9" fill="#d7c2e4"/>
<rect x="2373.2" y="1999.9" width="66.1" height="34.9" fill="#e8daee"/>
<rect x="2439.0" y="1999.9" width="66.0" height="34.9" fill="#e4d5ec"/>
<rect x="2504.7" y="1999.9" width="66.0" height="34.9" fill="#d7c2e4"/>
<rect x="2570.4" y="1999.9" width="66.0" height="34.9" fill="#e1d0ea"/>
<rect x="2636.1" y="1999.9" width="66.0" height="34.9" fill="#e2d2eb"/>
<rect x="2701.8" y="1999.9" width="66.0" height="34.9" fill="#d7c2e4"/>
<rect x="2307.6" y="2034.5" width="65.9" height="34.9" fill="#ebdff1"/>
<rect x="2373.2" y="2034.5" width="66.1" height="34.9" fill="#f8f3fa"/>
<rect x="2439.0" y="2034.5" width="66.0" height="34.9" fill="#f0e7f4"/>
<rect x="2504.7" y="2034.5" width="66.0" height="34.9" fill="#FFFFFF"/>
<rect x="2570.4" y="2034.5" width="66.0" height="34.9" fill="#fcfafd"/>
<rect x="2636.1" y="2034.5" width="66.0" height="34.9" fill="#f0e7f4"/>
<rect x="2701.8" y="2034.5" width="66.0" height="34.9" fill="#fefdfe"/>
<rect x="2307.6" y="2069.1" width="65.9" height="34.9" fill="#e8daee"/>
<rect x="2373.2" y="2069.1" width="66.1" height="34.9" fill="#ede2f2"/>
<rect x="2439.0" y="2069.1" width="66.0" height="34.9" fill="#ede2f2"/>
<rect x="2504.7" y="2069.1" width="66.0" height="34.9" fill="#faf7fb"/>
<rect x="2570.4" y="2069.1" width="66.0" height="34.9" fill="#faf7fb"/>
<rect x="2636.1" y="2069.1" width="66.0" height="34.9" fill="#fcfafd"/>
<rect x="2701.8" y="2069.1" width="66.0" height="34.9" fill="#fcfafd"/>
<rect x="2307.6" y="2103.7" width="65.9" height="34.9" fill="#e1d0ea"/>
<rect x="2373.2" y="2103.7" width="66.1" height="34.9" fill="#ebdff1"/>
<rect x="2439.0" y="2103.7" width="66.0" height="34.9" fill="#ede2f2"/>
<rect x="2504.7" y="2103.7" width="66.0" height="34.9" fill="#f6f1f8"/>
<rect x="2570.4" y="2103.7" width="66.0" height="34.9" fill="#f8f3fa"/>
<rect x="2636.1" y="2103.7" width="66.0" height="34.9" fill="#fefefe"/>
<rect x="2701.8" y="2103.7" width="66.0" height="34.9" fill="#f5eff8"/>
<rect x="2307.6" y="2138.3" width="65.9" height="34.9" fill="#e4d5ec"/>
<rect x="2373.2" y="2138.3" width="66.1" height="34.9" fill="#e8daee"/>
<rect x="2439.0" y="2138.3" width="66.0" height="34.9" fill="#e1d0ea"/>
<rect x="2504.7" y="2138.3" width="66.0" height="34.9" fill="#e8daee"/>
<rect x="2570.4" y="2138.3" width="66.0" height="34.9" fill="#f2e9f5"/>
<rect x="2636.1" y="2138.3" width="66.0" height="34.9" fill="#e4d5ec"/>
<rect x="2701.8" y="2138.3" width="66.0" height="34.9" fill="#6d5bb5"/>
<rect x="2307.6" y="2172.9" width="65.9" height="34.9" fill="#FFFFFF"/>
<rect x="2373.2" y="2172.9" width="66.1" height="34.9" fill="#fdfbfd"/>
<rect x="2439.0" y="2172.9" width="66.0" height="34.9" fill="#fefefe"/>
<rect x="2504.7" y="2172.9" width="66.0" height="34.9" fill="#f8f3fa"/>
<rect x="2570.4" y="2172.9" width="66.0" height="34.9" fill="#f9f5fb"/>
<rect x="2636.1" y="2172.9" width="66.0" height="34.9" fill="#f7f2f9"/>
<rect x="2701.8" y="2172.9" width="66.0" height="34.9" fill="#f9f5fb"/>
<rect x="2307.6" y="2207.5" width="65.9" height="35.0" fill="#f5eff8"/>
<rect x="2373.2" y="2207.5" width="66.1" height="35.0" fill="#f7f2f9"/>
<rect x="2439.0" y="2207.5" width="66.0" height="35.0" fill="#fcfafd"/>
<rect x="2504.7" y="2207.5" width="66.0" height="35.0" fill="#f7f2f9"/>
<rect x="2570.4" y="2207.5" width="66.0" height="35.0" fill="#f9f5fb"/>
<rect x="2636.1" y="2207.5" width="66.0" height="35.0" fill="#f9f5fb"/>
<rect x="2701.8" y="2207.5" width="66.0" height="35.0" fill="#ede2f2"/>
<rect x="2307.6" y="2242.2" width="65.9" height="34.9" fill="#e1d0ea"/>
<rect x="2373.2" y="2242.2" width="66.1" height="34.9" fill="#f3ecf6"/>
<rect x="2439.0" y="2242.2" width="66.0" height="34.9" fill="#f0e7f4"/>
<rect x="2504.7" y="2242.2" width="66.0" height="34.9" fill="#f8f3fa"/>
<rect x="2570.4" y="2242.2" width="66.0" height="34.9" fill="#f9f5fb"/>
<rect x="2636.1" y="2242.2" width="66.0" height="34.9" fill="#f8f3fa"/>
<rect x="2701.8" y="2242.2" width="66.0" height="34.9" fill="#faf7fb"/>
<rect x="2307.6" y="2276.8" width="65.9" height="34.9" fill="#5950ad"/>
<rect x="2373.2" y="2276.8" width="66.1" height="34.9" fill="#7e68bb"/>
<rect x="2439.0" y="2276.8" width="66.0" height="34.9" fill="#6d5bb5"/>
<rect x="2504.7" y="2276.8" width="66.0" height="34.9" fill="#705eb6"/>
<rect x="2570.4" y="2276.8" width="66.0" height="34.9" fill="#6355b1"/>
<rect x="2636.1" y="2276.8" width="66.0" height="34.9" fill="#5051ab"/>
<rect x="2701.8" y="2276.8" width="66.0" height="34.9" fill="#3552a5"/>
<rect x="2307.6" y="2311.4" width="65.9" height="34.9" fill="#e6d7ed"/>
<rect x="2373.2" y="2311.4" width="66.1" height="34.9" fill="#ede2f2"/>
<rect x="2439.0" y="2311.4" width="66.0" height="34.9" fill="#ddcae8"/>
<rect x="2504.7" y="2311.4" width="66.0" height="34.9" fill="#eee4f3"/>
<rect x="2570.4" y="2311.4" width="66.0" height="34.9" fill="#faf7fb"/>
<rect x="2636.1" y="2311.4" width="66.0" height="34.9" fill="#f9f5fb"/>
<rect x="2701.8" y="2311.4" width="66.0" height="34.9" fill="#faf7fb"/>
<rect x="2279.9" y="1288.8" width="5.1" height="3" fill="#333333"/>
<text x="2267.5" y="1298.0" font-size="30.78" text-anchor="end" fill="#45474e" textLength="117.5" lengthAdjust="spacingAndGlyphs">Zhejiang</text>
<rect x="2279.9" y="1323.4" width="5.1" height="3" fill="#333333"/>
<text x="2267.5" y="1332.6" font-size="30.78" text-anchor="end" fill="#45474e" textLength="104.9" lengthAdjust="spacingAndGlyphs">Yunnan</text>
<rect x="2279.9" y="1358.0" width="5.1" height="3" fill="#333333"/>
<text x="2267.5" y="1367.2" font-size="30.78" text-anchor="end" fill="#45474e" textLength="110.0" lengthAdjust="spacingAndGlyphs">Xinjiang</text>
<rect x="2279.9" y="1392.6" width="5.1" height="3" fill="#333333"/>
<text x="2267.5" y="1401.8" font-size="30.78" text-anchor="end" fill="#45474e" textLength="71.0" lengthAdjust="spacingAndGlyphs">Tibet</text>
<rect x="2279.9" y="1427.3" width="5.1" height="3" fill="#333333"/>
<text x="2267.5" y="1436.5" font-size="30.78" text-anchor="end" fill="#45474e" textLength="92.9" lengthAdjust="spacingAndGlyphs">Tianjin</text>
<rect x="2279.9" y="1461.9" width="5.1" height="3" fill="#333333"/>
<text x="2267.5" y="1471.1" font-size="30.78" text-anchor="end" fill="#45474e" textLength="108.3" lengthAdjust="spacingAndGlyphs">Sichuan</text>
<rect x="2279.9" y="1496.5" width="5.1" height="3" fill="#333333"/>
<text x="2267.5" y="1505.7" font-size="30.78" text-anchor="end" fill="#45474e" textLength="90.7" lengthAdjust="spacingAndGlyphs">Shanxi</text>
<rect x="2279.9" y="1531.1" width="5.1" height="3" fill="#333333"/>
<text x="2267.5" y="1540.3" font-size="30.78" text-anchor="end" fill="#45474e" textLength="126.3" lengthAdjust="spacingAndGlyphs">Shanghai</text>
<rect x="2279.9" y="1565.7" width="5.1" height="3" fill="#333333"/>
<text x="2267.5" y="1574.9" font-size="30.78" text-anchor="end" fill="#45474e" textLength="138.1" lengthAdjust="spacingAndGlyphs">Shandong</text>
<rect x="2279.9" y="1600.3" width="5.1" height="3" fill="#333333"/>
<text x="2267.5" y="1609.5" font-size="30.78" text-anchor="end" fill="#45474e" textLength="107.1" lengthAdjust="spacingAndGlyphs">Shaanxi</text>
<rect x="2279.9" y="1634.9" width="5.1" height="3" fill="#333333"/>
<text x="2267.5" y="1644.1" font-size="30.78" text-anchor="end" fill="#45474e" textLength="107.1" lengthAdjust="spacingAndGlyphs">Qinghai</text>
<rect x="2279.9" y="1669.5" width="5.1" height="3" fill="#333333"/>
<text x="2267.5" y="1678.7" font-size="30.78" text-anchor="end" fill="#45474e" textLength="103.0" lengthAdjust="spacingAndGlyphs">Ningxia</text>
<rect x="2279.9" y="1704.2" width="5.1" height="3" fill="#333333"/>
<text x="2267.5" y="1713.4" font-size="30.78" text-anchor="end" fill="#45474e" textLength="116.5" lengthAdjust="spacingAndGlyphs">Liaoning</text>
<rect x="2279.9" y="1738.8" width="5.1" height="3" fill="#333333"/>
<text x="2267.5" y="1748.0" font-size="30.78" text-anchor="end" fill="#45474e" textLength="52.4" lengthAdjust="spacingAndGlyphs">Jilin</text>
<rect x="2279.9" y="1773.4" width="5.1" height="3" fill="#333333"/>
<text x="2267.5" y="1782.6" font-size="30.78" text-anchor="end" fill="#45474e" textLength="91.9" lengthAdjust="spacingAndGlyphs">Jiangxi</text>
<rect x="2279.9" y="1808.0" width="5.1" height="3" fill="#333333"/>
<text x="2267.5" y="1817.2" font-size="30.78" text-anchor="end" fill="#45474e" textLength="100.5" lengthAdjust="spacingAndGlyphs">Jiangsu</text>
<rect x="2279.9" y="1842.6" width="5.1" height="3" fill="#333333"/>
<text x="2267.5" y="1851.8" font-size="30.78" text-anchor="end" fill="#45474e" textLength="212.7" lengthAdjust="spacingAndGlyphs">Inner Mongolia</text>
<rect x="2279.9" y="1877.2" width="5.1" height="3" fill="#333333"/>
<text x="2267.5" y="1886.4" font-size="30.78" text-anchor="end" fill="#45474e" textLength="91.6" lengthAdjust="spacingAndGlyphs">Hunan</text>
<rect x="2279.9" y="1911.8" width="5.1" height="3" fill="#333333"/>
<text x="2267.5" y="1921.0" font-size="30.78" text-anchor="end" fill="#45474e" textLength="82.1" lengthAdjust="spacingAndGlyphs">Hubei</text>
<rect x="2279.9" y="1946.5" width="5.1" height="3" fill="#333333"/>
<text x="2267.5" y="1955.7" font-size="30.78" text-anchor="end" fill="#45474e" textLength="90.6" lengthAdjust="spacingAndGlyphs">Henan</text>
<rect x="2279.9" y="1981.1" width="5.1" height="3" fill="#333333"/>
<text x="2267.5" y="1990.3" font-size="30.78" text-anchor="end" fill="#45474e" textLength="172.6" lengthAdjust="spacingAndGlyphs">Heilongjiang</text>
<rect x="2279.9" y="2015.7" width="5.1" height="3" fill="#333333"/>
<text x="2267.5" y="2024.9" font-size="30.78" text-anchor="end" fill="#45474e" textLength="81.2" lengthAdjust="spacingAndGlyphs">Hebei</text>
<rect x="2279.9" y="2050.3" width="5.1" height="3" fill="#333333"/>
<text x="2267.5" y="2059.5" font-size="30.78" text-anchor="end" fill="#45474e" textLength="97.9" lengthAdjust="spacingAndGlyphs">Hainan</text>
<rect x="2279.9" y="2084.9" width="5.1" height="3" fill="#333333"/>
<text x="2267.5" y="2094.1" font-size="30.78" text-anchor="end" fill="#45474e" textLength="114.9" lengthAdjust="spacingAndGlyphs">Guizhou</text>
<rect x="2279.9" y="2119.5" width="5.1" height="3" fill="#333333"/>
<text x="2267.5" y="2128.7" font-size="30.78" text-anchor="end" fill="#45474e" textLength="112.7" lengthAdjust="spacingAndGlyphs">Guangxi</text>
<rect x="2279.9" y="2154.1" width="5.1" height="3" fill="#333333"/>
<text x="2267.5" y="2163.3" font-size="30.78" text-anchor="end" fill="#45474e" textLength="160.1" lengthAdjust="spacingAndGlyphs">Guangdong</text>
<rect x="2279.9" y="2188.7" width="5.1" height="3" fill="#333333"/>
<text x="2267.5" y="2197.9" font-size="30.78" text-anchor="end" fill="#45474e" textLength="87.3" lengthAdjust="spacingAndGlyphs">Gansu</text>
<rect x="2279.9" y="2223.4" width="5.1" height="3" fill="#333333"/>
<text x="2267.5" y="2232.6" font-size="30.78" text-anchor="end" fill="#45474e" textLength="84.1" lengthAdjust="spacingAndGlyphs">Fujian</text>
<rect x="2279.9" y="2258.0" width="5.1" height="3" fill="#333333"/>
<text x="2267.5" y="2267.2" font-size="30.78" text-anchor="end" fill="#45474e" textLength="148.2" lengthAdjust="spacingAndGlyphs">Chongqing</text>
<rect x="2279.9" y="2292.6" width="5.1" height="3" fill="#333333"/>
<text x="2267.5" y="2301.8" font-size="30.78" text-anchor="end" fill="#45474e" textLength="93.6" lengthAdjust="spacingAndGlyphs">Beijing</text>
<rect x="2279.9" y="2327.2" width="5.1" height="3" fill="#333333"/>
<text x="2267.5" y="2336.4" font-size="30.78" text-anchor="end" fill="#45474e" textLength="81.5" lengthAdjust="spacingAndGlyphs">Anhui</text>
<rect x="2339.1" y="2349.6" width="2.6" height="10" fill="#333333"/>
<text x="2340.4" y="2389.0" font-size="30.78" text-anchor="middle" fill="#45474e" textLength="69.3" lengthAdjust="spacingAndGlyphs">2016</text>
<rect x="2404.8" y="2349.6" width="2.6" height="10" fill="#333333"/>
<rect x="2470.5" y="2349.6" width="2.6" height="10" fill="#333333"/>
<text x="2471.8" y="2389.0" font-size="30.78" text-anchor="middle" fill="#45474e" textLength="69.3" lengthAdjust="spacingAndGlyphs">2018</text>
<rect x="2536.2" y="2349.6" width="2.6" height="10" fill="#333333"/>
<rect x="2601.9" y="2349.6" width="2.6" height="10" fill="#333333"/>
<text x="2603.2" y="2389.0" font-size="30.78" text-anchor="middle" fill="#45474e" textLength="69.3" lengthAdjust="spacingAndGlyphs">2020</text>
<rect x="2667.6" y="2349.6" width="2.6" height="10" fill="#333333"/>
<rect x="2733.3" y="2349.6" width="2.6" height="10" fill="#333333"/>
<text x="2734.6" y="2389.0" font-size="30.78" text-anchor="middle" fill="#45474e" textLength="69.3" lengthAdjust="spacingAndGlyphs">2022</text>
<text x="976.0" y="2438.9" font-size="30.87" text-anchor="middle" fill="#000" textLength="62.2" lengthAdjust="spacingAndGlyphs">Year</text>
<text x="2548.7" y="2440.5" font-size="30.87" text-anchor="middle" fill="#000" textLength="62.2" lengthAdjust="spacingAndGlyphs">Year</text>
<text x="49.0" y="1183.2" font-size="30.87" text-anchor="middle" fill="#000" textLength="120.7" lengthAdjust="spacingAndGlyphs" transform="rotate(-90 49.0 1183.2)">Province</text>
<text x="2061.6" y="1183.3" font-size="30.87" text-anchor="middle" fill="#000" textLength="120.7" lengthAdjust="spacingAndGlyphs" transform="rotate(-90 2061.6 1183.3)">Province</text>
<text x="67.5" y="54.4" font-size="48.60" text-anchor="start" fill="#1a1a1a" textLength="31.2" lengthAdjust="spacingAndGlyphs">A</text>
<text x="2091.0" y="53.6" font-size="45.00" text-anchor="start" fill="#1a1a1a" textLength="27.2" lengthAdjust="spacingAndGlyphs">B</text>
<text x="1744.2" y="1033.8" font-size="30.96" text-anchor="start" fill="#000" textLength="308.5" lengthAdjust="spacingAndGlyphs">Carbapenen-Resistant</text>
<text x="1744.2" y="1067.4" font-size="30.96" text-anchor="start" fill="#000" textLength="205.0" lengthAdjust="spacingAndGlyphs">Proportion (%)</text>
<defs><linearGradient id="g1753" x1="0" y1="1" x2="0" y2="0">
<stop offset="0.0000" stop-color="#FFFFFF"/>
<stop offset="0.1220" stop-color="#FCDEDA"/>
<stop offset="0.2439" stop-color="#F9BDB4"/>
<stop offset="0.3659" stop-color="#F7A094"/>
<stop offset="0.4878" stop-color="#F48478"/>
<stop offset="0.6098" stop-color="#F26D64"/>
<stop offset="0.7317" stop-color="#F0574F"/>
<stop offset="0.8537" stop-color="#EE413D"/>
<stop offset="0.9756" stop-color="#EC292B"/>
<stop offset="1.0000" stop-color="#EB2227"/>
</linearGradient></defs>
<rect x="1753" y="1099.7" width="41" height="301.29999999999995" fill="url(#g1753)"/>
<rect x="1753" y="1326.4" width="8.2" height="1.3" fill="#fff"/>
<rect x="1785.8" y="1326.4" width="8.2" height="1.3" fill="#fff"/>
<text x="1811.3" y="1334.6" font-size="30.87" text-anchor="start" fill="#000" textLength="34.8" lengthAdjust="spacingAndGlyphs">20</text>
<rect x="1753" y="1252.7" width="8.2" height="1.3" fill="#fff"/>
<rect x="1785.8" y="1252.7" width="8.2" height="1.3" fill="#fff"/>
<text x="1811.3" y="1260.9" font-size="30.87" text-anchor="start" fill="#000" textLength="34.8" lengthAdjust="spacingAndGlyphs">40</text>
<rect x="1753" y="1178.9" width="8.2" height="1.3" fill="#fff"/>
<rect x="1785.8" y="1178.9" width="8.2" height="1.3" fill="#fff"/>
<text x="1811.3" y="1187.1" font-size="30.87" text-anchor="start" fill="#000" textLength="34.8" lengthAdjust="spacingAndGlyphs">60</text>
<rect x="1753" y="1105.2" width="8.2" height="1.3" fill="#fff"/>
<rect x="1785.8" y="1105.2" width="8.2" height="1.3" fill="#fff"/>
<text x="1811.3" y="1113.4" font-size="30.87" text-anchor="start" fill="#000" textLength="34.8" lengthAdjust="spacingAndGlyphs">80</text>
<text x="2811.8" y="1027.1" font-size="30.96" text-anchor="start" fill="#000" textLength="309.0" lengthAdjust="spacingAndGlyphs">Vancomycin-Resistant</text>
<text x="2811.8" y="1060.8" font-size="30.96" text-anchor="start" fill="#000" textLength="205.0" lengthAdjust="spacingAndGlyphs">Proportion (%)</text>
<defs><linearGradient id="g2820" x1="0" y1="1" x2="0" y2="0">
<stop offset="0.0000" stop-color="#FFFFFF"/>
<stop offset="0.0851" stop-color="#F0E7F4"/>
<stop offset="0.1702" stop-color="#DFCDE9"/>
<stop offset="0.2553" stop-color="#CAB2DD"/>
<stop offset="0.3830" stop-color="#AD92CF"/>
<stop offset="0.5106" stop-color="#8F76C2"/>
<stop offset="0.6383" stop-color="#7561B8"/>
<stop offset="0.7660" stop-color="#5C50AE"/>
<stop offset="0.8936" stop-color="#4651A9"/>
<stop offset="1.0000" stop-color="#3452A5"/>
</linearGradient></defs>
<rect x="2820.3" y="1082.8" width="32.5" height="301.79999999999995" fill="url(#g2820)"/>
<rect x="2820.3" y="1384.0" width="6.5" height="1.3" fill="#fff"/>
<rect x="2846.3" y="1384.0" width="6.5" height="1.3" fill="#fff"/>
<text x="2870.0" y="1392.2" font-size="30.87" text-anchor="start" fill="#000" textLength="17.4" lengthAdjust="spacingAndGlyphs">0</text>
<rect x="2820.3" y="1307.0" width="6.5" height="1.3" fill="#fff"/>
<rect x="2846.3" y="1307.0" width="6.5" height="1.3" fill="#fff"/>
<text x="2870.0" y="1315.2" font-size="30.87" text-anchor="start" fill="#000" textLength="17.4" lengthAdjust="spacingAndGlyphs">3</text>
<rect x="2820.3" y="1230.0" width="6.5" height="1.3" fill="#fff"/>
<rect x="2846.3" y="1230.0" width="6.5" height="1.3" fill="#fff"/>
<text x="2870.0" y="1238.2" font-size="30.87" text-anchor="start" fill="#000" textLength="17.4" lengthAdjust="spacingAndGlyphs">6</text>
<rect x="2820.3" y="1153.0" width="6.5" height="1.3" fill="#fff"/>
<rect x="2846.3" y="1153.0" width="6.5" height="1.3" fill="#fff"/>
<text x="2870.0" y="1161.2" font-size="30.87" text-anchor="start" fill="#000" textLength="17.4" lengthAdjust="spacingAndGlyphs">9</text>
</svg></body></html>
